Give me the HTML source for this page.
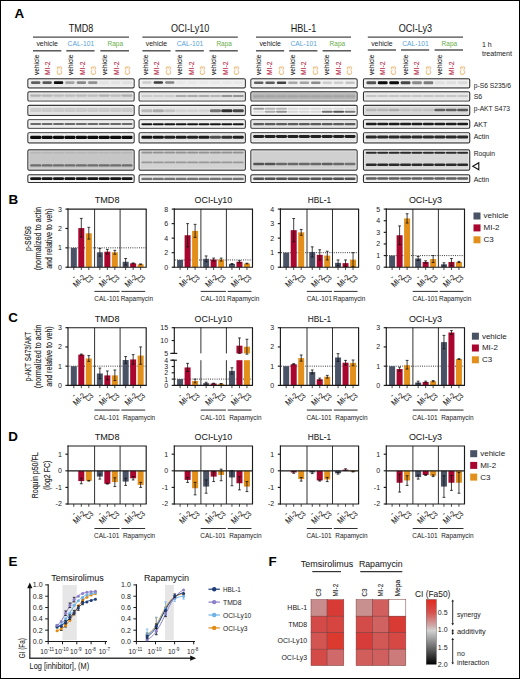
<!DOCTYPE html>
<html><head><meta charset="utf-8"><style>
html,body{margin:0;padding:0;background:#fff;}
svg{display:block;font-family:"Liberation Sans", sans-serif;}
</style></head><body>
<svg width="520" height="679" viewBox="0 0 520 679">
<defs><filter id="bl" x="-5%" y="-20%" width="110%" height="140%"><feGaussianBlur stdDeviation="0.45"/></filter></defs>
<rect x="0" y="0" width="520" height="679" fill="#fff"/>
<text x="14.60" y="17.80" font-size="13.4" fill="#000" font-weight="bold" >A</text>
<text x="8.40" y="203.70" font-size="13.4" fill="#000" font-weight="bold" >B</text>
<text x="8.20" y="322.30" font-size="13.4" fill="#000" font-weight="bold" >C</text>
<text x="8.20" y="440.60" font-size="13.4" fill="#000" font-weight="bold" >D</text>
<text x="8.60" y="565.80" font-size="13.4" fill="#000" font-weight="bold" >E</text>
<text x="268.60" y="565.60" font-size="13.4" fill="#000" font-weight="bold" >F</text>
<line x1="33.00" y1="37.10" x2="129.00" y2="37.10" stroke="#4a4a4a" stroke-width="1.4" />
<text x="81.00" y="32.10" font-size="10.4" fill="#1a1a1a" stroke="#1a1a1a" stroke-width="0.05" text-anchor="middle" textLength="24.6" lengthAdjust="spacingAndGlyphs" >TMD8</text>
<line x1="33.00" y1="50.80" x2="61.30" y2="50.80" stroke="#4a4a4a" stroke-width="1.4" />
<text x="47.15" y="46.40" font-size="7.5" fill="#1a1a1a" text-anchor="middle" textLength="21.4" lengthAdjust="spacingAndGlyphs" >vehicle</text>
<line x1="66.30" y1="50.80" x2="94.60" y2="50.80" stroke="#4a4a4a" stroke-width="1.4" />
<text x="80.85" y="46.40" font-size="7.5" fill="#5a9fd8" text-anchor="middle" textLength="26.6" lengthAdjust="spacingAndGlyphs" >CAL-101</text>
<line x1="100.30" y1="50.80" x2="129.00" y2="50.80" stroke="#4a4a4a" stroke-width="1.4" />
<text x="115.25" y="46.40" font-size="7.5" fill="#69ad47" text-anchor="middle" textLength="15.6" lengthAdjust="spacingAndGlyphs" >Rapa</text>
<text x="38.90" y="75.00" font-size="7.2" fill="#1a1a1a" stroke="#1a1a1a" stroke-width="0.08" textLength="20.4" lengthAdjust="spacingAndGlyphs" transform="rotate(-90 38.90 75.00)" >vehicle</text>
<text x="50.32" y="75.00" font-size="7.2" fill="#b5193d" stroke="#b5193d" stroke-width="0.08" textLength="13.4" lengthAdjust="spacingAndGlyphs" transform="rotate(-90 50.32 75.00)" >MI-2</text>
<text x="61.74" y="75.00" font-size="7.2" fill="#e6a23c" textLength="9.0" lengthAdjust="spacingAndGlyphs" transform="rotate(-90 61.74 75.00)" >C3</text>
<text x="73.16" y="75.00" font-size="7.2" fill="#1a1a1a" stroke="#1a1a1a" stroke-width="0.08" textLength="20.4" lengthAdjust="spacingAndGlyphs" transform="rotate(-90 73.16 75.00)" >vehicle</text>
<text x="84.58" y="75.00" font-size="7.2" fill="#b5193d" stroke="#b5193d" stroke-width="0.08" textLength="13.4" lengthAdjust="spacingAndGlyphs" transform="rotate(-90 84.58 75.00)" >MI-2</text>
<text x="96.00" y="75.00" font-size="7.2" fill="#e6a23c" textLength="9.0" lengthAdjust="spacingAndGlyphs" transform="rotate(-90 96.00 75.00)" >C3</text>
<text x="107.42" y="75.00" font-size="7.2" fill="#1a1a1a" stroke="#1a1a1a" stroke-width="0.08" textLength="20.4" lengthAdjust="spacingAndGlyphs" transform="rotate(-90 107.42 75.00)" >vehicle</text>
<text x="118.84" y="75.00" font-size="7.2" fill="#b5193d" stroke="#b5193d" stroke-width="0.08" textLength="13.4" lengthAdjust="spacingAndGlyphs" transform="rotate(-90 118.84 75.00)" >MI-2</text>
<text x="130.26" y="75.00" font-size="7.2" fill="#e6a23c" textLength="9.0" lengthAdjust="spacingAndGlyphs" transform="rotate(-90 130.26 75.00)" >C3</text>
<line x1="142.40" y1="37.10" x2="237.80" y2="37.10" stroke="#4a4a4a" stroke-width="1.4" />
<text x="190.10" y="32.10" font-size="10.4" fill="#1a1a1a" stroke="#1a1a1a" stroke-width="0.05" text-anchor="middle" textLength="38.4" lengthAdjust="spacingAndGlyphs" >OCI-Ly10</text>
<line x1="142.40" y1="50.80" x2="170.60" y2="50.80" stroke="#4a4a4a" stroke-width="1.4" />
<text x="156.50" y="46.40" font-size="7.5" fill="#1a1a1a" text-anchor="middle" textLength="21.4" lengthAdjust="spacingAndGlyphs" >vehicle</text>
<line x1="175.40" y1="50.80" x2="203.80" y2="50.80" stroke="#4a4a4a" stroke-width="1.4" />
<text x="190.00" y="46.40" font-size="7.5" fill="#5a9fd8" text-anchor="middle" textLength="26.6" lengthAdjust="spacingAndGlyphs" >CAL-101</text>
<line x1="209.40" y1="50.80" x2="237.80" y2="50.80" stroke="#4a4a4a" stroke-width="1.4" />
<text x="224.20" y="46.40" font-size="7.5" fill="#69ad47" text-anchor="middle" textLength="15.6" lengthAdjust="spacingAndGlyphs" >Rapa</text>
<text x="147.90" y="75.00" font-size="7.2" fill="#1a1a1a" stroke="#1a1a1a" stroke-width="0.08" textLength="20.4" lengthAdjust="spacingAndGlyphs" transform="rotate(-90 147.90 75.00)" >vehicle</text>
<text x="159.32" y="75.00" font-size="7.2" fill="#b5193d" stroke="#b5193d" stroke-width="0.08" textLength="13.4" lengthAdjust="spacingAndGlyphs" transform="rotate(-90 159.32 75.00)" >MI-2</text>
<text x="170.74" y="75.00" font-size="7.2" fill="#e6a23c" textLength="9.0" lengthAdjust="spacingAndGlyphs" transform="rotate(-90 170.74 75.00)" >C3</text>
<text x="182.16" y="75.00" font-size="7.2" fill="#1a1a1a" stroke="#1a1a1a" stroke-width="0.08" textLength="20.4" lengthAdjust="spacingAndGlyphs" transform="rotate(-90 182.16 75.00)" >vehicle</text>
<text x="193.58" y="75.00" font-size="7.2" fill="#b5193d" stroke="#b5193d" stroke-width="0.08" textLength="13.4" lengthAdjust="spacingAndGlyphs" transform="rotate(-90 193.58 75.00)" >MI-2</text>
<text x="205.00" y="75.00" font-size="7.2" fill="#e6a23c" textLength="9.0" lengthAdjust="spacingAndGlyphs" transform="rotate(-90 205.00 75.00)" >C3</text>
<text x="216.42" y="75.00" font-size="7.2" fill="#1a1a1a" stroke="#1a1a1a" stroke-width="0.08" textLength="20.4" lengthAdjust="spacingAndGlyphs" transform="rotate(-90 216.42 75.00)" >vehicle</text>
<text x="227.84" y="75.00" font-size="7.2" fill="#b5193d" stroke="#b5193d" stroke-width="0.08" textLength="13.4" lengthAdjust="spacingAndGlyphs" transform="rotate(-90 227.84 75.00)" >MI-2</text>
<text x="239.26" y="75.00" font-size="7.2" fill="#e6a23c" textLength="9.0" lengthAdjust="spacingAndGlyphs" transform="rotate(-90 239.26 75.00)" >C3</text>
<line x1="256.00" y1="37.10" x2="351.00" y2="37.10" stroke="#4a4a4a" stroke-width="1.4" />
<text x="303.50" y="32.10" font-size="10.4" fill="#1a1a1a" stroke="#1a1a1a" stroke-width="0.05" text-anchor="middle" textLength="25.6" lengthAdjust="spacingAndGlyphs" >HBL-1</text>
<line x1="256.00" y1="50.80" x2="284.20" y2="50.80" stroke="#4a4a4a" stroke-width="1.4" />
<text x="270.10" y="46.40" font-size="7.5" fill="#1a1a1a" text-anchor="middle" textLength="21.4" lengthAdjust="spacingAndGlyphs" >vehicle</text>
<line x1="289.20" y1="50.80" x2="317.40" y2="50.80" stroke="#4a4a4a" stroke-width="1.4" />
<text x="303.70" y="46.40" font-size="7.5" fill="#5a9fd8" text-anchor="middle" textLength="26.6" lengthAdjust="spacingAndGlyphs" >CAL-101</text>
<line x1="322.60" y1="50.80" x2="351.00" y2="50.80" stroke="#4a4a4a" stroke-width="1.4" />
<text x="337.40" y="46.40" font-size="7.5" fill="#69ad47" text-anchor="middle" textLength="15.6" lengthAdjust="spacingAndGlyphs" >Rapa</text>
<text x="260.80" y="75.00" font-size="7.2" fill="#1a1a1a" stroke="#1a1a1a" stroke-width="0.08" textLength="20.4" lengthAdjust="spacingAndGlyphs" transform="rotate(-90 260.80 75.00)" >vehicle</text>
<text x="272.22" y="75.00" font-size="7.2" fill="#b5193d" stroke="#b5193d" stroke-width="0.08" textLength="13.4" lengthAdjust="spacingAndGlyphs" transform="rotate(-90 272.22 75.00)" >MI-2</text>
<text x="283.64" y="75.00" font-size="7.2" fill="#e6a23c" textLength="9.0" lengthAdjust="spacingAndGlyphs" transform="rotate(-90 283.64 75.00)" >C3</text>
<text x="295.06" y="75.00" font-size="7.2" fill="#1a1a1a" stroke="#1a1a1a" stroke-width="0.08" textLength="20.4" lengthAdjust="spacingAndGlyphs" transform="rotate(-90 295.06 75.00)" >vehicle</text>
<text x="306.48" y="75.00" font-size="7.2" fill="#b5193d" stroke="#b5193d" stroke-width="0.08" textLength="13.4" lengthAdjust="spacingAndGlyphs" transform="rotate(-90 306.48 75.00)" >MI-2</text>
<text x="317.90" y="75.00" font-size="7.2" fill="#e6a23c" textLength="9.0" lengthAdjust="spacingAndGlyphs" transform="rotate(-90 317.90 75.00)" >C3</text>
<text x="329.32" y="75.00" font-size="7.2" fill="#1a1a1a" stroke="#1a1a1a" stroke-width="0.08" textLength="20.4" lengthAdjust="spacingAndGlyphs" transform="rotate(-90 329.32 75.00)" >vehicle</text>
<text x="340.74" y="75.00" font-size="7.2" fill="#b5193d" stroke="#b5193d" stroke-width="0.08" textLength="13.4" lengthAdjust="spacingAndGlyphs" transform="rotate(-90 340.74 75.00)" >MI-2</text>
<text x="352.16" y="75.00" font-size="7.2" fill="#e6a23c" textLength="9.0" lengthAdjust="spacingAndGlyphs" transform="rotate(-90 352.16 75.00)" >C3</text>
<line x1="367.80" y1="37.10" x2="463.00" y2="37.10" stroke="#4a4a4a" stroke-width="1.4" />
<text x="415.40" y="32.10" font-size="10.4" fill="#1a1a1a" stroke="#1a1a1a" stroke-width="0.05" text-anchor="middle" textLength="33.4" lengthAdjust="spacingAndGlyphs" >OCI-Ly3</text>
<line x1="367.80" y1="50.00" x2="396.00" y2="50.00" stroke="#4a4a4a" stroke-width="1.4" />
<text x="381.90" y="46.40" font-size="7.5" fill="#1a1a1a" text-anchor="middle" textLength="21.4" lengthAdjust="spacingAndGlyphs" >vehicle</text>
<line x1="401.00" y1="50.00" x2="429.20" y2="50.00" stroke="#4a4a4a" stroke-width="1.4" />
<text x="415.50" y="46.40" font-size="7.5" fill="#5a9fd8" text-anchor="middle" textLength="26.6" lengthAdjust="spacingAndGlyphs" >CAL-101</text>
<line x1="434.60" y1="50.00" x2="463.00" y2="50.00" stroke="#4a4a4a" stroke-width="1.4" />
<text x="449.40" y="46.40" font-size="7.5" fill="#69ad47" text-anchor="middle" textLength="15.6" lengthAdjust="spacingAndGlyphs" >Rapa</text>
<text x="373.60" y="75.00" font-size="7.2" fill="#1a1a1a" stroke="#1a1a1a" stroke-width="0.08" textLength="20.4" lengthAdjust="spacingAndGlyphs" transform="rotate(-90 373.60 75.00)" >vehicle</text>
<text x="385.02" y="75.00" font-size="7.2" fill="#b5193d" stroke="#b5193d" stroke-width="0.08" textLength="13.4" lengthAdjust="spacingAndGlyphs" transform="rotate(-90 385.02 75.00)" >MI-2</text>
<text x="396.44" y="75.00" font-size="7.2" fill="#e6a23c" textLength="9.0" lengthAdjust="spacingAndGlyphs" transform="rotate(-90 396.44 75.00)" >C3</text>
<text x="407.86" y="75.00" font-size="7.2" fill="#1a1a1a" stroke="#1a1a1a" stroke-width="0.08" textLength="20.4" lengthAdjust="spacingAndGlyphs" transform="rotate(-90 407.86 75.00)" >vehicle</text>
<text x="419.28" y="75.00" font-size="7.2" fill="#b5193d" stroke="#b5193d" stroke-width="0.08" textLength="13.4" lengthAdjust="spacingAndGlyphs" transform="rotate(-90 419.28 75.00)" >MI-2</text>
<text x="430.70" y="75.00" font-size="7.2" fill="#e6a23c" textLength="9.0" lengthAdjust="spacingAndGlyphs" transform="rotate(-90 430.70 75.00)" >C3</text>
<text x="442.12" y="75.00" font-size="7.2" fill="#1a1a1a" stroke="#1a1a1a" stroke-width="0.08" textLength="20.4" lengthAdjust="spacingAndGlyphs" transform="rotate(-90 442.12 75.00)" >vehicle</text>
<text x="453.54" y="75.00" font-size="7.2" fill="#b5193d" stroke="#b5193d" stroke-width="0.08" textLength="13.4" lengthAdjust="spacingAndGlyphs" transform="rotate(-90 453.54 75.00)" >MI-2</text>
<text x="464.96" y="75.00" font-size="7.2" fill="#e6a23c" textLength="9.0" lengthAdjust="spacingAndGlyphs" transform="rotate(-90 464.96 75.00)" >C3</text>
<text x="482.00" y="46.60" font-size="7" fill="#1a1a1a" >1 h</text>
<text x="482.00" y="55.80" font-size="7" fill="#1a1a1a" textLength="30" lengthAdjust="spacingAndGlyphs" >treatment</text>
<g filter="url(#bl)">
<rect x="28.00" y="78.90" width="106.00" height="8.90" fill="#ebebeb" />
<rect x="31.00" y="81.20" width="9.40" height="2.80" rx="1.3" fill="#000" fill-opacity="0.60"/>
<rect x="42.42" y="81.20" width="9.40" height="2.80" rx="1.3" fill="#000" fill-opacity="0.62"/>
<rect x="53.84" y="81.20" width="9.40" height="2.80" rx="1.3" fill="#000" fill-opacity="0.97"/>
<rect x="65.26" y="81.20" width="9.40" height="2.80" rx="1.3" fill="#000" fill-opacity="0.30"/>
<rect x="76.68" y="81.20" width="9.40" height="2.80" rx="1.3" fill="#000" fill-opacity="0.42"/>
<rect x="88.10" y="81.20" width="9.40" height="2.80" rx="1.3" fill="#000" fill-opacity="0.38"/>
<rect x="99.52" y="81.20" width="9.40" height="2.80" rx="1.3" fill="#000" fill-opacity="0.04"/>
<rect x="110.94" y="81.20" width="9.40" height="2.80" rx="1.3" fill="#000" fill-opacity="0.04"/>
<rect x="122.36" y="81.20" width="9.40" height="2.80" rx="1.3" fill="#000" fill-opacity="0.05"/>
<rect x="28.00" y="91.90" width="106.00" height="9.00" fill="#dedede" />
<rect x="30.15" y="94.50" width="11.10" height="2.20" rx="1.3" fill="#000" fill-opacity="0.20"/>
<rect x="41.57" y="94.50" width="11.10" height="2.20" rx="1.3" fill="#000" fill-opacity="0.18"/>
<rect x="52.99" y="94.50" width="11.10" height="2.20" rx="1.3" fill="#000" fill-opacity="0.15"/>
<rect x="64.41" y="94.50" width="11.10" height="2.20" rx="1.3" fill="#000" fill-opacity="0.15"/>
<rect x="75.83" y="94.50" width="11.10" height="2.20" rx="1.3" fill="#000" fill-opacity="0.16"/>
<rect x="87.25" y="94.50" width="11.10" height="2.20" rx="1.3" fill="#000" fill-opacity="0.14"/>
<rect x="98.67" y="94.50" width="11.10" height="2.20" rx="1.3" fill="#000" fill-opacity="0.20"/>
<rect x="110.09" y="94.50" width="11.10" height="2.20" rx="1.3" fill="#000" fill-opacity="0.14"/>
<rect x="121.51" y="94.50" width="11.10" height="2.20" rx="1.3" fill="#000" fill-opacity="0.22"/>
<rect x="28.00" y="105.40" width="106.00" height="9.90" fill="#e2e2e2" />
<rect x="30.15" y="108.00" width="11.10" height="4.00" rx="1.3" fill="#000" fill-opacity="0.10"/>
<rect x="41.57" y="108.00" width="11.10" height="4.00" rx="1.3" fill="#000" fill-opacity="0.10"/>
<rect x="52.99" y="108.00" width="11.10" height="4.00" rx="1.3" fill="#000" fill-opacity="0.10"/>
<rect x="64.41" y="108.00" width="11.10" height="4.00" rx="1.3" fill="#000" fill-opacity="0.10"/>
<rect x="75.83" y="108.00" width="11.10" height="4.00" rx="1.3" fill="#000" fill-opacity="0.10"/>
<rect x="87.25" y="108.00" width="11.10" height="4.00" rx="1.3" fill="#000" fill-opacity="0.10"/>
<rect x="98.67" y="108.00" width="11.10" height="4.00" rx="1.3" fill="#000" fill-opacity="0.10"/>
<rect x="110.09" y="108.00" width="11.10" height="4.00" rx="1.3" fill="#000" fill-opacity="0.10"/>
<rect x="121.51" y="108.00" width="11.10" height="4.00" rx="1.3" fill="#000" fill-opacity="0.10"/>
<rect x="28.00" y="119.80" width="106.00" height="8.30" fill="#ececec" />
<rect x="30.15" y="122.90" width="11.10" height="2.20" rx="1.3" fill="#000" fill-opacity="0.55"/>
<rect x="41.57" y="122.90" width="11.10" height="2.20" rx="1.3" fill="#000" fill-opacity="0.55"/>
<rect x="52.99" y="122.90" width="11.10" height="2.20" rx="1.3" fill="#000" fill-opacity="0.55"/>
<rect x="64.41" y="122.90" width="11.10" height="2.20" rx="1.3" fill="#000" fill-opacity="0.55"/>
<rect x="75.83" y="122.90" width="11.10" height="2.20" rx="1.3" fill="#000" fill-opacity="0.55"/>
<rect x="87.25" y="122.90" width="11.10" height="2.20" rx="1.3" fill="#000" fill-opacity="0.55"/>
<rect x="98.67" y="122.90" width="11.10" height="2.20" rx="1.3" fill="#000" fill-opacity="0.55"/>
<rect x="110.09" y="122.90" width="11.10" height="2.20" rx="1.3" fill="#000" fill-opacity="0.55"/>
<rect x="121.51" y="122.90" width="11.10" height="2.20" rx="1.3" fill="#000" fill-opacity="0.55"/>
<rect x="28.00" y="132.80" width="106.00" height="10.00" fill="#ececec" />
<rect x="30.15" y="135.80" width="11.10" height="3.20" rx="1.3" fill="#000" fill-opacity="0.95"/>
<rect x="41.57" y="135.80" width="11.10" height="3.20" rx="1.3" fill="#000" fill-opacity="0.95"/>
<rect x="52.99" y="135.80" width="11.10" height="3.20" rx="1.3" fill="#000" fill-opacity="0.95"/>
<rect x="64.41" y="135.80" width="11.10" height="3.20" rx="1.3" fill="#000" fill-opacity="0.95"/>
<rect x="75.83" y="135.80" width="11.10" height="3.20" rx="1.3" fill="#000" fill-opacity="0.95"/>
<rect x="87.25" y="135.80" width="11.10" height="3.20" rx="1.3" fill="#000" fill-opacity="0.95"/>
<rect x="98.67" y="135.80" width="11.10" height="3.20" rx="1.3" fill="#000" fill-opacity="0.95"/>
<rect x="110.09" y="135.80" width="11.10" height="3.20" rx="1.3" fill="#000" fill-opacity="0.95"/>
<rect x="121.51" y="135.80" width="11.10" height="3.20" rx="1.3" fill="#000" fill-opacity="0.95"/>
<rect x="28.00" y="150.00" width="106.00" height="20.00" fill="#c6c6c6" />
<rect x="30.15" y="151.40" width="11.10" height="2.00" rx="1.3" fill="#000" fill-opacity="0.08"/>
<rect x="41.57" y="151.40" width="11.10" height="2.00" rx="1.3" fill="#000" fill-opacity="0.08"/>
<rect x="52.99" y="151.40" width="11.10" height="2.00" rx="1.3" fill="#000" fill-opacity="0.08"/>
<rect x="64.41" y="151.40" width="11.10" height="2.00" rx="1.3" fill="#000" fill-opacity="0.08"/>
<rect x="75.83" y="151.40" width="11.10" height="2.00" rx="1.3" fill="#000" fill-opacity="0.08"/>
<rect x="87.25" y="151.40" width="11.10" height="2.00" rx="1.3" fill="#000" fill-opacity="0.08"/>
<rect x="98.67" y="151.40" width="11.10" height="2.00" rx="1.3" fill="#000" fill-opacity="0.08"/>
<rect x="110.09" y="151.40" width="11.10" height="2.00" rx="1.3" fill="#000" fill-opacity="0.08"/>
<rect x="121.51" y="151.40" width="11.10" height="2.00" rx="1.3" fill="#000" fill-opacity="0.08"/>
<rect x="30.15" y="164.20" width="11.10" height="2.40" rx="1.3" fill="#000" fill-opacity="0.45"/>
<rect x="41.57" y="164.20" width="11.10" height="2.40" rx="1.3" fill="#000" fill-opacity="0.45"/>
<rect x="52.99" y="164.20" width="11.10" height="2.40" rx="1.3" fill="#000" fill-opacity="0.45"/>
<rect x="64.41" y="164.20" width="11.10" height="2.40" rx="1.3" fill="#000" fill-opacity="0.45"/>
<rect x="75.83" y="164.20" width="11.10" height="2.40" rx="1.3" fill="#000" fill-opacity="0.45"/>
<rect x="87.25" y="164.20" width="11.10" height="2.40" rx="1.3" fill="#000" fill-opacity="0.45"/>
<rect x="98.67" y="164.20" width="11.10" height="2.40" rx="1.3" fill="#000" fill-opacity="0.45"/>
<rect x="110.09" y="164.20" width="11.10" height="2.40" rx="1.3" fill="#000" fill-opacity="0.45"/>
<rect x="121.51" y="164.20" width="11.10" height="2.40" rx="1.3" fill="#000" fill-opacity="0.45"/>
<rect x="28.00" y="174.90" width="106.00" height="7.50" fill="#f2f2f2" />
<rect x="30.15" y="177.35" width="11.10" height="2.70" rx="1.3" fill="#000" fill-opacity="0.92"/>
<rect x="41.57" y="177.35" width="11.10" height="2.70" rx="1.3" fill="#000" fill-opacity="0.92"/>
<rect x="52.99" y="177.35" width="11.10" height="2.70" rx="1.3" fill="#000" fill-opacity="0.92"/>
<rect x="64.41" y="177.35" width="11.10" height="2.70" rx="1.3" fill="#000" fill-opacity="0.92"/>
<rect x="75.83" y="177.35" width="11.10" height="2.70" rx="1.3" fill="#000" fill-opacity="0.92"/>
<rect x="87.25" y="177.35" width="11.10" height="2.70" rx="1.3" fill="#000" fill-opacity="0.92"/>
<rect x="98.67" y="177.35" width="11.10" height="2.70" rx="1.3" fill="#000" fill-opacity="0.92"/>
<rect x="110.09" y="177.35" width="11.10" height="2.70" rx="1.3" fill="#000" fill-opacity="0.92"/>
<rect x="121.51" y="177.35" width="11.10" height="2.70" rx="1.3" fill="#000" fill-opacity="0.92"/>
<rect x="139.20" y="78.90" width="106.00" height="8.90" fill="#efefef" />
<rect x="142.20" y="81.30" width="9.40" height="2.40" rx="1.3" fill="#000" fill-opacity="0.15"/>
<rect x="153.62" y="81.30" width="9.40" height="2.40" rx="1.3" fill="#000" fill-opacity="0.75"/>
<rect x="165.04" y="81.30" width="9.40" height="2.40" rx="1.3" fill="#000" fill-opacity="0.45"/>
<rect x="176.46" y="81.30" width="9.40" height="2.40" rx="1.3" fill="#000" fill-opacity="0.03"/>
<rect x="187.88" y="81.30" width="9.40" height="2.40" rx="1.3" fill="#000" fill-opacity="0.03"/>
<rect x="199.30" y="81.30" width="9.40" height="2.40" rx="1.3" fill="#000" fill-opacity="0.03"/>
<rect x="210.72" y="81.30" width="9.40" height="2.40" rx="1.3" fill="#000" fill-opacity="0.03"/>
<rect x="222.14" y="81.30" width="9.40" height="2.40" rx="1.3" fill="#000" fill-opacity="0.03"/>
<rect x="233.56" y="81.30" width="9.40" height="2.40" rx="1.3" fill="#000" fill-opacity="0.03"/>
<rect x="139.20" y="91.90" width="106.00" height="9.00" fill="#e3e3e3" />
<rect x="141.35" y="94.90" width="11.10" height="2.00" rx="1.3" fill="#000" fill-opacity="0.10"/>
<rect x="152.77" y="94.90" width="11.10" height="2.00" rx="1.3" fill="#000" fill-opacity="0.10"/>
<rect x="164.19" y="94.90" width="11.10" height="2.00" rx="1.3" fill="#000" fill-opacity="0.10"/>
<rect x="175.61" y="94.90" width="11.10" height="2.00" rx="1.3" fill="#000" fill-opacity="0.25"/>
<rect x="187.03" y="94.90" width="11.10" height="2.00" rx="1.3" fill="#000" fill-opacity="0.25"/>
<rect x="198.45" y="94.90" width="11.10" height="2.00" rx="1.3" fill="#000" fill-opacity="0.25"/>
<rect x="209.87" y="94.90" width="11.10" height="2.00" rx="1.3" fill="#000" fill-opacity="0.20"/>
<rect x="221.29" y="94.90" width="11.10" height="2.00" rx="1.3" fill="#000" fill-opacity="0.35"/>
<rect x="232.71" y="94.90" width="11.10" height="2.00" rx="1.3" fill="#000" fill-opacity="0.35"/>
<rect x="139.20" y="105.40" width="106.00" height="9.90" fill="#e6e6e6" />
<rect x="141.35" y="109.30" width="11.10" height="3.00" rx="1.3" fill="#000" fill-opacity="0.20"/>
<rect x="152.77" y="109.30" width="11.10" height="3.00" rx="1.3" fill="#000" fill-opacity="0.25"/>
<rect x="164.19" y="109.30" width="11.10" height="3.00" rx="1.3" fill="#000" fill-opacity="0.15"/>
<rect x="175.61" y="109.30" width="11.10" height="3.00" rx="1.3" fill="#000" fill-opacity="0.08"/>
<rect x="187.03" y="109.30" width="11.10" height="3.00" rx="1.3" fill="#000" fill-opacity="0.08"/>
<rect x="198.45" y="109.30" width="11.10" height="3.00" rx="1.3" fill="#000" fill-opacity="0.08"/>
<rect x="209.87" y="109.30" width="11.10" height="3.00" rx="1.3" fill="#000" fill-opacity="0.50"/>
<rect x="221.29" y="109.30" width="11.10" height="3.00" rx="1.3" fill="#000" fill-opacity="0.80"/>
<rect x="232.71" y="109.30" width="11.10" height="3.00" rx="1.3" fill="#000" fill-opacity="0.70"/>
<rect x="139.20" y="119.80" width="106.00" height="8.30" fill="#eeeeee" />
<rect x="141.35" y="123.15" width="11.10" height="2.10" rx="1.3" fill="#000" fill-opacity="0.90"/>
<rect x="152.77" y="123.15" width="11.10" height="2.10" rx="1.3" fill="#000" fill-opacity="0.90"/>
<rect x="164.19" y="123.15" width="11.10" height="2.10" rx="1.3" fill="#000" fill-opacity="0.90"/>
<rect x="175.61" y="123.15" width="11.10" height="2.10" rx="1.3" fill="#000" fill-opacity="0.90"/>
<rect x="187.03" y="123.15" width="11.10" height="2.10" rx="1.3" fill="#000" fill-opacity="0.90"/>
<rect x="198.45" y="123.15" width="11.10" height="2.10" rx="1.3" fill="#000" fill-opacity="0.90"/>
<rect x="209.87" y="123.15" width="11.10" height="2.10" rx="1.3" fill="#000" fill-opacity="0.90"/>
<rect x="221.29" y="123.15" width="11.10" height="2.10" rx="1.3" fill="#000" fill-opacity="0.90"/>
<rect x="232.71" y="123.15" width="11.10" height="2.10" rx="1.3" fill="#000" fill-opacity="0.90"/>
<rect x="139.20" y="132.80" width="106.00" height="10.00" fill="#e6e6e6" />
<rect x="141.35" y="135.70" width="11.10" height="3.00" rx="1.3" fill="#000" fill-opacity="0.90"/>
<rect x="152.77" y="135.70" width="11.10" height="3.00" rx="1.3" fill="#000" fill-opacity="0.90"/>
<rect x="164.19" y="135.70" width="11.10" height="3.00" rx="1.3" fill="#000" fill-opacity="0.85"/>
<rect x="175.61" y="135.70" width="11.10" height="3.00" rx="1.3" fill="#000" fill-opacity="0.88"/>
<rect x="187.03" y="135.70" width="11.10" height="3.00" rx="1.3" fill="#000" fill-opacity="0.85"/>
<rect x="198.45" y="135.70" width="11.10" height="3.00" rx="1.3" fill="#000" fill-opacity="0.88"/>
<rect x="209.87" y="135.70" width="11.10" height="3.00" rx="1.3" fill="#000" fill-opacity="0.65"/>
<rect x="221.29" y="135.70" width="11.10" height="3.00" rx="1.3" fill="#000" fill-opacity="0.78"/>
<rect x="232.71" y="135.70" width="11.10" height="3.00" rx="1.3" fill="#000" fill-opacity="0.85"/>
<rect x="139.20" y="150.00" width="106.00" height="20.00" fill="#d2d2d2" />
<rect x="141.35" y="151.60" width="11.10" height="2.00" rx="1.3" fill="#000" fill-opacity="0.30"/>
<rect x="152.77" y="151.60" width="11.10" height="2.00" rx="1.3" fill="#000" fill-opacity="0.30"/>
<rect x="164.19" y="151.60" width="11.10" height="2.00" rx="1.3" fill="#000" fill-opacity="0.30"/>
<rect x="175.61" y="151.60" width="11.10" height="2.00" rx="1.3" fill="#000" fill-opacity="0.30"/>
<rect x="187.03" y="151.60" width="11.10" height="2.00" rx="1.3" fill="#000" fill-opacity="0.30"/>
<rect x="198.45" y="151.60" width="11.10" height="2.00" rx="1.3" fill="#000" fill-opacity="0.30"/>
<rect x="209.87" y="151.60" width="11.10" height="2.00" rx="1.3" fill="#000" fill-opacity="0.30"/>
<rect x="221.29" y="151.60" width="11.10" height="2.00" rx="1.3" fill="#000" fill-opacity="0.30"/>
<rect x="232.71" y="151.60" width="11.10" height="2.00" rx="1.3" fill="#000" fill-opacity="0.30"/>
<rect x="141.35" y="161.50" width="11.10" height="1.80" rx="1.3" fill="#000" fill-opacity="0.28"/>
<rect x="152.77" y="161.50" width="11.10" height="1.80" rx="1.3" fill="#000" fill-opacity="0.28"/>
<rect x="164.19" y="161.50" width="11.10" height="1.80" rx="1.3" fill="#000" fill-opacity="0.28"/>
<rect x="175.61" y="161.50" width="11.10" height="1.80" rx="1.3" fill="#000" fill-opacity="0.28"/>
<rect x="187.03" y="161.50" width="11.10" height="1.80" rx="1.3" fill="#000" fill-opacity="0.28"/>
<rect x="198.45" y="161.50" width="11.10" height="1.80" rx="1.3" fill="#000" fill-opacity="0.28"/>
<rect x="209.87" y="161.50" width="11.10" height="1.80" rx="1.3" fill="#000" fill-opacity="0.28"/>
<rect x="221.29" y="161.50" width="11.10" height="1.80" rx="1.3" fill="#000" fill-opacity="0.28"/>
<rect x="232.71" y="161.50" width="11.10" height="1.80" rx="1.3" fill="#000" fill-opacity="0.28"/>
<rect x="139.20" y="174.90" width="106.00" height="7.50" fill="#e8e8e8" />
<rect x="141.35" y="177.70" width="11.10" height="2.40" rx="1.3" fill="#000" fill-opacity="0.50"/>
<rect x="152.77" y="177.70" width="11.10" height="2.40" rx="1.3" fill="#000" fill-opacity="0.50"/>
<rect x="164.19" y="177.70" width="11.10" height="2.40" rx="1.3" fill="#000" fill-opacity="0.50"/>
<rect x="175.61" y="177.70" width="11.10" height="2.40" rx="1.3" fill="#000" fill-opacity="0.50"/>
<rect x="187.03" y="177.70" width="11.10" height="2.40" rx="1.3" fill="#000" fill-opacity="0.50"/>
<rect x="198.45" y="177.70" width="11.10" height="2.40" rx="1.3" fill="#000" fill-opacity="0.50"/>
<rect x="209.87" y="177.70" width="11.10" height="2.40" rx="1.3" fill="#000" fill-opacity="0.50"/>
<rect x="221.29" y="177.70" width="11.10" height="2.40" rx="1.3" fill="#000" fill-opacity="0.50"/>
<rect x="232.71" y="177.70" width="11.10" height="2.40" rx="1.3" fill="#000" fill-opacity="0.50"/>
<rect x="251.00" y="78.90" width="106.00" height="8.90" fill="#f0f0f0" />
<rect x="253.90" y="81.50" width="9.60" height="2.40" rx="1.3" fill="#000" fill-opacity="0.60"/>
<rect x="265.32" y="81.50" width="9.60" height="2.40" rx="1.3" fill="#000" fill-opacity="0.62"/>
<rect x="276.74" y="81.50" width="9.60" height="2.40" rx="1.3" fill="#000" fill-opacity="0.72"/>
<rect x="288.16" y="81.50" width="9.60" height="2.40" rx="1.3" fill="#000" fill-opacity="0.30"/>
<rect x="299.58" y="81.50" width="9.60" height="2.40" rx="1.3" fill="#000" fill-opacity="0.32"/>
<rect x="311.00" y="81.50" width="9.60" height="2.40" rx="1.3" fill="#000" fill-opacity="0.42"/>
<rect x="322.42" y="81.50" width="9.60" height="2.40" rx="1.3" fill="#000" fill-opacity="0.15"/>
<rect x="333.84" y="81.50" width="9.60" height="2.40" rx="1.3" fill="#000" fill-opacity="0.15"/>
<rect x="345.26" y="81.50" width="9.60" height="2.40" rx="1.3" fill="#000" fill-opacity="0.18"/>
<rect x="251.00" y="91.90" width="106.00" height="9.00" fill="#b6b6b6" />
<rect x="253.15" y="95.30" width="11.10" height="2.00" rx="1.3" fill="#000" fill-opacity="0.10"/>
<rect x="264.57" y="95.30" width="11.10" height="2.00" rx="1.3" fill="#000" fill-opacity="0.10"/>
<rect x="275.99" y="95.30" width="11.10" height="2.00" rx="1.3" fill="#000" fill-opacity="0.10"/>
<rect x="287.41" y="95.30" width="11.10" height="2.00" rx="1.3" fill="#000" fill-opacity="0.10"/>
<rect x="298.83" y="95.30" width="11.10" height="2.00" rx="1.3" fill="#000" fill-opacity="0.10"/>
<rect x="310.25" y="95.30" width="11.10" height="2.00" rx="1.3" fill="#000" fill-opacity="0.10"/>
<rect x="321.67" y="95.30" width="11.10" height="2.00" rx="1.3" fill="#000" fill-opacity="0.10"/>
<rect x="333.09" y="95.30" width="11.10" height="2.00" rx="1.3" fill="#000" fill-opacity="0.10"/>
<rect x="344.51" y="95.30" width="11.10" height="2.00" rx="1.3" fill="#000" fill-opacity="0.10"/>
<rect x="251.00" y="105.40" width="106.00" height="9.90" fill="#f5f5f5" />
<rect x="253.15" y="107.80" width="11.10" height="2.00" rx="1.3" fill="#000" fill-opacity="0.35"/>
<rect x="264.57" y="107.80" width="11.10" height="2.00" rx="1.3" fill="#000" fill-opacity="0.25"/>
<rect x="275.99" y="107.80" width="11.10" height="2.00" rx="1.3" fill="#000" fill-opacity="0.25"/>
<rect x="287.41" y="107.80" width="11.10" height="2.00" rx="1.3" fill="#000" fill-opacity="0.10"/>
<rect x="298.83" y="107.80" width="11.10" height="2.00" rx="1.3" fill="#000" fill-opacity="0.10"/>
<rect x="310.25" y="107.80" width="11.10" height="2.00" rx="1.3" fill="#000" fill-opacity="0.10"/>
<rect x="321.67" y="107.80" width="11.10" height="2.00" rx="1.3" fill="#000" fill-opacity="0.10"/>
<rect x="333.09" y="107.80" width="11.10" height="2.00" rx="1.3" fill="#000" fill-opacity="0.10"/>
<rect x="344.51" y="107.80" width="11.10" height="2.00" rx="1.3" fill="#000" fill-opacity="0.10"/>
<rect x="253.15" y="110.80" width="11.10" height="2.00" rx="1.3" fill="#000" fill-opacity="0.10"/>
<rect x="264.57" y="110.80" width="11.10" height="2.00" rx="1.3" fill="#000" fill-opacity="0.30"/>
<rect x="275.99" y="110.80" width="11.10" height="2.00" rx="1.3" fill="#000" fill-opacity="0.40"/>
<rect x="287.41" y="110.80" width="11.10" height="2.00" rx="1.3" fill="#000" fill-opacity="0.12"/>
<rect x="298.83" y="110.80" width="11.10" height="2.00" rx="1.3" fill="#000" fill-opacity="0.12"/>
<rect x="310.25" y="110.80" width="11.10" height="2.00" rx="1.3" fill="#000" fill-opacity="0.12"/>
<rect x="321.67" y="110.80" width="11.10" height="2.00" rx="1.3" fill="#000" fill-opacity="0.55"/>
<rect x="333.09" y="110.80" width="11.10" height="2.00" rx="1.3" fill="#000" fill-opacity="0.65"/>
<rect x="344.51" y="110.80" width="11.10" height="2.00" rx="1.3" fill="#000" fill-opacity="0.50"/>
<rect x="251.00" y="119.80" width="106.00" height="8.30" fill="#e4e4e4" />
<rect x="253.15" y="123.10" width="11.10" height="2.20" rx="1.3" fill="#000" fill-opacity="0.60"/>
<rect x="264.57" y="123.10" width="11.10" height="2.20" rx="1.3" fill="#000" fill-opacity="0.60"/>
<rect x="275.99" y="123.10" width="11.10" height="2.20" rx="1.3" fill="#000" fill-opacity="0.60"/>
<rect x="287.41" y="123.10" width="11.10" height="2.20" rx="1.3" fill="#000" fill-opacity="0.60"/>
<rect x="298.83" y="123.10" width="11.10" height="2.20" rx="1.3" fill="#000" fill-opacity="0.60"/>
<rect x="310.25" y="123.10" width="11.10" height="2.20" rx="1.3" fill="#000" fill-opacity="0.60"/>
<rect x="321.67" y="123.10" width="11.10" height="2.20" rx="1.3" fill="#000" fill-opacity="0.60"/>
<rect x="333.09" y="123.10" width="11.10" height="2.20" rx="1.3" fill="#000" fill-opacity="0.60"/>
<rect x="344.51" y="123.10" width="11.10" height="2.20" rx="1.3" fill="#000" fill-opacity="0.60"/>
<rect x="251.00" y="132.80" width="106.00" height="10.00" fill="#e6e6e6" />
<rect x="253.15" y="134.90" width="11.10" height="3.00" rx="1.3" fill="#000" fill-opacity="0.85"/>
<rect x="264.57" y="134.90" width="11.10" height="3.00" rx="1.3" fill="#000" fill-opacity="0.85"/>
<rect x="275.99" y="134.90" width="11.10" height="3.00" rx="1.3" fill="#000" fill-opacity="0.85"/>
<rect x="287.41" y="134.90" width="11.10" height="3.00" rx="1.3" fill="#000" fill-opacity="0.85"/>
<rect x="298.83" y="134.90" width="11.10" height="3.00" rx="1.3" fill="#000" fill-opacity="0.85"/>
<rect x="310.25" y="134.90" width="11.10" height="3.00" rx="1.3" fill="#000" fill-opacity="0.85"/>
<rect x="321.67" y="134.90" width="11.10" height="3.00" rx="1.3" fill="#000" fill-opacity="0.85"/>
<rect x="333.09" y="134.90" width="11.10" height="3.00" rx="1.3" fill="#000" fill-opacity="0.85"/>
<rect x="344.51" y="134.90" width="11.10" height="3.00" rx="1.3" fill="#000" fill-opacity="0.85"/>
<rect x="251.00" y="150.00" width="106.00" height="20.00" fill="#d0d0d0" />
<rect x="253.15" y="162.70" width="11.10" height="2.60" rx="1.3" fill="#000" fill-opacity="0.60"/>
<rect x="264.57" y="162.70" width="11.10" height="2.60" rx="1.3" fill="#000" fill-opacity="0.60"/>
<rect x="275.99" y="162.70" width="11.10" height="2.60" rx="1.3" fill="#000" fill-opacity="0.50"/>
<rect x="287.41" y="162.70" width="11.10" height="2.60" rx="1.3" fill="#000" fill-opacity="0.50"/>
<rect x="298.83" y="162.70" width="11.10" height="2.60" rx="1.3" fill="#000" fill-opacity="0.50"/>
<rect x="310.25" y="162.70" width="11.10" height="2.60" rx="1.3" fill="#000" fill-opacity="0.50"/>
<rect x="321.67" y="162.70" width="11.10" height="2.60" rx="1.3" fill="#000" fill-opacity="0.55"/>
<rect x="333.09" y="162.70" width="11.10" height="2.60" rx="1.3" fill="#000" fill-opacity="0.50"/>
<rect x="344.51" y="162.70" width="11.10" height="2.60" rx="1.3" fill="#000" fill-opacity="0.45"/>
<rect x="251.00" y="174.90" width="106.00" height="7.50" fill="#ececec" />
<rect x="253.15" y="177.50" width="11.10" height="2.40" rx="1.3" fill="#000" fill-opacity="0.65"/>
<rect x="264.57" y="177.50" width="11.10" height="2.40" rx="1.3" fill="#000" fill-opacity="0.65"/>
<rect x="275.99" y="177.50" width="11.10" height="2.40" rx="1.3" fill="#000" fill-opacity="0.65"/>
<rect x="287.41" y="177.50" width="11.10" height="2.40" rx="1.3" fill="#000" fill-opacity="0.65"/>
<rect x="298.83" y="177.50" width="11.10" height="2.40" rx="1.3" fill="#000" fill-opacity="0.65"/>
<rect x="310.25" y="177.50" width="11.10" height="2.40" rx="1.3" fill="#000" fill-opacity="0.65"/>
<rect x="321.67" y="177.50" width="11.10" height="2.40" rx="1.3" fill="#000" fill-opacity="0.65"/>
<rect x="333.09" y="177.50" width="11.10" height="2.40" rx="1.3" fill="#000" fill-opacity="0.65"/>
<rect x="344.51" y="177.50" width="11.10" height="2.40" rx="1.3" fill="#000" fill-opacity="0.65"/>
<rect x="363.60" y="78.90" width="106.00" height="8.90" fill="#eeeeee" />
<rect x="366.40" y="81.20" width="9.80" height="3.00" rx="1.3" fill="#000" fill-opacity="0.65"/>
<rect x="377.82" y="81.20" width="9.80" height="3.00" rx="1.3" fill="#000" fill-opacity="0.97"/>
<rect x="389.24" y="81.20" width="9.80" height="3.00" rx="1.3" fill="#000" fill-opacity="0.97"/>
<rect x="400.66" y="81.20" width="9.80" height="3.00" rx="1.3" fill="#000" fill-opacity="0.70"/>
<rect x="412.08" y="81.20" width="9.80" height="3.00" rx="1.3" fill="#000" fill-opacity="0.42"/>
<rect x="423.50" y="81.20" width="9.80" height="3.00" rx="1.3" fill="#000" fill-opacity="0.48"/>
<rect x="434.92" y="81.20" width="9.80" height="3.00" rx="1.3" fill="#000" fill-opacity="0.06"/>
<rect x="446.34" y="81.20" width="9.80" height="3.00" rx="1.3" fill="#000" fill-opacity="0.06"/>
<rect x="457.76" y="81.20" width="9.80" height="3.00" rx="1.3" fill="#000" fill-opacity="0.08"/>
<rect x="363.60" y="91.90" width="106.00" height="9.00" fill="#e6e6e6" />
<rect x="365.75" y="95.10" width="11.10" height="2.00" rx="1.3" fill="#000" fill-opacity="0.14"/>
<rect x="377.17" y="95.10" width="11.10" height="2.00" rx="1.3" fill="#000" fill-opacity="0.14"/>
<rect x="388.59" y="95.10" width="11.10" height="2.00" rx="1.3" fill="#000" fill-opacity="0.14"/>
<rect x="400.01" y="95.10" width="11.10" height="2.00" rx="1.3" fill="#000" fill-opacity="0.14"/>
<rect x="411.43" y="95.10" width="11.10" height="2.00" rx="1.3" fill="#000" fill-opacity="0.14"/>
<rect x="422.85" y="95.10" width="11.10" height="2.00" rx="1.3" fill="#000" fill-opacity="0.14"/>
<rect x="434.27" y="95.10" width="11.10" height="2.00" rx="1.3" fill="#000" fill-opacity="0.14"/>
<rect x="445.69" y="95.10" width="11.10" height="2.00" rx="1.3" fill="#000" fill-opacity="0.14"/>
<rect x="457.11" y="95.10" width="11.10" height="2.00" rx="1.3" fill="#000" fill-opacity="0.14"/>
<rect x="363.60" y="105.40" width="106.00" height="9.90" fill="#d8d8d8" />
<rect x="365.75" y="108.70" width="11.10" height="2.60" rx="1.3" fill="#000" fill-opacity="0.15"/>
<rect x="377.17" y="108.70" width="11.10" height="2.60" rx="1.3" fill="#000" fill-opacity="0.15"/>
<rect x="388.59" y="108.70" width="11.10" height="2.60" rx="1.3" fill="#000" fill-opacity="0.20"/>
<rect x="400.01" y="108.70" width="11.10" height="2.60" rx="1.3" fill="#000" fill-opacity="0.10"/>
<rect x="411.43" y="108.70" width="11.10" height="2.60" rx="1.3" fill="#000" fill-opacity="0.10"/>
<rect x="422.85" y="108.70" width="11.10" height="2.60" rx="1.3" fill="#000" fill-opacity="0.10"/>
<rect x="434.27" y="108.70" width="11.10" height="2.60" rx="1.3" fill="#000" fill-opacity="0.55"/>
<rect x="445.69" y="108.70" width="11.10" height="2.60" rx="1.3" fill="#000" fill-opacity="0.55"/>
<rect x="457.11" y="108.70" width="11.10" height="2.60" rx="1.3" fill="#000" fill-opacity="0.60"/>
<rect x="363.60" y="119.80" width="106.00" height="8.30" fill="#e8e8e8" />
<rect x="365.75" y="122.70" width="11.10" height="2.60" rx="1.3" fill="#000" fill-opacity="0.88"/>
<rect x="377.17" y="122.70" width="11.10" height="2.60" rx="1.3" fill="#000" fill-opacity="0.88"/>
<rect x="388.59" y="122.70" width="11.10" height="2.60" rx="1.3" fill="#000" fill-opacity="0.88"/>
<rect x="400.01" y="122.70" width="11.10" height="2.60" rx="1.3" fill="#000" fill-opacity="0.88"/>
<rect x="411.43" y="122.70" width="11.10" height="2.60" rx="1.3" fill="#000" fill-opacity="0.88"/>
<rect x="422.85" y="122.70" width="11.10" height="2.60" rx="1.3" fill="#000" fill-opacity="0.88"/>
<rect x="434.27" y="122.70" width="11.10" height="2.60" rx="1.3" fill="#000" fill-opacity="0.88"/>
<rect x="445.69" y="122.70" width="11.10" height="2.60" rx="1.3" fill="#000" fill-opacity="0.88"/>
<rect x="457.11" y="122.70" width="11.10" height="2.60" rx="1.3" fill="#000" fill-opacity="0.88"/>
<rect x="363.60" y="132.80" width="106.00" height="10.00" fill="#e6e6e6" />
<rect x="365.75" y="135.50" width="11.10" height="3.00" rx="1.3" fill="#000" fill-opacity="0.82"/>
<rect x="377.17" y="135.50" width="11.10" height="3.00" rx="1.3" fill="#000" fill-opacity="0.82"/>
<rect x="388.59" y="135.50" width="11.10" height="3.00" rx="1.3" fill="#000" fill-opacity="0.82"/>
<rect x="400.01" y="135.50" width="11.10" height="3.00" rx="1.3" fill="#000" fill-opacity="0.82"/>
<rect x="411.43" y="135.50" width="11.10" height="3.00" rx="1.3" fill="#000" fill-opacity="0.82"/>
<rect x="422.85" y="135.50" width="11.10" height="3.00" rx="1.3" fill="#000" fill-opacity="0.82"/>
<rect x="434.27" y="135.50" width="11.10" height="3.00" rx="1.3" fill="#000" fill-opacity="0.82"/>
<rect x="445.69" y="135.50" width="11.10" height="3.00" rx="1.3" fill="#000" fill-opacity="0.82"/>
<rect x="457.11" y="135.50" width="11.10" height="3.00" rx="1.3" fill="#000" fill-opacity="0.82"/>
<rect x="363.60" y="150.00" width="106.00" height="20.00" fill="#d8d8d8" />
<rect x="365.75" y="151.80" width="11.10" height="2.00" rx="1.3" fill="#000" fill-opacity="0.80"/>
<rect x="377.17" y="151.80" width="11.10" height="2.00" rx="1.3" fill="#000" fill-opacity="0.80"/>
<rect x="388.59" y="151.80" width="11.10" height="2.00" rx="1.3" fill="#000" fill-opacity="0.80"/>
<rect x="400.01" y="151.80" width="11.10" height="2.00" rx="1.3" fill="#000" fill-opacity="0.80"/>
<rect x="411.43" y="151.80" width="11.10" height="2.00" rx="1.3" fill="#000" fill-opacity="0.80"/>
<rect x="422.85" y="151.80" width="11.10" height="2.00" rx="1.3" fill="#000" fill-opacity="0.80"/>
<rect x="434.27" y="151.80" width="11.10" height="2.00" rx="1.3" fill="#000" fill-opacity="0.80"/>
<rect x="445.69" y="151.80" width="11.10" height="2.00" rx="1.3" fill="#000" fill-opacity="0.80"/>
<rect x="457.11" y="151.80" width="11.10" height="2.00" rx="1.3" fill="#000" fill-opacity="0.80"/>
<rect x="365.75" y="163.60" width="11.10" height="2.40" rx="1.3" fill="#000" fill-opacity="0.80"/>
<rect x="377.17" y="163.60" width="11.10" height="2.40" rx="1.3" fill="#000" fill-opacity="0.80"/>
<rect x="388.59" y="163.60" width="11.10" height="2.40" rx="1.3" fill="#000" fill-opacity="0.80"/>
<rect x="400.01" y="163.60" width="11.10" height="2.40" rx="1.3" fill="#000" fill-opacity="0.80"/>
<rect x="411.43" y="163.60" width="11.10" height="2.40" rx="1.3" fill="#000" fill-opacity="0.80"/>
<rect x="422.85" y="163.60" width="11.10" height="2.40" rx="1.3" fill="#000" fill-opacity="0.80"/>
<rect x="434.27" y="163.60" width="11.10" height="2.40" rx="1.3" fill="#000" fill-opacity="0.80"/>
<rect x="445.69" y="163.60" width="11.10" height="2.40" rx="1.3" fill="#000" fill-opacity="0.80"/>
<rect x="457.11" y="163.60" width="11.10" height="2.40" rx="1.3" fill="#000" fill-opacity="0.80"/>
<rect x="363.60" y="174.90" width="106.00" height="7.50" fill="#eeeeee" />
<rect x="365.75" y="177.20" width="11.10" height="2.60" rx="1.3" fill="#000" fill-opacity="0.60"/>
<rect x="377.17" y="177.20" width="11.10" height="2.60" rx="1.3" fill="#000" fill-opacity="0.60"/>
<rect x="388.59" y="177.20" width="11.10" height="2.60" rx="1.3" fill="#000" fill-opacity="0.60"/>
<rect x="400.01" y="177.20" width="11.10" height="2.60" rx="1.3" fill="#000" fill-opacity="0.60"/>
<rect x="411.43" y="177.20" width="11.10" height="2.60" rx="1.3" fill="#000" fill-opacity="0.60"/>
<rect x="422.85" y="177.20" width="11.10" height="2.60" rx="1.3" fill="#000" fill-opacity="0.60"/>
<rect x="434.27" y="177.20" width="11.10" height="2.60" rx="1.3" fill="#000" fill-opacity="0.60"/>
<rect x="445.69" y="177.20" width="11.10" height="2.60" rx="1.3" fill="#000" fill-opacity="0.60"/>
<rect x="457.11" y="177.20" width="11.10" height="2.60" rx="1.3" fill="#000" fill-opacity="0.60"/>
</g>
<rect x="27.90" y="78.80" width="106.20" height="9.10" rx="1.3" fill="none" stroke="#2e2e2e" stroke-width="1.15"/>
<rect x="28.90" y="79.80" width="104.20" height="7.10" fill="none" stroke="#ffffff" stroke-opacity="0.6" stroke-width="0.8"/>
<rect x="27.90" y="91.80" width="106.20" height="9.20" rx="1.3" fill="none" stroke="#2e2e2e" stroke-width="1.15"/>
<rect x="28.90" y="92.80" width="104.20" height="7.20" fill="none" stroke="#ffffff" stroke-opacity="0.6" stroke-width="0.8"/>
<rect x="27.90" y="105.30" width="106.20" height="10.10" rx="1.3" fill="none" stroke="#2e2e2e" stroke-width="1.15"/>
<rect x="28.90" y="106.30" width="104.20" height="8.10" fill="none" stroke="#ffffff" stroke-opacity="0.6" stroke-width="0.8"/>
<rect x="27.90" y="119.70" width="106.20" height="8.50" rx="1.3" fill="none" stroke="#2e2e2e" stroke-width="1.15"/>
<rect x="28.90" y="120.70" width="104.20" height="6.50" fill="none" stroke="#ffffff" stroke-opacity="0.6" stroke-width="0.8"/>
<rect x="27.90" y="132.70" width="106.20" height="10.20" rx="1.3" fill="none" stroke="#2e2e2e" stroke-width="1.15"/>
<rect x="28.90" y="133.70" width="104.20" height="8.20" fill="none" stroke="#ffffff" stroke-opacity="0.6" stroke-width="0.8"/>
<rect x="27.90" y="149.90" width="106.20" height="20.20" rx="1.3" fill="none" stroke="#2e2e2e" stroke-width="1.15"/>
<rect x="28.90" y="150.90" width="104.20" height="18.20" fill="none" stroke="#ffffff" stroke-opacity="0.6" stroke-width="0.8"/>
<rect x="27.90" y="174.80" width="106.20" height="7.70" rx="1.3" fill="none" stroke="#2e2e2e" stroke-width="1.15"/>
<rect x="28.90" y="175.80" width="104.20" height="5.70" fill="none" stroke="#ffffff" stroke-opacity="0.6" stroke-width="0.8"/>
<rect x="139.10" y="78.80" width="106.20" height="9.10" rx="1.3" fill="none" stroke="#2e2e2e" stroke-width="1.15"/>
<rect x="140.10" y="79.80" width="104.20" height="7.10" fill="none" stroke="#ffffff" stroke-opacity="0.6" stroke-width="0.8"/>
<rect x="139.10" y="91.80" width="106.20" height="9.20" rx="1.3" fill="none" stroke="#2e2e2e" stroke-width="1.15"/>
<rect x="140.10" y="92.80" width="104.20" height="7.20" fill="none" stroke="#ffffff" stroke-opacity="0.6" stroke-width="0.8"/>
<rect x="139.10" y="105.30" width="106.20" height="10.10" rx="1.3" fill="none" stroke="#2e2e2e" stroke-width="1.15"/>
<rect x="140.10" y="106.30" width="104.20" height="8.10" fill="none" stroke="#ffffff" stroke-opacity="0.6" stroke-width="0.8"/>
<rect x="139.10" y="119.70" width="106.20" height="8.50" rx="1.3" fill="none" stroke="#2e2e2e" stroke-width="1.15"/>
<rect x="140.10" y="120.70" width="104.20" height="6.50" fill="none" stroke="#ffffff" stroke-opacity="0.6" stroke-width="0.8"/>
<rect x="139.10" y="132.70" width="106.20" height="10.20" rx="1.3" fill="none" stroke="#2e2e2e" stroke-width="1.15"/>
<rect x="140.10" y="133.70" width="104.20" height="8.20" fill="none" stroke="#ffffff" stroke-opacity="0.6" stroke-width="0.8"/>
<rect x="139.10" y="149.90" width="106.20" height="20.20" rx="1.3" fill="none" stroke="#2e2e2e" stroke-width="1.15"/>
<rect x="140.10" y="150.90" width="104.20" height="18.20" fill="none" stroke="#ffffff" stroke-opacity="0.6" stroke-width="0.8"/>
<rect x="139.10" y="174.80" width="106.20" height="7.70" rx="1.3" fill="none" stroke="#2e2e2e" stroke-width="1.15"/>
<rect x="140.10" y="175.80" width="104.20" height="5.70" fill="none" stroke="#ffffff" stroke-opacity="0.6" stroke-width="0.8"/>
<rect x="250.90" y="78.80" width="106.20" height="9.10" rx="1.3" fill="none" stroke="#2e2e2e" stroke-width="1.15"/>
<rect x="251.90" y="79.80" width="104.20" height="7.10" fill="none" stroke="#ffffff" stroke-opacity="0.6" stroke-width="0.8"/>
<rect x="250.90" y="91.80" width="106.20" height="9.20" rx="1.3" fill="none" stroke="#2e2e2e" stroke-width="1.15"/>
<rect x="251.90" y="92.80" width="104.20" height="7.20" fill="none" stroke="#ffffff" stroke-opacity="0.6" stroke-width="0.8"/>
<rect x="250.90" y="105.30" width="106.20" height="10.10" rx="1.3" fill="none" stroke="#2e2e2e" stroke-width="1.15"/>
<rect x="251.90" y="106.30" width="104.20" height="8.10" fill="none" stroke="#ffffff" stroke-opacity="0.6" stroke-width="0.8"/>
<rect x="250.90" y="119.70" width="106.20" height="8.50" rx="1.3" fill="none" stroke="#2e2e2e" stroke-width="1.15"/>
<rect x="251.90" y="120.70" width="104.20" height="6.50" fill="none" stroke="#ffffff" stroke-opacity="0.6" stroke-width="0.8"/>
<rect x="250.90" y="132.70" width="106.20" height="10.20" rx="1.3" fill="none" stroke="#2e2e2e" stroke-width="1.15"/>
<rect x="251.90" y="133.70" width="104.20" height="8.20" fill="none" stroke="#ffffff" stroke-opacity="0.6" stroke-width="0.8"/>
<rect x="250.90" y="149.90" width="106.20" height="20.20" rx="1.3" fill="none" stroke="#2e2e2e" stroke-width="1.15"/>
<rect x="251.90" y="150.90" width="104.20" height="18.20" fill="none" stroke="#ffffff" stroke-opacity="0.6" stroke-width="0.8"/>
<rect x="250.90" y="174.80" width="106.20" height="7.70" rx="1.3" fill="none" stroke="#2e2e2e" stroke-width="1.15"/>
<rect x="251.90" y="175.80" width="104.20" height="5.70" fill="none" stroke="#ffffff" stroke-opacity="0.6" stroke-width="0.8"/>
<rect x="363.50" y="78.80" width="106.20" height="9.10" rx="1.3" fill="none" stroke="#2e2e2e" stroke-width="1.15"/>
<rect x="364.50" y="79.80" width="104.20" height="7.10" fill="none" stroke="#ffffff" stroke-opacity="0.6" stroke-width="0.8"/>
<rect x="363.50" y="91.80" width="106.20" height="9.20" rx="1.3" fill="none" stroke="#2e2e2e" stroke-width="1.15"/>
<rect x="364.50" y="92.80" width="104.20" height="7.20" fill="none" stroke="#ffffff" stroke-opacity="0.6" stroke-width="0.8"/>
<rect x="363.50" y="105.30" width="106.20" height="10.10" rx="1.3" fill="none" stroke="#2e2e2e" stroke-width="1.15"/>
<rect x="364.50" y="106.30" width="104.20" height="8.10" fill="none" stroke="#ffffff" stroke-opacity="0.6" stroke-width="0.8"/>
<rect x="363.50" y="119.70" width="106.20" height="8.50" rx="1.3" fill="none" stroke="#2e2e2e" stroke-width="1.15"/>
<rect x="364.50" y="120.70" width="104.20" height="6.50" fill="none" stroke="#ffffff" stroke-opacity="0.6" stroke-width="0.8"/>
<rect x="363.50" y="132.70" width="106.20" height="10.20" rx="1.3" fill="none" stroke="#2e2e2e" stroke-width="1.15"/>
<rect x="364.50" y="133.70" width="104.20" height="8.20" fill="none" stroke="#ffffff" stroke-opacity="0.6" stroke-width="0.8"/>
<rect x="363.50" y="149.90" width="106.20" height="20.20" rx="1.3" fill="none" stroke="#2e2e2e" stroke-width="1.15"/>
<rect x="364.50" y="150.90" width="104.20" height="18.20" fill="none" stroke="#ffffff" stroke-opacity="0.6" stroke-width="0.8"/>
<rect x="363.50" y="174.80" width="106.20" height="7.70" rx="1.3" fill="none" stroke="#2e2e2e" stroke-width="1.15"/>
<rect x="364.50" y="175.80" width="104.20" height="5.70" fill="none" stroke="#ffffff" stroke-opacity="0.6" stroke-width="0.8"/>
<text x="473.70" y="87.70" font-size="7" fill="#1a1a1a" textLength="37.3" lengthAdjust="spacingAndGlyphs" >p-S6 S235/6</text>
<text x="473.70" y="98.80" font-size="7" fill="#1a1a1a" >S6</text>
<text x="473.70" y="111.40" font-size="7" fill="#1a1a1a" textLength="36.3" lengthAdjust="spacingAndGlyphs" >p-AKT S473</text>
<text x="473.70" y="126.60" font-size="7" fill="#1a1a1a" >AKT</text>
<text x="473.70" y="139.40" font-size="7" fill="#1a1a1a" textLength="15.4" lengthAdjust="spacingAndGlyphs" >Actin</text>
<text x="473.70" y="156.30" font-size="7" fill="#1a1a1a" textLength="21.4" lengthAdjust="spacingAndGlyphs" >Roquin</text>
<text x="473.70" y="182.00" font-size="7" fill="#1a1a1a" textLength="15.4" lengthAdjust="spacingAndGlyphs" >Actin</text>
<path d="M472.8 166.3 L478.8 162.8 L478.8 169.8 Z" fill="none" stroke="#111" stroke-width="1.1"/>
<line x1="68.60" y1="247.83" x2="146.20" y2="247.83" stroke="#111" stroke-width="0.9" stroke-dasharray="0.9 1.3"/>
<text x="107.10" y="203.00" font-size="9.2" fill="#1a1a1a" stroke="#1a1a1a" stroke-width="0.05" text-anchor="middle" textLength="24.8" lengthAdjust="spacingAndGlyphs" >TMD8</text>
<rect x="70.80" y="247.83" width="6.00" height="19.37" fill="#4a5266" />
<rect x="78.30" y="228.08" width="6.00" height="39.12" fill="#a8062e" />
<line x1="81.30" y1="218.40" x2="81.30" y2="237.18" stroke="#111" stroke-width="0.8" />
<line x1="79.90" y1="218.40" x2="82.70" y2="218.40" stroke="#111" stroke-width="0.8" />
<line x1="79.90" y1="237.18" x2="82.70" y2="237.18" stroke="#111" stroke-width="0.8" />
<rect x="85.80" y="233.31" width="6.00" height="33.89" fill="#e2901b" />
<line x1="88.80" y1="227.30" x2="88.80" y2="239.12" stroke="#111" stroke-width="0.8" />
<line x1="87.40" y1="227.30" x2="90.20" y2="227.30" stroke="#111" stroke-width="0.8" />
<line x1="87.40" y1="239.12" x2="90.20" y2="239.12" stroke="#111" stroke-width="0.8" />
<rect x="96.85" y="252.29" width="6.00" height="14.91" fill="#4a5266" />
<line x1="99.85" y1="248.41" x2="99.85" y2="256.16" stroke="#111" stroke-width="0.8" />
<line x1="98.45" y1="248.41" x2="101.25" y2="248.41" stroke="#111" stroke-width="0.8" />
<line x1="98.45" y1="256.16" x2="101.25" y2="256.16" stroke="#111" stroke-width="0.8" />
<rect x="104.35" y="251.71" width="6.00" height="15.49" fill="#a8062e" />
<line x1="107.35" y1="249.38" x2="107.35" y2="254.03" stroke="#111" stroke-width="0.8" />
<line x1="105.95" y1="249.38" x2="108.75" y2="249.38" stroke="#111" stroke-width="0.8" />
<line x1="105.95" y1="254.03" x2="108.75" y2="254.03" stroke="#111" stroke-width="0.8" />
<rect x="111.85" y="252.29" width="6.00" height="14.91" fill="#e2901b" />
<line x1="114.85" y1="250.35" x2="114.85" y2="254.22" stroke="#111" stroke-width="0.8" />
<line x1="113.45" y1="250.35" x2="116.25" y2="250.35" stroke="#111" stroke-width="0.8" />
<line x1="113.45" y1="254.22" x2="116.25" y2="254.22" stroke="#111" stroke-width="0.8" />
<rect x="122.65" y="261.78" width="6.00" height="5.42" fill="#4a5266" />
<line x1="125.65" y1="258.49" x2="125.65" y2="265.07" stroke="#111" stroke-width="0.8" />
<line x1="124.25" y1="258.49" x2="127.05" y2="258.49" stroke="#111" stroke-width="0.8" />
<line x1="124.25" y1="265.07" x2="127.05" y2="265.07" stroke="#111" stroke-width="0.8" />
<rect x="130.15" y="263.33" width="6.00" height="3.87" fill="#a8062e" />
<line x1="133.15" y1="262.94" x2="133.15" y2="263.71" stroke="#111" stroke-width="0.8" />
<line x1="131.75" y1="262.94" x2="134.55" y2="262.94" stroke="#111" stroke-width="0.8" />
<line x1="131.75" y1="263.71" x2="134.55" y2="263.71" stroke="#111" stroke-width="0.8" />
<rect x="137.65" y="264.30" width="6.00" height="2.90" fill="#e2901b" />
<line x1="140.65" y1="263.91" x2="140.65" y2="264.68" stroke="#111" stroke-width="0.8" />
<line x1="139.25" y1="263.91" x2="142.05" y2="263.91" stroke="#111" stroke-width="0.8" />
<line x1="139.25" y1="264.68" x2="142.05" y2="264.68" stroke="#111" stroke-width="0.8" />
<line x1="68.00" y1="208.60" x2="68.00" y2="267.80" stroke="#1a1a1a" stroke-width="1.15" />
<line x1="94.60" y1="209.10" x2="94.60" y2="267.20" stroke="#1a1a1a" stroke-width="0.9" />
<line x1="120.10" y1="209.10" x2="120.10" y2="267.20" stroke="#1a1a1a" stroke-width="0.9" />
<line x1="146.20" y1="209.10" x2="146.20" y2="267.20" stroke="#1a1a1a" stroke-width="1.15" />
<line x1="67.50" y1="209.10" x2="146.70" y2="209.10" stroke="#1a1a1a" stroke-width="1.15" />
<line x1="67.50" y1="267.20" x2="146.70" y2="267.20" stroke="#1a1a1a" stroke-width="1.15" />
<line x1="65.40" y1="267.20" x2="68.00" y2="267.20" stroke="#1a1a1a" stroke-width="1.15" />
<text x="61.80" y="269.60" font-size="7" fill="#1a1a1a" text-anchor="end" >0</text>
<line x1="65.40" y1="247.83" x2="68.00" y2="247.83" stroke="#1a1a1a" stroke-width="1.15" />
<text x="61.80" y="250.23" font-size="7" fill="#1a1a1a" text-anchor="end" >1</text>
<line x1="65.40" y1="228.47" x2="68.00" y2="228.47" stroke="#1a1a1a" stroke-width="1.15" />
<text x="61.80" y="230.87" font-size="7" fill="#1a1a1a" text-anchor="end" >2</text>
<line x1="65.40" y1="209.10" x2="68.00" y2="209.10" stroke="#1a1a1a" stroke-width="1.15" />
<text x="61.80" y="211.50" font-size="7" fill="#1a1a1a" text-anchor="end" >3</text>
<line x1="73.80" y1="267.20" x2="73.80" y2="270.00" stroke="#1a1a1a" stroke-width="0.8" />
<text x="76.20" y="278.00" font-size="8.0" fill="#1a1a1a" stroke="#1a1a1a" stroke-width="0.1" text-anchor="end" textLength="2.5" lengthAdjust="spacingAndGlyphs" transform="rotate(-45 76.20 278.00)" >-</text>
<line x1="81.30" y1="267.20" x2="81.30" y2="270.00" stroke="#1a1a1a" stroke-width="0.8" />
<text x="85.90" y="278.00" font-size="8.0" fill="#1a1a1a" stroke="#1a1a1a" stroke-width="0.1" text-anchor="end" textLength="13.8" lengthAdjust="spacingAndGlyphs" transform="rotate(-45 85.90 278.00)" >MI-2</text>
<line x1="88.80" y1="267.20" x2="88.80" y2="270.00" stroke="#1a1a1a" stroke-width="0.8" />
<text x="93.80" y="278.00" font-size="8.0" fill="#1a1a1a" stroke="#1a1a1a" stroke-width="0.1" text-anchor="end" textLength="7.8" lengthAdjust="spacingAndGlyphs" transform="rotate(-45 93.80 278.00)" >C3</text>
<line x1="99.85" y1="267.20" x2="99.85" y2="270.00" stroke="#1a1a1a" stroke-width="0.8" />
<text x="102.25" y="278.00" font-size="8.0" fill="#1a1a1a" stroke="#1a1a1a" stroke-width="0.1" text-anchor="end" textLength="2.5" lengthAdjust="spacingAndGlyphs" transform="rotate(-45 102.25 278.00)" >-</text>
<line x1="107.35" y1="267.20" x2="107.35" y2="270.00" stroke="#1a1a1a" stroke-width="0.8" />
<text x="111.95" y="278.00" font-size="8.0" fill="#1a1a1a" stroke="#1a1a1a" stroke-width="0.1" text-anchor="end" textLength="13.8" lengthAdjust="spacingAndGlyphs" transform="rotate(-45 111.95 278.00)" >MI-2</text>
<line x1="114.85" y1="267.20" x2="114.85" y2="270.00" stroke="#1a1a1a" stroke-width="0.8" />
<text x="119.85" y="278.00" font-size="8.0" fill="#1a1a1a" stroke="#1a1a1a" stroke-width="0.1" text-anchor="end" textLength="7.8" lengthAdjust="spacingAndGlyphs" transform="rotate(-45 119.85 278.00)" >C3</text>
<line x1="125.65" y1="267.20" x2="125.65" y2="270.00" stroke="#1a1a1a" stroke-width="0.8" />
<text x="128.05" y="278.00" font-size="8.0" fill="#1a1a1a" stroke="#1a1a1a" stroke-width="0.1" text-anchor="end" textLength="2.5" lengthAdjust="spacingAndGlyphs" transform="rotate(-45 128.05 278.00)" >-</text>
<line x1="133.15" y1="267.20" x2="133.15" y2="270.00" stroke="#1a1a1a" stroke-width="0.8" />
<text x="137.75" y="278.00" font-size="8.0" fill="#1a1a1a" stroke="#1a1a1a" stroke-width="0.1" text-anchor="end" textLength="13.8" lengthAdjust="spacingAndGlyphs" transform="rotate(-45 137.75 278.00)" >MI-2</text>
<line x1="140.65" y1="267.20" x2="140.65" y2="270.00" stroke="#1a1a1a" stroke-width="0.8" />
<text x="145.65" y="278.00" font-size="8.0" fill="#1a1a1a" stroke="#1a1a1a" stroke-width="0.1" text-anchor="end" textLength="7.8" lengthAdjust="spacingAndGlyphs" transform="rotate(-45 145.65 278.00)" >C3</text>
<line x1="94.40" y1="291.40" x2="119.60" y2="291.40" stroke="#1a1a1a" stroke-width="0.9" />
<line x1="121.40" y1="291.40" x2="145.20" y2="291.40" stroke="#1a1a1a" stroke-width="0.9" />
<text x="94.30" y="300.80" font-size="7.5" fill="#1a1a1a" textLength="25.3" lengthAdjust="spacingAndGlyphs" >CAL-101</text>
<text x="120.70" y="300.80" font-size="7.5" fill="#1a1a1a" textLength="32.3" lengthAdjust="spacingAndGlyphs" >Rapamycin</text>
<line x1="174.90" y1="259.94" x2="252.50" y2="259.94" stroke="#111" stroke-width="0.9" stroke-dasharray="0.9 1.3"/>
<text x="213.40" y="203.00" font-size="9.2" fill="#1a1a1a" stroke="#1a1a1a" stroke-width="0.05" text-anchor="middle" textLength="37.6" lengthAdjust="spacingAndGlyphs" >OCI-Ly10</text>
<rect x="177.10" y="259.94" width="6.00" height="7.26" fill="#4a5266" />
<rect x="184.60" y="235.25" width="6.00" height="31.95" fill="#a8062e" />
<line x1="187.60" y1="223.62" x2="187.60" y2="246.86" stroke="#111" stroke-width="0.8" />
<line x1="186.20" y1="223.62" x2="189.00" y2="223.62" stroke="#111" stroke-width="0.8" />
<line x1="186.20" y1="246.86" x2="189.00" y2="246.86" stroke="#111" stroke-width="0.8" />
<rect x="192.10" y="230.89" width="6.00" height="36.31" fill="#e2901b" />
<line x1="195.10" y1="224.35" x2="195.10" y2="237.42" stroke="#111" stroke-width="0.8" />
<line x1="193.70" y1="224.35" x2="196.50" y2="224.35" stroke="#111" stroke-width="0.8" />
<line x1="193.70" y1="237.42" x2="196.50" y2="237.42" stroke="#111" stroke-width="0.8" />
<rect x="203.15" y="258.85" width="6.00" height="8.35" fill="#4a5266" />
<line x1="206.15" y1="255.94" x2="206.15" y2="261.75" stroke="#111" stroke-width="0.8" />
<line x1="204.75" y1="255.94" x2="207.55" y2="255.94" stroke="#111" stroke-width="0.8" />
<line x1="204.75" y1="261.75" x2="207.55" y2="261.75" stroke="#111" stroke-width="0.8" />
<rect x="210.65" y="259.57" width="6.00" height="7.63" fill="#a8062e" />
<line x1="213.65" y1="258.12" x2="213.65" y2="261.03" stroke="#111" stroke-width="0.8" />
<line x1="212.25" y1="258.12" x2="215.05" y2="258.12" stroke="#111" stroke-width="0.8" />
<line x1="212.25" y1="261.03" x2="215.05" y2="261.03" stroke="#111" stroke-width="0.8" />
<rect x="218.15" y="259.57" width="6.00" height="7.63" fill="#e2901b" />
<line x1="221.15" y1="258.12" x2="221.15" y2="261.03" stroke="#111" stroke-width="0.8" />
<line x1="219.75" y1="258.12" x2="222.55" y2="258.12" stroke="#111" stroke-width="0.8" />
<line x1="219.75" y1="261.03" x2="222.55" y2="261.03" stroke="#111" stroke-width="0.8" />
<rect x="228.95" y="263.93" width="6.00" height="3.27" fill="#4a5266" />
<line x1="231.95" y1="263.57" x2="231.95" y2="264.30" stroke="#111" stroke-width="0.8" />
<line x1="230.55" y1="263.57" x2="233.35" y2="263.57" stroke="#111" stroke-width="0.8" />
<line x1="230.55" y1="264.30" x2="233.35" y2="264.30" stroke="#111" stroke-width="0.8" />
<rect x="236.45" y="261.75" width="6.00" height="5.45" fill="#a8062e" />
<line x1="239.45" y1="260.66" x2="239.45" y2="262.84" stroke="#111" stroke-width="0.8" />
<line x1="238.05" y1="260.66" x2="240.85" y2="260.66" stroke="#111" stroke-width="0.8" />
<line x1="238.05" y1="262.84" x2="240.85" y2="262.84" stroke="#111" stroke-width="0.8" />
<rect x="243.95" y="263.57" width="6.00" height="3.63" fill="#e2901b" />
<line x1="246.95" y1="263.21" x2="246.95" y2="263.93" stroke="#111" stroke-width="0.8" />
<line x1="245.55" y1="263.21" x2="248.35" y2="263.21" stroke="#111" stroke-width="0.8" />
<line x1="245.55" y1="263.93" x2="248.35" y2="263.93" stroke="#111" stroke-width="0.8" />
<line x1="174.30" y1="208.60" x2="174.30" y2="267.80" stroke="#1a1a1a" stroke-width="1.15" />
<line x1="200.90" y1="209.10" x2="200.90" y2="267.20" stroke="#1a1a1a" stroke-width="0.9" />
<line x1="226.40" y1="209.10" x2="226.40" y2="267.20" stroke="#1a1a1a" stroke-width="0.9" />
<line x1="252.50" y1="209.10" x2="252.50" y2="267.20" stroke="#1a1a1a" stroke-width="1.15" />
<line x1="173.80" y1="209.10" x2="253.00" y2="209.10" stroke="#1a1a1a" stroke-width="1.15" />
<line x1="173.80" y1="267.20" x2="253.00" y2="267.20" stroke="#1a1a1a" stroke-width="1.15" />
<line x1="171.70" y1="267.20" x2="174.30" y2="267.20" stroke="#1a1a1a" stroke-width="1.15" />
<text x="168.10" y="269.60" font-size="7" fill="#1a1a1a" text-anchor="end" >0</text>
<line x1="171.70" y1="252.67" x2="174.30" y2="252.67" stroke="#1a1a1a" stroke-width="1.15" />
<text x="168.10" y="255.07" font-size="7" fill="#1a1a1a" text-anchor="end" >2</text>
<line x1="171.70" y1="238.15" x2="174.30" y2="238.15" stroke="#1a1a1a" stroke-width="1.15" />
<text x="168.10" y="240.55" font-size="7" fill="#1a1a1a" text-anchor="end" >4</text>
<line x1="171.70" y1="223.62" x2="174.30" y2="223.62" stroke="#1a1a1a" stroke-width="1.15" />
<text x="168.10" y="226.03" font-size="7" fill="#1a1a1a" text-anchor="end" >6</text>
<line x1="171.70" y1="209.10" x2="174.30" y2="209.10" stroke="#1a1a1a" stroke-width="1.15" />
<text x="168.10" y="211.50" font-size="7" fill="#1a1a1a" text-anchor="end" >8</text>
<line x1="180.10" y1="267.20" x2="180.10" y2="270.00" stroke="#1a1a1a" stroke-width="0.8" />
<text x="182.50" y="278.00" font-size="8.0" fill="#1a1a1a" stroke="#1a1a1a" stroke-width="0.1" text-anchor="end" textLength="2.5" lengthAdjust="spacingAndGlyphs" transform="rotate(-45 182.50 278.00)" >-</text>
<line x1="187.60" y1="267.20" x2="187.60" y2="270.00" stroke="#1a1a1a" stroke-width="0.8" />
<text x="192.20" y="278.00" font-size="8.0" fill="#1a1a1a" stroke="#1a1a1a" stroke-width="0.1" text-anchor="end" textLength="13.8" lengthAdjust="spacingAndGlyphs" transform="rotate(-45 192.20 278.00)" >MI-2</text>
<line x1="195.10" y1="267.20" x2="195.10" y2="270.00" stroke="#1a1a1a" stroke-width="0.8" />
<text x="200.10" y="278.00" font-size="8.0" fill="#1a1a1a" stroke="#1a1a1a" stroke-width="0.1" text-anchor="end" textLength="7.8" lengthAdjust="spacingAndGlyphs" transform="rotate(-45 200.10 278.00)" >C3</text>
<line x1="206.15" y1="267.20" x2="206.15" y2="270.00" stroke="#1a1a1a" stroke-width="0.8" />
<text x="208.55" y="278.00" font-size="8.0" fill="#1a1a1a" stroke="#1a1a1a" stroke-width="0.1" text-anchor="end" textLength="2.5" lengthAdjust="spacingAndGlyphs" transform="rotate(-45 208.55 278.00)" >-</text>
<line x1="213.65" y1="267.20" x2="213.65" y2="270.00" stroke="#1a1a1a" stroke-width="0.8" />
<text x="218.25" y="278.00" font-size="8.0" fill="#1a1a1a" stroke="#1a1a1a" stroke-width="0.1" text-anchor="end" textLength="13.8" lengthAdjust="spacingAndGlyphs" transform="rotate(-45 218.25 278.00)" >MI-2</text>
<line x1="221.15" y1="267.20" x2="221.15" y2="270.00" stroke="#1a1a1a" stroke-width="0.8" />
<text x="226.15" y="278.00" font-size="8.0" fill="#1a1a1a" stroke="#1a1a1a" stroke-width="0.1" text-anchor="end" textLength="7.8" lengthAdjust="spacingAndGlyphs" transform="rotate(-45 226.15 278.00)" >C3</text>
<line x1="231.95" y1="267.20" x2="231.95" y2="270.00" stroke="#1a1a1a" stroke-width="0.8" />
<text x="234.35" y="278.00" font-size="8.0" fill="#1a1a1a" stroke="#1a1a1a" stroke-width="0.1" text-anchor="end" textLength="2.5" lengthAdjust="spacingAndGlyphs" transform="rotate(-45 234.35 278.00)" >-</text>
<line x1="239.45" y1="267.20" x2="239.45" y2="270.00" stroke="#1a1a1a" stroke-width="0.8" />
<text x="244.05" y="278.00" font-size="8.0" fill="#1a1a1a" stroke="#1a1a1a" stroke-width="0.1" text-anchor="end" textLength="13.8" lengthAdjust="spacingAndGlyphs" transform="rotate(-45 244.05 278.00)" >MI-2</text>
<line x1="246.95" y1="267.20" x2="246.95" y2="270.00" stroke="#1a1a1a" stroke-width="0.8" />
<text x="251.95" y="278.00" font-size="8.0" fill="#1a1a1a" stroke="#1a1a1a" stroke-width="0.1" text-anchor="end" textLength="7.8" lengthAdjust="spacingAndGlyphs" transform="rotate(-45 251.95 278.00)" >C3</text>
<line x1="200.70" y1="291.40" x2="225.90" y2="291.40" stroke="#1a1a1a" stroke-width="0.9" />
<line x1="227.70" y1="291.40" x2="251.50" y2="291.40" stroke="#1a1a1a" stroke-width="0.9" />
<text x="200.60" y="300.80" font-size="7.5" fill="#1a1a1a" textLength="25.3" lengthAdjust="spacingAndGlyphs" >CAL-101</text>
<text x="227.00" y="300.80" font-size="7.5" fill="#1a1a1a" textLength="32.3" lengthAdjust="spacingAndGlyphs" >Rapamycin</text>
<line x1="281.00" y1="252.67" x2="358.60" y2="252.67" stroke="#111" stroke-width="0.9" stroke-dasharray="0.9 1.3"/>
<text x="319.50" y="203.00" font-size="9.2" fill="#1a1a1a" stroke="#1a1a1a" stroke-width="0.05" text-anchor="middle" textLength="23.4" lengthAdjust="spacingAndGlyphs" >HBL-1</text>
<rect x="283.20" y="252.67" width="6.00" height="14.53" fill="#4a5266" />
<rect x="290.70" y="230.16" width="6.00" height="37.04" fill="#a8062e" />
<line x1="293.70" y1="218.54" x2="293.70" y2="241.78" stroke="#111" stroke-width="0.8" />
<line x1="292.30" y1="218.54" x2="295.10" y2="218.54" stroke="#111" stroke-width="0.8" />
<line x1="292.30" y1="241.78" x2="295.10" y2="241.78" stroke="#111" stroke-width="0.8" />
<rect x="298.20" y="232.34" width="6.00" height="34.86" fill="#e2901b" />
<line x1="301.20" y1="229.44" x2="301.20" y2="235.25" stroke="#111" stroke-width="0.8" />
<line x1="299.80" y1="229.44" x2="302.60" y2="229.44" stroke="#111" stroke-width="0.8" />
<line x1="299.80" y1="235.25" x2="302.60" y2="235.25" stroke="#111" stroke-width="0.8" />
<rect x="309.25" y="251.95" width="6.00" height="15.25" fill="#4a5266" />
<line x1="312.25" y1="246.86" x2="312.25" y2="257.03" stroke="#111" stroke-width="0.8" />
<line x1="310.85" y1="246.86" x2="313.65" y2="246.86" stroke="#111" stroke-width="0.8" />
<line x1="310.85" y1="257.03" x2="313.65" y2="257.03" stroke="#111" stroke-width="0.8" />
<rect x="316.75" y="254.85" width="6.00" height="12.35" fill="#a8062e" />
<line x1="319.75" y1="249.77" x2="319.75" y2="259.94" stroke="#111" stroke-width="0.8" />
<line x1="318.35" y1="249.77" x2="321.15" y2="249.77" stroke="#111" stroke-width="0.8" />
<line x1="318.35" y1="259.94" x2="321.15" y2="259.94" stroke="#111" stroke-width="0.8" />
<rect x="324.25" y="255.58" width="6.00" height="11.62" fill="#e2901b" />
<line x1="327.25" y1="251.22" x2="327.25" y2="259.94" stroke="#111" stroke-width="0.8" />
<line x1="325.85" y1="251.22" x2="328.65" y2="251.22" stroke="#111" stroke-width="0.8" />
<line x1="325.85" y1="259.94" x2="328.65" y2="259.94" stroke="#111" stroke-width="0.8" />
<rect x="335.05" y="262.84" width="6.00" height="4.36" fill="#4a5266" />
<line x1="338.05" y1="259.94" x2="338.05" y2="265.75" stroke="#111" stroke-width="0.8" />
<line x1="336.65" y1="259.94" x2="339.45" y2="259.94" stroke="#111" stroke-width="0.8" />
<line x1="336.65" y1="265.75" x2="339.45" y2="265.75" stroke="#111" stroke-width="0.8" />
<rect x="342.55" y="263.13" width="6.00" height="4.07" fill="#a8062e" />
<line x1="345.55" y1="259.94" x2="345.55" y2="266.33" stroke="#111" stroke-width="0.8" />
<line x1="344.15" y1="259.94" x2="346.95" y2="259.94" stroke="#111" stroke-width="0.8" />
<line x1="344.15" y1="266.33" x2="346.95" y2="266.33" stroke="#111" stroke-width="0.8" />
<rect x="350.05" y="259.65" width="6.00" height="7.55" fill="#e2901b" />
<line x1="353.05" y1="252.67" x2="353.05" y2="266.62" stroke="#111" stroke-width="0.8" />
<line x1="351.65" y1="252.67" x2="354.45" y2="252.67" stroke="#111" stroke-width="0.8" />
<line x1="351.65" y1="266.62" x2="354.45" y2="266.62" stroke="#111" stroke-width="0.8" />
<line x1="280.40" y1="208.60" x2="280.40" y2="267.80" stroke="#1a1a1a" stroke-width="1.15" />
<line x1="307.00" y1="209.10" x2="307.00" y2="267.20" stroke="#1a1a1a" stroke-width="0.9" />
<line x1="332.50" y1="209.10" x2="332.50" y2="267.20" stroke="#1a1a1a" stroke-width="0.9" />
<line x1="358.60" y1="209.10" x2="358.60" y2="267.20" stroke="#1a1a1a" stroke-width="1.15" />
<line x1="279.90" y1="209.10" x2="359.10" y2="209.10" stroke="#1a1a1a" stroke-width="1.15" />
<line x1="279.90" y1="267.20" x2="359.10" y2="267.20" stroke="#1a1a1a" stroke-width="1.15" />
<line x1="277.80" y1="267.20" x2="280.40" y2="267.20" stroke="#1a1a1a" stroke-width="1.15" />
<text x="274.20" y="269.60" font-size="7" fill="#1a1a1a" text-anchor="end" >0</text>
<line x1="277.80" y1="252.67" x2="280.40" y2="252.67" stroke="#1a1a1a" stroke-width="1.15" />
<text x="274.20" y="255.07" font-size="7" fill="#1a1a1a" text-anchor="end" >1</text>
<line x1="277.80" y1="238.15" x2="280.40" y2="238.15" stroke="#1a1a1a" stroke-width="1.15" />
<text x="274.20" y="240.55" font-size="7" fill="#1a1a1a" text-anchor="end" >2</text>
<line x1="277.80" y1="223.62" x2="280.40" y2="223.62" stroke="#1a1a1a" stroke-width="1.15" />
<text x="274.20" y="226.03" font-size="7" fill="#1a1a1a" text-anchor="end" >3</text>
<line x1="277.80" y1="209.10" x2="280.40" y2="209.10" stroke="#1a1a1a" stroke-width="1.15" />
<text x="274.20" y="211.50" font-size="7" fill="#1a1a1a" text-anchor="end" >4</text>
<line x1="286.20" y1="267.20" x2="286.20" y2="270.00" stroke="#1a1a1a" stroke-width="0.8" />
<text x="288.60" y="278.00" font-size="8.0" fill="#1a1a1a" stroke="#1a1a1a" stroke-width="0.1" text-anchor="end" textLength="2.5" lengthAdjust="spacingAndGlyphs" transform="rotate(-45 288.60 278.00)" >-</text>
<line x1="293.70" y1="267.20" x2="293.70" y2="270.00" stroke="#1a1a1a" stroke-width="0.8" />
<text x="298.30" y="278.00" font-size="8.0" fill="#1a1a1a" stroke="#1a1a1a" stroke-width="0.1" text-anchor="end" textLength="13.8" lengthAdjust="spacingAndGlyphs" transform="rotate(-45 298.30 278.00)" >MI-2</text>
<line x1="301.20" y1="267.20" x2="301.20" y2="270.00" stroke="#1a1a1a" stroke-width="0.8" />
<text x="306.20" y="278.00" font-size="8.0" fill="#1a1a1a" stroke="#1a1a1a" stroke-width="0.1" text-anchor="end" textLength="7.8" lengthAdjust="spacingAndGlyphs" transform="rotate(-45 306.20 278.00)" >C3</text>
<line x1="312.25" y1="267.20" x2="312.25" y2="270.00" stroke="#1a1a1a" stroke-width="0.8" />
<text x="314.65" y="278.00" font-size="8.0" fill="#1a1a1a" stroke="#1a1a1a" stroke-width="0.1" text-anchor="end" textLength="2.5" lengthAdjust="spacingAndGlyphs" transform="rotate(-45 314.65 278.00)" >-</text>
<line x1="319.75" y1="267.20" x2="319.75" y2="270.00" stroke="#1a1a1a" stroke-width="0.8" />
<text x="324.35" y="278.00" font-size="8.0" fill="#1a1a1a" stroke="#1a1a1a" stroke-width="0.1" text-anchor="end" textLength="13.8" lengthAdjust="spacingAndGlyphs" transform="rotate(-45 324.35 278.00)" >MI-2</text>
<line x1="327.25" y1="267.20" x2="327.25" y2="270.00" stroke="#1a1a1a" stroke-width="0.8" />
<text x="332.25" y="278.00" font-size="8.0" fill="#1a1a1a" stroke="#1a1a1a" stroke-width="0.1" text-anchor="end" textLength="7.8" lengthAdjust="spacingAndGlyphs" transform="rotate(-45 332.25 278.00)" >C3</text>
<line x1="338.05" y1="267.20" x2="338.05" y2="270.00" stroke="#1a1a1a" stroke-width="0.8" />
<text x="340.45" y="278.00" font-size="8.0" fill="#1a1a1a" stroke="#1a1a1a" stroke-width="0.1" text-anchor="end" textLength="2.5" lengthAdjust="spacingAndGlyphs" transform="rotate(-45 340.45 278.00)" >-</text>
<line x1="345.55" y1="267.20" x2="345.55" y2="270.00" stroke="#1a1a1a" stroke-width="0.8" />
<text x="350.15" y="278.00" font-size="8.0" fill="#1a1a1a" stroke="#1a1a1a" stroke-width="0.1" text-anchor="end" textLength="13.8" lengthAdjust="spacingAndGlyphs" transform="rotate(-45 350.15 278.00)" >MI-2</text>
<line x1="353.05" y1="267.20" x2="353.05" y2="270.00" stroke="#1a1a1a" stroke-width="0.8" />
<text x="358.05" y="278.00" font-size="8.0" fill="#1a1a1a" stroke="#1a1a1a" stroke-width="0.1" text-anchor="end" textLength="7.8" lengthAdjust="spacingAndGlyphs" transform="rotate(-45 358.05 278.00)" >C3</text>
<line x1="306.80" y1="291.40" x2="332.00" y2="291.40" stroke="#1a1a1a" stroke-width="0.9" />
<line x1="333.80" y1="291.40" x2="357.60" y2="291.40" stroke="#1a1a1a" stroke-width="0.9" />
<text x="306.70" y="300.80" font-size="7.5" fill="#1a1a1a" textLength="25.3" lengthAdjust="spacingAndGlyphs" >CAL-101</text>
<text x="333.10" y="300.80" font-size="7.5" fill="#1a1a1a" textLength="32.3" lengthAdjust="spacingAndGlyphs" >Rapamycin</text>
<line x1="386.90" y1="255.58" x2="464.50" y2="255.58" stroke="#111" stroke-width="0.9" stroke-dasharray="0.9 1.3"/>
<text x="425.40" y="203.00" font-size="9.2" fill="#1a1a1a" stroke="#1a1a1a" stroke-width="0.05" text-anchor="middle" textLength="33.0" lengthAdjust="spacingAndGlyphs" >OCI-Ly3</text>
<rect x="389.10" y="255.58" width="6.00" height="11.62" fill="#4a5266" />
<rect x="396.60" y="235.25" width="6.00" height="31.95" fill="#a8062e" />
<line x1="399.60" y1="225.95" x2="399.60" y2="244.54" stroke="#111" stroke-width="0.8" />
<line x1="398.20" y1="225.95" x2="401.00" y2="225.95" stroke="#111" stroke-width="0.8" />
<line x1="398.20" y1="244.54" x2="401.00" y2="244.54" stroke="#111" stroke-width="0.8" />
<rect x="404.10" y="218.40" width="6.00" height="48.80" fill="#e2901b" />
<line x1="407.10" y1="213.75" x2="407.10" y2="223.04" stroke="#111" stroke-width="0.8" />
<line x1="405.70" y1="213.75" x2="408.50" y2="213.75" stroke="#111" stroke-width="0.8" />
<line x1="405.70" y1="223.04" x2="408.50" y2="223.04" stroke="#111" stroke-width="0.8" />
<rect x="415.15" y="258.49" width="6.00" height="8.71" fill="#4a5266" />
<line x1="418.15" y1="256.51" x2="418.15" y2="260.46" stroke="#111" stroke-width="0.8" />
<line x1="416.75" y1="256.51" x2="419.55" y2="256.51" stroke="#111" stroke-width="0.8" />
<line x1="416.75" y1="260.46" x2="419.55" y2="260.46" stroke="#111" stroke-width="0.8" />
<rect x="422.65" y="261.97" width="6.00" height="5.23" fill="#a8062e" />
<line x1="425.65" y1="260.81" x2="425.65" y2="263.13" stroke="#111" stroke-width="0.8" />
<line x1="424.25" y1="260.81" x2="427.05" y2="260.81" stroke="#111" stroke-width="0.8" />
<line x1="424.25" y1="263.13" x2="427.05" y2="263.13" stroke="#111" stroke-width="0.8" />
<rect x="430.15" y="259.07" width="6.00" height="8.13" fill="#e2901b" />
<line x1="433.15" y1="255.58" x2="433.15" y2="262.55" stroke="#111" stroke-width="0.8" />
<line x1="431.75" y1="255.58" x2="434.55" y2="255.58" stroke="#111" stroke-width="0.8" />
<line x1="431.75" y1="262.55" x2="434.55" y2="262.55" stroke="#111" stroke-width="0.8" />
<rect x="440.95" y="264.30" width="6.00" height="2.90" fill="#4a5266" />
<line x1="443.95" y1="262.78" x2="443.95" y2="265.81" stroke="#111" stroke-width="0.8" />
<line x1="442.55" y1="262.78" x2="445.35" y2="262.78" stroke="#111" stroke-width="0.8" />
<line x1="442.55" y1="265.81" x2="445.35" y2="265.81" stroke="#111" stroke-width="0.8" />
<rect x="448.45" y="261.97" width="6.00" height="5.23" fill="#a8062e" />
<line x1="451.45" y1="258.49" x2="451.45" y2="265.46" stroke="#111" stroke-width="0.8" />
<line x1="450.05" y1="258.49" x2="452.85" y2="258.49" stroke="#111" stroke-width="0.8" />
<line x1="450.05" y1="265.46" x2="452.85" y2="265.46" stroke="#111" stroke-width="0.8" />
<rect x="455.95" y="261.97" width="6.00" height="5.23" fill="#e2901b" />
<line x1="458.95" y1="261.39" x2="458.95" y2="262.55" stroke="#111" stroke-width="0.8" />
<line x1="457.55" y1="261.39" x2="460.35" y2="261.39" stroke="#111" stroke-width="0.8" />
<line x1="457.55" y1="262.55" x2="460.35" y2="262.55" stroke="#111" stroke-width="0.8" />
<line x1="386.30" y1="208.60" x2="386.30" y2="267.80" stroke="#1a1a1a" stroke-width="1.15" />
<line x1="412.90" y1="209.10" x2="412.90" y2="267.20" stroke="#1a1a1a" stroke-width="0.9" />
<line x1="438.40" y1="209.10" x2="438.40" y2="267.20" stroke="#1a1a1a" stroke-width="0.9" />
<line x1="464.50" y1="209.10" x2="464.50" y2="267.20" stroke="#1a1a1a" stroke-width="1.15" />
<line x1="385.80" y1="209.10" x2="465.00" y2="209.10" stroke="#1a1a1a" stroke-width="1.15" />
<line x1="385.80" y1="267.20" x2="465.00" y2="267.20" stroke="#1a1a1a" stroke-width="1.15" />
<line x1="383.70" y1="267.20" x2="386.30" y2="267.20" stroke="#1a1a1a" stroke-width="1.15" />
<text x="380.10" y="269.60" font-size="7" fill="#1a1a1a" text-anchor="end" >0</text>
<line x1="383.70" y1="255.58" x2="386.30" y2="255.58" stroke="#1a1a1a" stroke-width="1.15" />
<text x="380.10" y="257.98" font-size="7" fill="#1a1a1a" text-anchor="end" >1</text>
<line x1="383.70" y1="243.96" x2="386.30" y2="243.96" stroke="#1a1a1a" stroke-width="1.15" />
<text x="380.10" y="246.36" font-size="7" fill="#1a1a1a" text-anchor="end" >2</text>
<line x1="383.70" y1="232.34" x2="386.30" y2="232.34" stroke="#1a1a1a" stroke-width="1.15" />
<text x="380.10" y="234.74" font-size="7" fill="#1a1a1a" text-anchor="end" >3</text>
<line x1="383.70" y1="220.72" x2="386.30" y2="220.72" stroke="#1a1a1a" stroke-width="1.15" />
<text x="380.10" y="223.12" font-size="7" fill="#1a1a1a" text-anchor="end" >4</text>
<line x1="383.70" y1="209.10" x2="386.30" y2="209.10" stroke="#1a1a1a" stroke-width="1.15" />
<text x="380.10" y="211.50" font-size="7" fill="#1a1a1a" text-anchor="end" >5</text>
<line x1="392.10" y1="267.20" x2="392.10" y2="270.00" stroke="#1a1a1a" stroke-width="0.8" />
<text x="394.50" y="278.00" font-size="8.0" fill="#1a1a1a" stroke="#1a1a1a" stroke-width="0.1" text-anchor="end" textLength="2.5" lengthAdjust="spacingAndGlyphs" transform="rotate(-45 394.50 278.00)" >-</text>
<line x1="399.60" y1="267.20" x2="399.60" y2="270.00" stroke="#1a1a1a" stroke-width="0.8" />
<text x="404.20" y="278.00" font-size="8.0" fill="#1a1a1a" stroke="#1a1a1a" stroke-width="0.1" text-anchor="end" textLength="13.8" lengthAdjust="spacingAndGlyphs" transform="rotate(-45 404.20 278.00)" >MI-2</text>
<line x1="407.10" y1="267.20" x2="407.10" y2="270.00" stroke="#1a1a1a" stroke-width="0.8" />
<text x="412.10" y="278.00" font-size="8.0" fill="#1a1a1a" stroke="#1a1a1a" stroke-width="0.1" text-anchor="end" textLength="7.8" lengthAdjust="spacingAndGlyphs" transform="rotate(-45 412.10 278.00)" >C3</text>
<line x1="418.15" y1="267.20" x2="418.15" y2="270.00" stroke="#1a1a1a" stroke-width="0.8" />
<text x="420.55" y="278.00" font-size="8.0" fill="#1a1a1a" stroke="#1a1a1a" stroke-width="0.1" text-anchor="end" textLength="2.5" lengthAdjust="spacingAndGlyphs" transform="rotate(-45 420.55 278.00)" >-</text>
<line x1="425.65" y1="267.20" x2="425.65" y2="270.00" stroke="#1a1a1a" stroke-width="0.8" />
<text x="430.25" y="278.00" font-size="8.0" fill="#1a1a1a" stroke="#1a1a1a" stroke-width="0.1" text-anchor="end" textLength="13.8" lengthAdjust="spacingAndGlyphs" transform="rotate(-45 430.25 278.00)" >MI-2</text>
<line x1="433.15" y1="267.20" x2="433.15" y2="270.00" stroke="#1a1a1a" stroke-width="0.8" />
<text x="438.15" y="278.00" font-size="8.0" fill="#1a1a1a" stroke="#1a1a1a" stroke-width="0.1" text-anchor="end" textLength="7.8" lengthAdjust="spacingAndGlyphs" transform="rotate(-45 438.15 278.00)" >C3</text>
<line x1="443.95" y1="267.20" x2="443.95" y2="270.00" stroke="#1a1a1a" stroke-width="0.8" />
<text x="446.35" y="278.00" font-size="8.0" fill="#1a1a1a" stroke="#1a1a1a" stroke-width="0.1" text-anchor="end" textLength="2.5" lengthAdjust="spacingAndGlyphs" transform="rotate(-45 446.35 278.00)" >-</text>
<line x1="451.45" y1="267.20" x2="451.45" y2="270.00" stroke="#1a1a1a" stroke-width="0.8" />
<text x="456.05" y="278.00" font-size="8.0" fill="#1a1a1a" stroke="#1a1a1a" stroke-width="0.1" text-anchor="end" textLength="13.8" lengthAdjust="spacingAndGlyphs" transform="rotate(-45 456.05 278.00)" >MI-2</text>
<line x1="458.95" y1="267.20" x2="458.95" y2="270.00" stroke="#1a1a1a" stroke-width="0.8" />
<text x="463.95" y="278.00" font-size="8.0" fill="#1a1a1a" stroke="#1a1a1a" stroke-width="0.1" text-anchor="end" textLength="7.8" lengthAdjust="spacingAndGlyphs" transform="rotate(-45 463.95 278.00)" >C3</text>
<line x1="412.70" y1="291.40" x2="437.90" y2="291.40" stroke="#1a1a1a" stroke-width="0.9" />
<line x1="439.70" y1="291.40" x2="463.50" y2="291.40" stroke="#1a1a1a" stroke-width="0.9" />
<text x="412.60" y="300.80" font-size="7.5" fill="#1a1a1a" textLength="25.3" lengthAdjust="spacingAndGlyphs" >CAL-101</text>
<text x="439.00" y="300.80" font-size="7.5" fill="#1a1a1a" textLength="32.3" lengthAdjust="spacingAndGlyphs" >Rapamycin</text>
<rect x="473.50" y="212.50" width="7.00" height="7.00" fill="#4a5266" />
<text x="483.50" y="218.40" font-size="8.0" fill="#1a1a1a" >vehicle</text>
<rect x="473.50" y="224.40" width="7.00" height="7.00" fill="#a8062e" />
<text x="483.50" y="230.30" font-size="8.0" fill="#1a1a1a" >MI-2</text>
<rect x="473.50" y="236.30" width="7.00" height="7.00" fill="#e2901b" />
<text x="483.50" y="242.20" font-size="8.0" fill="#1a1a1a" >C3</text>
<text x="30.70" y="238.60" font-size="8.8" fill="#1a1a1a" stroke="#1a1a1a" stroke-width="0.12" text-anchor="middle" textLength="24.8" lengthAdjust="spacingAndGlyphs" transform="rotate(-90 30.70 238.60)" >p-S6/S6</text>
<text x="41.20" y="238.60" font-size="8.8" fill="#1a1a1a" stroke="#1a1a1a" stroke-width="0.12" text-anchor="middle" textLength="63.5" lengthAdjust="spacingAndGlyphs" transform="rotate(-90 41.20 238.60)" >(normalized to actin</text>
<text x="52.20" y="238.60" font-size="8.8" fill="#1a1a1a" stroke="#1a1a1a" stroke-width="0.12" text-anchor="middle" textLength="60.5" lengthAdjust="spacingAndGlyphs" transform="rotate(-90 52.20 238.60)" >and relative to veh)</text>
<line x1="68.60" y1="366.17" x2="146.20" y2="366.17" stroke="#111" stroke-width="0.9" stroke-dasharray="0.9 1.3"/>
<text x="107.10" y="322.20" font-size="9.2" fill="#1a1a1a" stroke="#1a1a1a" stroke-width="0.05" text-anchor="middle" textLength="24.8" lengthAdjust="spacingAndGlyphs" >TMD8</text>
<rect x="70.80" y="366.17" width="6.00" height="19.23" fill="#4a5266" />
<rect x="78.30" y="354.63" width="6.00" height="30.77" fill="#a8062e" />
<line x1="81.30" y1="354.05" x2="81.30" y2="355.20" stroke="#111" stroke-width="0.8" />
<line x1="79.90" y1="354.05" x2="82.70" y2="354.05" stroke="#111" stroke-width="0.8" />
<line x1="79.90" y1="355.20" x2="82.70" y2="355.20" stroke="#111" stroke-width="0.8" />
<rect x="85.80" y="358.47" width="6.00" height="26.93" fill="#e2901b" />
<line x1="88.80" y1="355.59" x2="88.80" y2="361.36" stroke="#111" stroke-width="0.8" />
<line x1="87.40" y1="355.59" x2="90.20" y2="355.59" stroke="#111" stroke-width="0.8" />
<line x1="87.40" y1="361.36" x2="90.20" y2="361.36" stroke="#111" stroke-width="0.8" />
<rect x="96.85" y="373.48" width="6.00" height="11.92" fill="#4a5266" />
<line x1="99.85" y1="368.09" x2="99.85" y2="378.67" stroke="#111" stroke-width="0.8" />
<line x1="98.45" y1="368.09" x2="101.25" y2="368.09" stroke="#111" stroke-width="0.8" />
<line x1="98.45" y1="378.67" x2="101.25" y2="378.67" stroke="#111" stroke-width="0.8" />
<rect x="104.35" y="375.40" width="6.00" height="10.00" fill="#a8062e" />
<line x1="107.35" y1="370.97" x2="107.35" y2="379.63" stroke="#111" stroke-width="0.8" />
<line x1="105.95" y1="370.97" x2="108.75" y2="370.97" stroke="#111" stroke-width="0.8" />
<line x1="105.95" y1="379.63" x2="108.75" y2="379.63" stroke="#111" stroke-width="0.8" />
<rect x="111.85" y="375.40" width="6.00" height="10.00" fill="#e2901b" />
<line x1="114.85" y1="370.01" x2="114.85" y2="380.59" stroke="#111" stroke-width="0.8" />
<line x1="113.45" y1="370.01" x2="116.25" y2="370.01" stroke="#111" stroke-width="0.8" />
<line x1="113.45" y1="380.59" x2="116.25" y2="380.59" stroke="#111" stroke-width="0.8" />
<rect x="122.65" y="360.01" width="6.00" height="25.39" fill="#4a5266" />
<line x1="125.65" y1="356.55" x2="125.65" y2="363.28" stroke="#111" stroke-width="0.8" />
<line x1="124.25" y1="356.55" x2="127.05" y2="356.55" stroke="#111" stroke-width="0.8" />
<line x1="124.25" y1="363.28" x2="127.05" y2="363.28" stroke="#111" stroke-width="0.8" />
<rect x="130.15" y="359.44" width="6.00" height="25.96" fill="#a8062e" />
<line x1="133.15" y1="354.63" x2="133.15" y2="364.24" stroke="#111" stroke-width="0.8" />
<line x1="131.75" y1="354.63" x2="134.55" y2="354.63" stroke="#111" stroke-width="0.8" />
<line x1="131.75" y1="364.24" x2="134.55" y2="364.24" stroke="#111" stroke-width="0.8" />
<rect x="137.65" y="355.59" width="6.00" height="29.81" fill="#e2901b" />
<line x1="140.65" y1="346.93" x2="140.65" y2="364.24" stroke="#111" stroke-width="0.8" />
<line x1="139.25" y1="346.93" x2="142.05" y2="346.93" stroke="#111" stroke-width="0.8" />
<line x1="139.25" y1="364.24" x2="142.05" y2="364.24" stroke="#111" stroke-width="0.8" />
<line x1="68.00" y1="327.20" x2="68.00" y2="386.00" stroke="#1a1a1a" stroke-width="1.15" />
<line x1="94.60" y1="327.70" x2="94.60" y2="385.40" stroke="#1a1a1a" stroke-width="0.9" />
<line x1="120.10" y1="327.70" x2="120.10" y2="385.40" stroke="#1a1a1a" stroke-width="0.9" />
<line x1="146.20" y1="327.70" x2="146.20" y2="385.40" stroke="#1a1a1a" stroke-width="1.15" />
<line x1="67.50" y1="327.70" x2="146.70" y2="327.70" stroke="#1a1a1a" stroke-width="1.15" />
<line x1="67.50" y1="385.40" x2="146.70" y2="385.40" stroke="#1a1a1a" stroke-width="1.15" />
<line x1="65.40" y1="385.40" x2="68.00" y2="385.40" stroke="#1a1a1a" stroke-width="1.15" />
<text x="61.80" y="387.80" font-size="7" fill="#1a1a1a" text-anchor="end" >0</text>
<line x1="65.40" y1="366.17" x2="68.00" y2="366.17" stroke="#1a1a1a" stroke-width="1.15" />
<text x="61.80" y="368.57" font-size="7" fill="#1a1a1a" text-anchor="end" >1</text>
<line x1="65.40" y1="346.93" x2="68.00" y2="346.93" stroke="#1a1a1a" stroke-width="1.15" />
<text x="61.80" y="349.33" font-size="7" fill="#1a1a1a" text-anchor="end" >2</text>
<line x1="65.40" y1="327.70" x2="68.00" y2="327.70" stroke="#1a1a1a" stroke-width="1.15" />
<text x="61.80" y="330.10" font-size="7" fill="#1a1a1a" text-anchor="end" >3</text>
<line x1="73.80" y1="385.40" x2="73.80" y2="388.20" stroke="#1a1a1a" stroke-width="0.8" />
<text x="76.20" y="396.30" font-size="8.0" fill="#1a1a1a" stroke="#1a1a1a" stroke-width="0.1" text-anchor="end" textLength="2.5" lengthAdjust="spacingAndGlyphs" transform="rotate(-45 76.20 396.30)" >-</text>
<line x1="81.30" y1="385.40" x2="81.30" y2="388.20" stroke="#1a1a1a" stroke-width="0.8" />
<text x="85.90" y="396.30" font-size="8.0" fill="#1a1a1a" stroke="#1a1a1a" stroke-width="0.1" text-anchor="end" textLength="13.8" lengthAdjust="spacingAndGlyphs" transform="rotate(-45 85.90 396.30)" >MI-2</text>
<line x1="88.80" y1="385.40" x2="88.80" y2="388.20" stroke="#1a1a1a" stroke-width="0.8" />
<text x="93.80" y="396.30" font-size="8.0" fill="#1a1a1a" stroke="#1a1a1a" stroke-width="0.1" text-anchor="end" textLength="7.8" lengthAdjust="spacingAndGlyphs" transform="rotate(-45 93.80 396.30)" >C3</text>
<line x1="99.85" y1="385.40" x2="99.85" y2="388.20" stroke="#1a1a1a" stroke-width="0.8" />
<text x="102.25" y="396.30" font-size="8.0" fill="#1a1a1a" stroke="#1a1a1a" stroke-width="0.1" text-anchor="end" textLength="2.5" lengthAdjust="spacingAndGlyphs" transform="rotate(-45 102.25 396.30)" >-</text>
<line x1="107.35" y1="385.40" x2="107.35" y2="388.20" stroke="#1a1a1a" stroke-width="0.8" />
<text x="111.95" y="396.30" font-size="8.0" fill="#1a1a1a" stroke="#1a1a1a" stroke-width="0.1" text-anchor="end" textLength="13.8" lengthAdjust="spacingAndGlyphs" transform="rotate(-45 111.95 396.30)" >MI-2</text>
<line x1="114.85" y1="385.40" x2="114.85" y2="388.20" stroke="#1a1a1a" stroke-width="0.8" />
<text x="119.85" y="396.30" font-size="8.0" fill="#1a1a1a" stroke="#1a1a1a" stroke-width="0.1" text-anchor="end" textLength="7.8" lengthAdjust="spacingAndGlyphs" transform="rotate(-45 119.85 396.30)" >C3</text>
<line x1="125.65" y1="385.40" x2="125.65" y2="388.20" stroke="#1a1a1a" stroke-width="0.8" />
<text x="128.05" y="396.30" font-size="8.0" fill="#1a1a1a" stroke="#1a1a1a" stroke-width="0.1" text-anchor="end" textLength="2.5" lengthAdjust="spacingAndGlyphs" transform="rotate(-45 128.05 396.30)" >-</text>
<line x1="133.15" y1="385.40" x2="133.15" y2="388.20" stroke="#1a1a1a" stroke-width="0.8" />
<text x="137.75" y="396.30" font-size="8.0" fill="#1a1a1a" stroke="#1a1a1a" stroke-width="0.1" text-anchor="end" textLength="13.8" lengthAdjust="spacingAndGlyphs" transform="rotate(-45 137.75 396.30)" >MI-2</text>
<line x1="140.65" y1="385.40" x2="140.65" y2="388.20" stroke="#1a1a1a" stroke-width="0.8" />
<text x="145.65" y="396.30" font-size="8.0" fill="#1a1a1a" stroke="#1a1a1a" stroke-width="0.1" text-anchor="end" textLength="7.8" lengthAdjust="spacingAndGlyphs" transform="rotate(-45 145.65 396.30)" >C3</text>
<line x1="94.40" y1="410.10" x2="119.60" y2="410.10" stroke="#7a7a7a" stroke-width="1.6" />
<line x1="121.40" y1="410.10" x2="145.20" y2="410.10" stroke="#7a7a7a" stroke-width="1.6" />
<text x="94.00" y="419.50" font-size="7.5" fill="#1a1a1a" textLength="25.3" lengthAdjust="spacingAndGlyphs" >CAL-101</text>
<text x="122.90" y="419.50" font-size="7.5" fill="#1a1a1a" textLength="32.3" lengthAdjust="spacingAndGlyphs" >Rapamycin</text>
<text x="213.40" y="322.20" font-size="9.2" fill="#1a1a1a" stroke="#1a1a1a" stroke-width="0.05" text-anchor="middle" textLength="37.6" lengthAdjust="spacingAndGlyphs" >OCI-Ly10</text>
<line x1="174.90" y1="379.10" x2="252.50" y2="379.10" stroke="#111" stroke-width="0.9" stroke-dasharray="0.9 1.3"/>
<rect x="177.10" y="379.10" width="6.00" height="6.30" fill="#4a5266" />
<rect x="184.60" y="367.44" width="6.00" height="17.95" fill="#a8062e" />
<line x1="187.60" y1="363.35" x2="187.60" y2="371.54" stroke="#111" stroke-width="0.8" />
<line x1="186.20" y1="363.35" x2="189.00" y2="363.35" stroke="#111" stroke-width="0.8" />
<line x1="186.20" y1="371.54" x2="189.00" y2="371.54" stroke="#111" stroke-width="0.8" />
<rect x="192.10" y="380.99" width="6.00" height="4.41" fill="#e2901b" />
<line x1="195.10" y1="379.10" x2="195.10" y2="382.88" stroke="#111" stroke-width="0.8" />
<line x1="193.70" y1="379.10" x2="196.50" y2="379.10" stroke="#111" stroke-width="0.8" />
<line x1="193.70" y1="382.88" x2="196.50" y2="382.88" stroke="#111" stroke-width="0.8" />
<rect x="203.15" y="383.19" width="6.00" height="2.20" fill="#4a5266" />
<line x1="206.15" y1="382.25" x2="206.15" y2="384.14" stroke="#111" stroke-width="0.8" />
<line x1="204.75" y1="382.25" x2="207.55" y2="382.25" stroke="#111" stroke-width="0.8" />
<line x1="204.75" y1="384.14" x2="207.55" y2="384.14" stroke="#111" stroke-width="0.8" />
<rect x="210.65" y="383.51" width="6.00" height="1.89" fill="#a8062e" />
<line x1="213.65" y1="383.19" x2="213.65" y2="383.82" stroke="#111" stroke-width="0.8" />
<line x1="212.25" y1="383.19" x2="215.05" y2="383.19" stroke="#111" stroke-width="0.8" />
<line x1="212.25" y1="383.82" x2="215.05" y2="383.82" stroke="#111" stroke-width="0.8" />
<rect x="218.15" y="383.82" width="6.00" height="1.57" fill="#e2901b" />
<line x1="221.15" y1="383.51" x2="221.15" y2="384.14" stroke="#111" stroke-width="0.8" />
<line x1="219.75" y1="383.51" x2="222.55" y2="383.51" stroke="#111" stroke-width="0.8" />
<line x1="219.75" y1="384.14" x2="222.55" y2="384.14" stroke="#111" stroke-width="0.8" />
<rect x="228.95" y="370.91" width="6.00" height="14.49" fill="#4a5266" />
<line x1="231.95" y1="367.76" x2="231.95" y2="374.06" stroke="#111" stroke-width="0.8" />
<line x1="230.55" y1="367.76" x2="233.35" y2="367.76" stroke="#111" stroke-width="0.8" />
<line x1="230.55" y1="374.06" x2="233.35" y2="374.06" stroke="#111" stroke-width="0.8" />
<rect x="236.45" y="360.20" width="6.00" height="25.20" fill="#a8062e" />
<rect x="236.45" y="345.69" width="6.00" height="7.71" fill="#a8062e" />
<line x1="239.45" y1="337.98" x2="239.45" y2="353.40" stroke="#111" stroke-width="0.8" />
<line x1="238.05" y1="337.98" x2="240.85" y2="337.98" stroke="#111" stroke-width="0.8" />
<line x1="238.05" y1="353.40" x2="240.85" y2="353.40" stroke="#111" stroke-width="0.8" />
<rect x="243.95" y="360.20" width="6.00" height="25.20" fill="#e2901b" />
<rect x="243.95" y="346.72" width="6.00" height="6.68" fill="#e2901b" />
<line x1="246.95" y1="339.26" x2="246.95" y2="354.17" stroke="#111" stroke-width="0.8" />
<line x1="245.55" y1="339.26" x2="248.35" y2="339.26" stroke="#111" stroke-width="0.8" />
<line x1="245.55" y1="354.17" x2="248.35" y2="354.17" stroke="#111" stroke-width="0.8" />
<line x1="174.30" y1="327.20" x2="174.30" y2="353.40" stroke="#1a1a1a" stroke-width="1.15" />
<line x1="200.90" y1="327.20" x2="200.90" y2="353.40" stroke="#1a1a1a" stroke-width="0.9" />
<line x1="226.40" y1="327.20" x2="226.40" y2="353.40" stroke="#1a1a1a" stroke-width="0.9" />
<line x1="174.30" y1="360.20" x2="174.30" y2="386.00" stroke="#1a1a1a" stroke-width="1.15" />
<line x1="200.90" y1="360.20" x2="200.90" y2="386.00" stroke="#1a1a1a" stroke-width="0.9" />
<line x1="226.40" y1="360.20" x2="226.40" y2="386.00" stroke="#1a1a1a" stroke-width="0.9" />
<line x1="252.50" y1="327.70" x2="252.50" y2="385.40" stroke="#1a1a1a" stroke-width="1.15" />
<line x1="173.80" y1="327.70" x2="253.00" y2="327.70" stroke="#1a1a1a" stroke-width="1.15" />
<line x1="173.80" y1="385.40" x2="253.00" y2="385.40" stroke="#1a1a1a" stroke-width="1.15" />
<line x1="170.30" y1="353.40" x2="177.30" y2="353.40" stroke="#1a1a1a" stroke-width="1.15" />
<line x1="170.30" y1="360.20" x2="176.90" y2="360.20" stroke="#1a1a1a" stroke-width="1.15" />
<line x1="171.70" y1="385.40" x2="174.30" y2="385.40" stroke="#1a1a1a" stroke-width="1.15" />
<text x="168.10" y="387.80" font-size="7" fill="#1a1a1a" text-anchor="end" >0</text>
<line x1="171.70" y1="379.10" x2="174.30" y2="379.10" stroke="#1a1a1a" stroke-width="1.15" />
<text x="168.10" y="381.50" font-size="7" fill="#1a1a1a" text-anchor="end" >1</text>
<line x1="171.70" y1="372.80" x2="174.30" y2="372.80" stroke="#1a1a1a" stroke-width="1.15" />
<text x="168.10" y="375.20" font-size="7" fill="#1a1a1a" text-anchor="end" >2</text>
<line x1="171.70" y1="366.50" x2="174.30" y2="366.50" stroke="#1a1a1a" stroke-width="1.15" />
<text x="168.10" y="368.90" font-size="7" fill="#1a1a1a" text-anchor="end" >3</text>
<line x1="171.70" y1="360.20" x2="174.30" y2="360.20" stroke="#1a1a1a" stroke-width="1.15" />
<text x="168.10" y="362.60" font-size="7" fill="#1a1a1a" text-anchor="end" >4</text>
<line x1="171.70" y1="353.40" x2="174.30" y2="353.40" stroke="#1a1a1a" stroke-width="1.15" />
<text x="168.10" y="355.80" font-size="7" fill="#1a1a1a" text-anchor="end" >5</text>
<line x1="171.70" y1="340.55" x2="174.30" y2="340.55" stroke="#1a1a1a" stroke-width="1.15" />
<text x="168.10" y="342.95" font-size="7" fill="#1a1a1a" text-anchor="end" >10</text>
<line x1="171.70" y1="327.70" x2="174.30" y2="327.70" stroke="#1a1a1a" stroke-width="1.15" />
<text x="168.10" y="330.10" font-size="7" fill="#1a1a1a" text-anchor="end" >15</text>
<line x1="180.10" y1="385.40" x2="180.10" y2="388.20" stroke="#1a1a1a" stroke-width="0.8" />
<text x="182.50" y="396.30" font-size="8.0" fill="#1a1a1a" stroke="#1a1a1a" stroke-width="0.1" text-anchor="end" textLength="2.5" lengthAdjust="spacingAndGlyphs" transform="rotate(-45 182.50 396.30)" >-</text>
<line x1="187.60" y1="385.40" x2="187.60" y2="388.20" stroke="#1a1a1a" stroke-width="0.8" />
<text x="192.20" y="396.30" font-size="8.0" fill="#1a1a1a" stroke="#1a1a1a" stroke-width="0.1" text-anchor="end" textLength="13.8" lengthAdjust="spacingAndGlyphs" transform="rotate(-45 192.20 396.30)" >MI-2</text>
<line x1="195.10" y1="385.40" x2="195.10" y2="388.20" stroke="#1a1a1a" stroke-width="0.8" />
<text x="200.10" y="396.30" font-size="8.0" fill="#1a1a1a" stroke="#1a1a1a" stroke-width="0.1" text-anchor="end" textLength="7.8" lengthAdjust="spacingAndGlyphs" transform="rotate(-45 200.10 396.30)" >C3</text>
<line x1="206.15" y1="385.40" x2="206.15" y2="388.20" stroke="#1a1a1a" stroke-width="0.8" />
<text x="208.55" y="396.30" font-size="8.0" fill="#1a1a1a" stroke="#1a1a1a" stroke-width="0.1" text-anchor="end" textLength="2.5" lengthAdjust="spacingAndGlyphs" transform="rotate(-45 208.55 396.30)" >-</text>
<line x1="213.65" y1="385.40" x2="213.65" y2="388.20" stroke="#1a1a1a" stroke-width="0.8" />
<text x="218.25" y="396.30" font-size="8.0" fill="#1a1a1a" stroke="#1a1a1a" stroke-width="0.1" text-anchor="end" textLength="13.8" lengthAdjust="spacingAndGlyphs" transform="rotate(-45 218.25 396.30)" >MI-2</text>
<line x1="221.15" y1="385.40" x2="221.15" y2="388.20" stroke="#1a1a1a" stroke-width="0.8" />
<text x="226.15" y="396.30" font-size="8.0" fill="#1a1a1a" stroke="#1a1a1a" stroke-width="0.1" text-anchor="end" textLength="7.8" lengthAdjust="spacingAndGlyphs" transform="rotate(-45 226.15 396.30)" >C3</text>
<line x1="231.95" y1="385.40" x2="231.95" y2="388.20" stroke="#1a1a1a" stroke-width="0.8" />
<text x="234.35" y="396.30" font-size="8.0" fill="#1a1a1a" stroke="#1a1a1a" stroke-width="0.1" text-anchor="end" textLength="2.5" lengthAdjust="spacingAndGlyphs" transform="rotate(-45 234.35 396.30)" >-</text>
<line x1="239.45" y1="385.40" x2="239.45" y2="388.20" stroke="#1a1a1a" stroke-width="0.8" />
<text x="244.05" y="396.30" font-size="8.0" fill="#1a1a1a" stroke="#1a1a1a" stroke-width="0.1" text-anchor="end" textLength="13.8" lengthAdjust="spacingAndGlyphs" transform="rotate(-45 244.05 396.30)" >MI-2</text>
<line x1="246.95" y1="385.40" x2="246.95" y2="388.20" stroke="#1a1a1a" stroke-width="0.8" />
<text x="251.95" y="396.30" font-size="8.0" fill="#1a1a1a" stroke="#1a1a1a" stroke-width="0.1" text-anchor="end" textLength="7.8" lengthAdjust="spacingAndGlyphs" transform="rotate(-45 251.95 396.30)" >C3</text>
<line x1="200.70" y1="410.10" x2="225.90" y2="410.10" stroke="#7a7a7a" stroke-width="1.6" />
<line x1="227.70" y1="410.10" x2="251.50" y2="410.10" stroke="#7a7a7a" stroke-width="1.6" />
<text x="200.30" y="419.50" font-size="7.5" fill="#1a1a1a" textLength="25.3" lengthAdjust="spacingAndGlyphs" >CAL-101</text>
<text x="229.20" y="419.50" font-size="7.5" fill="#1a1a1a" textLength="32.3" lengthAdjust="spacingAndGlyphs" >Rapamycin</text>
<line x1="281.00" y1="366.17" x2="358.60" y2="366.17" stroke="#111" stroke-width="0.9" stroke-dasharray="0.9 1.3"/>
<text x="319.50" y="322.20" font-size="9.2" fill="#1a1a1a" stroke="#1a1a1a" stroke-width="0.05" text-anchor="middle" textLength="23.4" lengthAdjust="spacingAndGlyphs" >HBL-1</text>
<rect x="283.20" y="366.17" width="6.00" height="19.23" fill="#4a5266" />
<rect x="290.70" y="364.24" width="6.00" height="21.16" fill="#a8062e" />
<line x1="293.70" y1="363.67" x2="293.70" y2="364.82" stroke="#111" stroke-width="0.8" />
<line x1="292.30" y1="363.67" x2="295.10" y2="363.67" stroke="#111" stroke-width="0.8" />
<line x1="292.30" y1="364.82" x2="295.10" y2="364.82" stroke="#111" stroke-width="0.8" />
<rect x="298.20" y="358.09" width="6.00" height="27.31" fill="#e2901b" />
<line x1="301.20" y1="355.01" x2="301.20" y2="361.17" stroke="#111" stroke-width="0.8" />
<line x1="299.80" y1="355.01" x2="302.60" y2="355.01" stroke="#111" stroke-width="0.8" />
<line x1="299.80" y1="361.17" x2="302.60" y2="361.17" stroke="#111" stroke-width="0.8" />
<rect x="309.25" y="371.94" width="6.00" height="13.46" fill="#4a5266" />
<line x1="312.25" y1="370.01" x2="312.25" y2="373.86" stroke="#111" stroke-width="0.8" />
<line x1="310.85" y1="370.01" x2="313.65" y2="370.01" stroke="#111" stroke-width="0.8" />
<line x1="310.85" y1="373.86" x2="313.65" y2="373.86" stroke="#111" stroke-width="0.8" />
<rect x="316.75" y="379.25" width="6.00" height="6.15" fill="#a8062e" />
<line x1="319.75" y1="378.09" x2="319.75" y2="380.40" stroke="#111" stroke-width="0.8" />
<line x1="318.35" y1="378.09" x2="321.15" y2="378.09" stroke="#111" stroke-width="0.8" />
<line x1="318.35" y1="380.40" x2="321.15" y2="380.40" stroke="#111" stroke-width="0.8" />
<rect x="324.25" y="376.75" width="6.00" height="8.65" fill="#e2901b" />
<line x1="327.25" y1="375.40" x2="327.25" y2="378.09" stroke="#111" stroke-width="0.8" />
<line x1="325.85" y1="375.40" x2="328.65" y2="375.40" stroke="#111" stroke-width="0.8" />
<line x1="325.85" y1="378.09" x2="328.65" y2="378.09" stroke="#111" stroke-width="0.8" />
<rect x="335.05" y="357.51" width="6.00" height="27.89" fill="#4a5266" />
<line x1="338.05" y1="353.66" x2="338.05" y2="361.36" stroke="#111" stroke-width="0.8" />
<line x1="336.65" y1="353.66" x2="339.45" y2="353.66" stroke="#111" stroke-width="0.8" />
<line x1="336.65" y1="361.36" x2="339.45" y2="361.36" stroke="#111" stroke-width="0.8" />
<rect x="342.55" y="362.70" width="6.00" height="22.70" fill="#a8062e" />
<line x1="345.55" y1="360.40" x2="345.55" y2="365.01" stroke="#111" stroke-width="0.8" />
<line x1="344.15" y1="360.40" x2="346.95" y2="360.40" stroke="#111" stroke-width="0.8" />
<line x1="344.15" y1="365.01" x2="346.95" y2="365.01" stroke="#111" stroke-width="0.8" />
<rect x="350.05" y="362.90" width="6.00" height="22.50" fill="#e2901b" />
<line x1="353.05" y1="360.01" x2="353.05" y2="365.78" stroke="#111" stroke-width="0.8" />
<line x1="351.65" y1="360.01" x2="354.45" y2="360.01" stroke="#111" stroke-width="0.8" />
<line x1="351.65" y1="365.78" x2="354.45" y2="365.78" stroke="#111" stroke-width="0.8" />
<line x1="280.40" y1="327.20" x2="280.40" y2="386.00" stroke="#1a1a1a" stroke-width="1.15" />
<line x1="307.00" y1="327.70" x2="307.00" y2="385.40" stroke="#1a1a1a" stroke-width="0.9" />
<line x1="332.50" y1="327.70" x2="332.50" y2="385.40" stroke="#1a1a1a" stroke-width="0.9" />
<line x1="358.60" y1="327.70" x2="358.60" y2="385.40" stroke="#1a1a1a" stroke-width="1.15" />
<line x1="279.90" y1="327.70" x2="359.10" y2="327.70" stroke="#1a1a1a" stroke-width="1.15" />
<line x1="279.90" y1="385.40" x2="359.10" y2="385.40" stroke="#1a1a1a" stroke-width="1.15" />
<line x1="277.80" y1="385.40" x2="280.40" y2="385.40" stroke="#1a1a1a" stroke-width="1.15" />
<text x="274.20" y="387.80" font-size="7" fill="#1a1a1a" text-anchor="end" >0</text>
<line x1="277.80" y1="366.17" x2="280.40" y2="366.17" stroke="#1a1a1a" stroke-width="1.15" />
<text x="274.20" y="368.57" font-size="7" fill="#1a1a1a" text-anchor="end" >1</text>
<line x1="277.80" y1="346.93" x2="280.40" y2="346.93" stroke="#1a1a1a" stroke-width="1.15" />
<text x="274.20" y="349.33" font-size="7" fill="#1a1a1a" text-anchor="end" >2</text>
<line x1="277.80" y1="327.70" x2="280.40" y2="327.70" stroke="#1a1a1a" stroke-width="1.15" />
<text x="274.20" y="330.10" font-size="7" fill="#1a1a1a" text-anchor="end" >3</text>
<line x1="286.20" y1="385.40" x2="286.20" y2="388.20" stroke="#1a1a1a" stroke-width="0.8" />
<text x="288.60" y="396.30" font-size="8.0" fill="#1a1a1a" stroke="#1a1a1a" stroke-width="0.1" text-anchor="end" textLength="2.5" lengthAdjust="spacingAndGlyphs" transform="rotate(-45 288.60 396.30)" >-</text>
<line x1="293.70" y1="385.40" x2="293.70" y2="388.20" stroke="#1a1a1a" stroke-width="0.8" />
<text x="298.30" y="396.30" font-size="8.0" fill="#1a1a1a" stroke="#1a1a1a" stroke-width="0.1" text-anchor="end" textLength="13.8" lengthAdjust="spacingAndGlyphs" transform="rotate(-45 298.30 396.30)" >MI-2</text>
<line x1="301.20" y1="385.40" x2="301.20" y2="388.20" stroke="#1a1a1a" stroke-width="0.8" />
<text x="306.20" y="396.30" font-size="8.0" fill="#1a1a1a" stroke="#1a1a1a" stroke-width="0.1" text-anchor="end" textLength="7.8" lengthAdjust="spacingAndGlyphs" transform="rotate(-45 306.20 396.30)" >C3</text>
<line x1="312.25" y1="385.40" x2="312.25" y2="388.20" stroke="#1a1a1a" stroke-width="0.8" />
<text x="314.65" y="396.30" font-size="8.0" fill="#1a1a1a" stroke="#1a1a1a" stroke-width="0.1" text-anchor="end" textLength="2.5" lengthAdjust="spacingAndGlyphs" transform="rotate(-45 314.65 396.30)" >-</text>
<line x1="319.75" y1="385.40" x2="319.75" y2="388.20" stroke="#1a1a1a" stroke-width="0.8" />
<text x="324.35" y="396.30" font-size="8.0" fill="#1a1a1a" stroke="#1a1a1a" stroke-width="0.1" text-anchor="end" textLength="13.8" lengthAdjust="spacingAndGlyphs" transform="rotate(-45 324.35 396.30)" >MI-2</text>
<line x1="327.25" y1="385.40" x2="327.25" y2="388.20" stroke="#1a1a1a" stroke-width="0.8" />
<text x="332.25" y="396.30" font-size="8.0" fill="#1a1a1a" stroke="#1a1a1a" stroke-width="0.1" text-anchor="end" textLength="7.8" lengthAdjust="spacingAndGlyphs" transform="rotate(-45 332.25 396.30)" >C3</text>
<line x1="338.05" y1="385.40" x2="338.05" y2="388.20" stroke="#1a1a1a" stroke-width="0.8" />
<text x="340.45" y="396.30" font-size="8.0" fill="#1a1a1a" stroke="#1a1a1a" stroke-width="0.1" text-anchor="end" textLength="2.5" lengthAdjust="spacingAndGlyphs" transform="rotate(-45 340.45 396.30)" >-</text>
<line x1="345.55" y1="385.40" x2="345.55" y2="388.20" stroke="#1a1a1a" stroke-width="0.8" />
<text x="350.15" y="396.30" font-size="8.0" fill="#1a1a1a" stroke="#1a1a1a" stroke-width="0.1" text-anchor="end" textLength="13.8" lengthAdjust="spacingAndGlyphs" transform="rotate(-45 350.15 396.30)" >MI-2</text>
<line x1="353.05" y1="385.40" x2="353.05" y2="388.20" stroke="#1a1a1a" stroke-width="0.8" />
<text x="358.05" y="396.30" font-size="8.0" fill="#1a1a1a" stroke="#1a1a1a" stroke-width="0.1" text-anchor="end" textLength="7.8" lengthAdjust="spacingAndGlyphs" transform="rotate(-45 358.05 396.30)" >C3</text>
<line x1="306.80" y1="410.10" x2="332.00" y2="410.10" stroke="#7a7a7a" stroke-width="1.6" />
<line x1="333.80" y1="410.10" x2="357.60" y2="410.10" stroke="#7a7a7a" stroke-width="1.6" />
<text x="306.40" y="419.50" font-size="7.5" fill="#1a1a1a" textLength="25.3" lengthAdjust="spacingAndGlyphs" >CAL-101</text>
<text x="335.30" y="419.50" font-size="7.5" fill="#1a1a1a" textLength="32.3" lengthAdjust="spacingAndGlyphs" >Rapamycin</text>
<line x1="386.90" y1="366.17" x2="464.50" y2="366.17" stroke="#111" stroke-width="0.9" stroke-dasharray="0.9 1.3"/>
<text x="425.40" y="322.20" font-size="9.2" fill="#1a1a1a" stroke="#1a1a1a" stroke-width="0.05" text-anchor="middle" textLength="33.0" lengthAdjust="spacingAndGlyphs" >OCI-Ly3</text>
<rect x="389.10" y="366.17" width="6.00" height="19.23" fill="#4a5266" />
<rect x="396.60" y="369.05" width="6.00" height="16.35" fill="#a8062e" />
<line x1="399.60" y1="367.13" x2="399.60" y2="370.97" stroke="#111" stroke-width="0.8" />
<line x1="398.20" y1="367.13" x2="401.00" y2="367.13" stroke="#111" stroke-width="0.8" />
<line x1="398.20" y1="370.97" x2="401.00" y2="370.97" stroke="#111" stroke-width="0.8" />
<rect x="404.10" y="365.20" width="6.00" height="20.19" fill="#e2901b" />
<line x1="407.10" y1="360.40" x2="407.10" y2="369.05" stroke="#111" stroke-width="0.8" />
<line x1="405.70" y1="360.40" x2="408.50" y2="360.40" stroke="#111" stroke-width="0.8" />
<line x1="405.70" y1="369.05" x2="408.50" y2="369.05" stroke="#111" stroke-width="0.8" />
<rect x="415.15" y="382.51" width="6.00" height="2.88" fill="#4a5266" />
<line x1="418.15" y1="381.17" x2="418.15" y2="383.86" stroke="#111" stroke-width="0.8" />
<line x1="416.75" y1="381.17" x2="419.55" y2="381.17" stroke="#111" stroke-width="0.8" />
<line x1="416.75" y1="383.86" x2="419.55" y2="383.86" stroke="#111" stroke-width="0.8" />
<rect x="422.65" y="381.94" width="6.00" height="3.46" fill="#a8062e" />
<line x1="425.65" y1="381.17" x2="425.65" y2="382.71" stroke="#111" stroke-width="0.8" />
<line x1="424.25" y1="381.17" x2="427.05" y2="381.17" stroke="#111" stroke-width="0.8" />
<line x1="424.25" y1="382.71" x2="427.05" y2="382.71" stroke="#111" stroke-width="0.8" />
<rect x="430.15" y="381.17" width="6.00" height="4.23" fill="#e2901b" />
<line x1="433.15" y1="380.59" x2="433.15" y2="381.75" stroke="#111" stroke-width="0.8" />
<line x1="431.75" y1="380.59" x2="434.55" y2="380.59" stroke="#111" stroke-width="0.8" />
<line x1="431.75" y1="381.75" x2="434.55" y2="381.75" stroke="#111" stroke-width="0.8" />
<rect x="440.95" y="342.12" width="6.00" height="43.27" fill="#4a5266" />
<line x1="443.95" y1="335.39" x2="443.95" y2="348.86" stroke="#111" stroke-width="0.8" />
<line x1="442.55" y1="335.39" x2="445.35" y2="335.39" stroke="#111" stroke-width="0.8" />
<line x1="442.55" y1="348.86" x2="445.35" y2="348.86" stroke="#111" stroke-width="0.8" />
<rect x="448.45" y="332.51" width="6.00" height="52.89" fill="#a8062e" />
<line x1="451.45" y1="330.58" x2="451.45" y2="334.43" stroke="#111" stroke-width="0.8" />
<line x1="450.05" y1="330.58" x2="452.85" y2="330.58" stroke="#111" stroke-width="0.8" />
<line x1="450.05" y1="334.43" x2="452.85" y2="334.43" stroke="#111" stroke-width="0.8" />
<rect x="455.95" y="359.05" width="6.00" height="26.35" fill="#e2901b" />
<line x1="458.95" y1="358.67" x2="458.95" y2="359.44" stroke="#111" stroke-width="0.8" />
<line x1="457.55" y1="358.67" x2="460.35" y2="358.67" stroke="#111" stroke-width="0.8" />
<line x1="457.55" y1="359.44" x2="460.35" y2="359.44" stroke="#111" stroke-width="0.8" />
<line x1="386.30" y1="327.20" x2="386.30" y2="386.00" stroke="#1a1a1a" stroke-width="1.15" />
<line x1="412.90" y1="327.70" x2="412.90" y2="385.40" stroke="#1a1a1a" stroke-width="0.9" />
<line x1="438.40" y1="327.70" x2="438.40" y2="385.40" stroke="#1a1a1a" stroke-width="0.9" />
<line x1="464.50" y1="327.70" x2="464.50" y2="385.40" stroke="#1a1a1a" stroke-width="1.15" />
<line x1="385.80" y1="327.70" x2="465.00" y2="327.70" stroke="#1a1a1a" stroke-width="1.15" />
<line x1="385.80" y1="385.40" x2="465.00" y2="385.40" stroke="#1a1a1a" stroke-width="1.15" />
<line x1="383.70" y1="385.40" x2="386.30" y2="385.40" stroke="#1a1a1a" stroke-width="1.15" />
<text x="380.10" y="387.80" font-size="7" fill="#1a1a1a" text-anchor="end" >0</text>
<line x1="383.70" y1="366.17" x2="386.30" y2="366.17" stroke="#1a1a1a" stroke-width="1.15" />
<text x="380.10" y="368.57" font-size="7" fill="#1a1a1a" text-anchor="end" >1</text>
<line x1="383.70" y1="346.93" x2="386.30" y2="346.93" stroke="#1a1a1a" stroke-width="1.15" />
<text x="380.10" y="349.33" font-size="7" fill="#1a1a1a" text-anchor="end" >2</text>
<line x1="383.70" y1="327.70" x2="386.30" y2="327.70" stroke="#1a1a1a" stroke-width="1.15" />
<text x="380.10" y="330.10" font-size="7" fill="#1a1a1a" text-anchor="end" >3</text>
<line x1="392.10" y1="385.40" x2="392.10" y2="388.20" stroke="#1a1a1a" stroke-width="0.8" />
<text x="394.50" y="396.30" font-size="8.0" fill="#1a1a1a" stroke="#1a1a1a" stroke-width="0.1" text-anchor="end" textLength="2.5" lengthAdjust="spacingAndGlyphs" transform="rotate(-45 394.50 396.30)" >-</text>
<line x1="399.60" y1="385.40" x2="399.60" y2="388.20" stroke="#1a1a1a" stroke-width="0.8" />
<text x="404.20" y="396.30" font-size="8.0" fill="#1a1a1a" stroke="#1a1a1a" stroke-width="0.1" text-anchor="end" textLength="13.8" lengthAdjust="spacingAndGlyphs" transform="rotate(-45 404.20 396.30)" >MI-2</text>
<line x1="407.10" y1="385.40" x2="407.10" y2="388.20" stroke="#1a1a1a" stroke-width="0.8" />
<text x="412.10" y="396.30" font-size="8.0" fill="#1a1a1a" stroke="#1a1a1a" stroke-width="0.1" text-anchor="end" textLength="7.8" lengthAdjust="spacingAndGlyphs" transform="rotate(-45 412.10 396.30)" >C3</text>
<line x1="418.15" y1="385.40" x2="418.15" y2="388.20" stroke="#1a1a1a" stroke-width="0.8" />
<text x="420.55" y="396.30" font-size="8.0" fill="#1a1a1a" stroke="#1a1a1a" stroke-width="0.1" text-anchor="end" textLength="2.5" lengthAdjust="spacingAndGlyphs" transform="rotate(-45 420.55 396.30)" >-</text>
<line x1="425.65" y1="385.40" x2="425.65" y2="388.20" stroke="#1a1a1a" stroke-width="0.8" />
<text x="430.25" y="396.30" font-size="8.0" fill="#1a1a1a" stroke="#1a1a1a" stroke-width="0.1" text-anchor="end" textLength="13.8" lengthAdjust="spacingAndGlyphs" transform="rotate(-45 430.25 396.30)" >MI-2</text>
<line x1="433.15" y1="385.40" x2="433.15" y2="388.20" stroke="#1a1a1a" stroke-width="0.8" />
<text x="438.15" y="396.30" font-size="8.0" fill="#1a1a1a" stroke="#1a1a1a" stroke-width="0.1" text-anchor="end" textLength="7.8" lengthAdjust="spacingAndGlyphs" transform="rotate(-45 438.15 396.30)" >C3</text>
<line x1="443.95" y1="385.40" x2="443.95" y2="388.20" stroke="#1a1a1a" stroke-width="0.8" />
<text x="446.35" y="396.30" font-size="8.0" fill="#1a1a1a" stroke="#1a1a1a" stroke-width="0.1" text-anchor="end" textLength="2.5" lengthAdjust="spacingAndGlyphs" transform="rotate(-45 446.35 396.30)" >-</text>
<line x1="451.45" y1="385.40" x2="451.45" y2="388.20" stroke="#1a1a1a" stroke-width="0.8" />
<text x="456.05" y="396.30" font-size="8.0" fill="#1a1a1a" stroke="#1a1a1a" stroke-width="0.1" text-anchor="end" textLength="13.8" lengthAdjust="spacingAndGlyphs" transform="rotate(-45 456.05 396.30)" >MI-2</text>
<line x1="458.95" y1="385.40" x2="458.95" y2="388.20" stroke="#1a1a1a" stroke-width="0.8" />
<text x="463.95" y="396.30" font-size="8.0" fill="#1a1a1a" stroke="#1a1a1a" stroke-width="0.1" text-anchor="end" textLength="7.8" lengthAdjust="spacingAndGlyphs" transform="rotate(-45 463.95 396.30)" >C3</text>
<line x1="412.70" y1="410.10" x2="437.90" y2="410.10" stroke="#7a7a7a" stroke-width="1.6" />
<line x1="439.70" y1="410.10" x2="463.50" y2="410.10" stroke="#7a7a7a" stroke-width="1.6" />
<text x="412.30" y="419.50" font-size="7.5" fill="#1a1a1a" textLength="25.3" lengthAdjust="spacingAndGlyphs" >CAL-101</text>
<text x="441.20" y="419.50" font-size="7.5" fill="#1a1a1a" textLength="32.3" lengthAdjust="spacingAndGlyphs" >Rapamycin</text>
<rect x="471.90" y="332.70" width="7.00" height="7.00" fill="#4a5266" />
<text x="481.90" y="338.60" font-size="8.0" fill="#1a1a1a" >vehicle</text>
<rect x="471.90" y="344.50" width="7.00" height="7.00" fill="#a8062e" />
<text x="481.90" y="350.40" font-size="8.0" fill="#1a1a1a" >MI-2</text>
<rect x="471.90" y="356.30" width="7.00" height="7.00" fill="#e2901b" />
<text x="481.90" y="362.20" font-size="8.0" fill="#1a1a1a" >C3</text>
<text x="30.70" y="356.50" font-size="8.8" fill="#1a1a1a" stroke="#1a1a1a" stroke-width="0.12" text-anchor="middle" textLength="49.5" lengthAdjust="spacingAndGlyphs" transform="rotate(-90 30.70 356.50)" >p-AKT S473/AKT</text>
<text x="41.20" y="356.50" font-size="8.8" fill="#1a1a1a" stroke="#1a1a1a" stroke-width="0.12" text-anchor="middle" textLength="63.5" lengthAdjust="spacingAndGlyphs" transform="rotate(-90 41.20 356.50)" >(normalized to actin</text>
<text x="52.20" y="356.50" font-size="8.8" fill="#1a1a1a" stroke="#1a1a1a" stroke-width="0.12" text-anchor="middle" textLength="60.5" lengthAdjust="spacingAndGlyphs" transform="rotate(-90 52.20 356.50)" >and relative to veh)</text>
<text x="107.10" y="439.80" font-size="9.2" fill="#1a1a1a" stroke="#1a1a1a" stroke-width="0.05" text-anchor="middle" textLength="24.8" lengthAdjust="spacingAndGlyphs" >TMD8</text>
<rect x="78.30" y="470.80" width="6.00" height="10.29" fill="#a8062e" />
<line x1="81.30" y1="478.27" x2="81.30" y2="483.75" stroke="#111" stroke-width="0.8" />
<line x1="79.90" y1="478.27" x2="82.70" y2="478.27" stroke="#111" stroke-width="0.8" />
<line x1="79.90" y1="483.75" x2="82.70" y2="483.75" stroke="#111" stroke-width="0.8" />
<rect x="85.80" y="470.80" width="6.00" height="9.96" fill="#e2901b" />
<line x1="88.80" y1="480.43" x2="88.80" y2="481.09" stroke="#111" stroke-width="0.8" />
<line x1="87.40" y1="480.43" x2="90.20" y2="480.43" stroke="#111" stroke-width="0.8" />
<line x1="87.40" y1="481.09" x2="90.20" y2="481.09" stroke="#111" stroke-width="0.8" />
<rect x="96.85" y="470.80" width="6.00" height="5.81" fill="#4a5266" />
<line x1="99.85" y1="474.12" x2="99.85" y2="479.10" stroke="#111" stroke-width="0.8" />
<line x1="98.45" y1="474.12" x2="101.25" y2="474.12" stroke="#111" stroke-width="0.8" />
<line x1="98.45" y1="479.10" x2="101.25" y2="479.10" stroke="#111" stroke-width="0.8" />
<rect x="104.35" y="470.80" width="6.00" height="12.95" fill="#a8062e" />
<line x1="107.35" y1="483.42" x2="107.35" y2="484.08" stroke="#111" stroke-width="0.8" />
<line x1="105.95" y1="483.42" x2="108.75" y2="483.42" stroke="#111" stroke-width="0.8" />
<line x1="105.95" y1="484.08" x2="108.75" y2="484.08" stroke="#111" stroke-width="0.8" />
<rect x="111.85" y="470.80" width="6.00" height="11.29" fill="#e2901b" />
<line x1="114.85" y1="477.77" x2="114.85" y2="486.57" stroke="#111" stroke-width="0.8" />
<line x1="113.45" y1="477.77" x2="116.25" y2="477.77" stroke="#111" stroke-width="0.8" />
<line x1="113.45" y1="486.57" x2="116.25" y2="486.57" stroke="#111" stroke-width="0.8" />
<rect x="122.65" y="470.80" width="6.00" height="10.79" fill="#4a5266" />
<line x1="125.65" y1="478.27" x2="125.65" y2="485.41" stroke="#111" stroke-width="0.8" />
<line x1="124.25" y1="478.27" x2="127.05" y2="478.27" stroke="#111" stroke-width="0.8" />
<line x1="124.25" y1="485.41" x2="127.05" y2="485.41" stroke="#111" stroke-width="0.8" />
<rect x="130.15" y="470.80" width="6.00" height="7.47" fill="#a8062e" />
<line x1="133.15" y1="476.61" x2="133.15" y2="479.93" stroke="#111" stroke-width="0.8" />
<line x1="131.75" y1="476.61" x2="134.55" y2="476.61" stroke="#111" stroke-width="0.8" />
<line x1="131.75" y1="479.93" x2="134.55" y2="479.93" stroke="#111" stroke-width="0.8" />
<rect x="137.65" y="470.80" width="6.00" height="14.11" fill="#e2901b" />
<line x1="140.65" y1="482.42" x2="140.65" y2="487.40" stroke="#111" stroke-width="0.8" />
<line x1="139.25" y1="482.42" x2="142.05" y2="482.42" stroke="#111" stroke-width="0.8" />
<line x1="139.25" y1="487.40" x2="142.05" y2="487.40" stroke="#111" stroke-width="0.8" />
<line x1="68.00" y1="470.80" x2="146.20" y2="470.80" stroke="#1a1a1a" stroke-width="1.15" />
<line x1="68.00" y1="445.50" x2="68.00" y2="504.60" stroke="#1a1a1a" stroke-width="1.15" />
<line x1="94.60" y1="446.00" x2="94.60" y2="504.00" stroke="#1a1a1a" stroke-width="0.9" />
<line x1="120.10" y1="446.00" x2="120.10" y2="504.00" stroke="#1a1a1a" stroke-width="0.9" />
<line x1="146.20" y1="446.00" x2="146.20" y2="504.00" stroke="#1a1a1a" stroke-width="1.15" />
<line x1="67.50" y1="446.00" x2="146.70" y2="446.00" stroke="#1a1a1a" stroke-width="1.15" />
<line x1="67.50" y1="504.00" x2="146.70" y2="504.00" stroke="#1a1a1a" stroke-width="1.15" />
<line x1="65.40" y1="504.00" x2="68.00" y2="504.00" stroke="#1a1a1a" stroke-width="1.15" />
<text x="61.80" y="506.40" font-size="7" fill="#1a1a1a" text-anchor="end" >-2</text>
<line x1="65.40" y1="487.40" x2="68.00" y2="487.40" stroke="#1a1a1a" stroke-width="1.15" />
<text x="61.80" y="489.80" font-size="7" fill="#1a1a1a" text-anchor="end" >-1</text>
<line x1="65.40" y1="470.80" x2="68.00" y2="470.80" stroke="#1a1a1a" stroke-width="1.15" />
<text x="61.80" y="473.20" font-size="7" fill="#1a1a1a" text-anchor="end" >0</text>
<line x1="65.40" y1="454.20" x2="68.00" y2="454.20" stroke="#1a1a1a" stroke-width="1.15" />
<text x="61.80" y="456.60" font-size="7" fill="#1a1a1a" text-anchor="end" >1</text>
<line x1="73.80" y1="504.00" x2="73.80" y2="506.80" stroke="#1a1a1a" stroke-width="0.8" />
<text x="76.20" y="514.40" font-size="8.0" fill="#1a1a1a" stroke="#1a1a1a" stroke-width="0.1" text-anchor="end" textLength="2.5" lengthAdjust="spacingAndGlyphs" transform="rotate(-45 76.20 514.40)" >-</text>
<line x1="81.30" y1="504.00" x2="81.30" y2="506.80" stroke="#1a1a1a" stroke-width="0.8" />
<text x="85.90" y="514.40" font-size="8.0" fill="#1a1a1a" stroke="#1a1a1a" stroke-width="0.1" text-anchor="end" textLength="13.8" lengthAdjust="spacingAndGlyphs" transform="rotate(-45 85.90 514.40)" >MI-2</text>
<line x1="88.80" y1="504.00" x2="88.80" y2="506.80" stroke="#1a1a1a" stroke-width="0.8" />
<text x="93.80" y="514.40" font-size="8.0" fill="#1a1a1a" stroke="#1a1a1a" stroke-width="0.1" text-anchor="end" textLength="7.8" lengthAdjust="spacingAndGlyphs" transform="rotate(-45 93.80 514.40)" >C3</text>
<line x1="99.85" y1="504.00" x2="99.85" y2="506.80" stroke="#1a1a1a" stroke-width="0.8" />
<text x="102.25" y="514.40" font-size="8.0" fill="#1a1a1a" stroke="#1a1a1a" stroke-width="0.1" text-anchor="end" textLength="2.5" lengthAdjust="spacingAndGlyphs" transform="rotate(-45 102.25 514.40)" >-</text>
<line x1="107.35" y1="504.00" x2="107.35" y2="506.80" stroke="#1a1a1a" stroke-width="0.8" />
<text x="111.95" y="514.40" font-size="8.0" fill="#1a1a1a" stroke="#1a1a1a" stroke-width="0.1" text-anchor="end" textLength="13.8" lengthAdjust="spacingAndGlyphs" transform="rotate(-45 111.95 514.40)" >MI-2</text>
<line x1="114.85" y1="504.00" x2="114.85" y2="506.80" stroke="#1a1a1a" stroke-width="0.8" />
<text x="119.85" y="514.40" font-size="8.0" fill="#1a1a1a" stroke="#1a1a1a" stroke-width="0.1" text-anchor="end" textLength="7.8" lengthAdjust="spacingAndGlyphs" transform="rotate(-45 119.85 514.40)" >C3</text>
<line x1="125.65" y1="504.00" x2="125.65" y2="506.80" stroke="#1a1a1a" stroke-width="0.8" />
<text x="128.05" y="514.40" font-size="8.0" fill="#1a1a1a" stroke="#1a1a1a" stroke-width="0.1" text-anchor="end" textLength="2.5" lengthAdjust="spacingAndGlyphs" transform="rotate(-45 128.05 514.40)" >-</text>
<line x1="133.15" y1="504.00" x2="133.15" y2="506.80" stroke="#1a1a1a" stroke-width="0.8" />
<text x="137.75" y="514.40" font-size="8.0" fill="#1a1a1a" stroke="#1a1a1a" stroke-width="0.1" text-anchor="end" textLength="13.8" lengthAdjust="spacingAndGlyphs" transform="rotate(-45 137.75 514.40)" >MI-2</text>
<line x1="140.65" y1="504.00" x2="140.65" y2="506.80" stroke="#1a1a1a" stroke-width="0.8" />
<text x="145.65" y="514.40" font-size="8.0" fill="#1a1a1a" stroke="#1a1a1a" stroke-width="0.1" text-anchor="end" textLength="7.8" lengthAdjust="spacingAndGlyphs" transform="rotate(-45 145.65 514.40)" >C3</text>
<line x1="94.40" y1="528.50" x2="119.60" y2="528.50" stroke="#1a1a1a" stroke-width="0.9" />
<line x1="121.40" y1="528.50" x2="145.20" y2="528.50" stroke="#1a1a1a" stroke-width="0.9" />
<text x="94.00" y="537.90" font-size="7.5" fill="#1a1a1a" textLength="25.3" lengthAdjust="spacingAndGlyphs" >CAL-101</text>
<text x="122.90" y="537.90" font-size="7.5" fill="#1a1a1a" textLength="32.3" lengthAdjust="spacingAndGlyphs" >Rapamycin</text>
<text x="213.40" y="439.80" font-size="9.2" fill="#1a1a1a" stroke="#1a1a1a" stroke-width="0.05" text-anchor="middle" textLength="37.6" lengthAdjust="spacingAndGlyphs" >OCI-Ly10</text>
<rect x="184.60" y="470.80" width="6.00" height="9.13" fill="#a8062e" />
<line x1="187.60" y1="477.44" x2="187.60" y2="482.42" stroke="#111" stroke-width="0.8" />
<line x1="186.20" y1="477.44" x2="189.00" y2="477.44" stroke="#111" stroke-width="0.8" />
<line x1="186.20" y1="482.42" x2="189.00" y2="482.42" stroke="#111" stroke-width="0.8" />
<rect x="192.10" y="470.80" width="6.00" height="17.43" fill="#e2901b" />
<line x1="195.10" y1="482.42" x2="195.10" y2="494.87" stroke="#111" stroke-width="0.8" />
<line x1="193.70" y1="482.42" x2="196.50" y2="482.42" stroke="#111" stroke-width="0.8" />
<line x1="193.70" y1="494.87" x2="196.50" y2="494.87" stroke="#111" stroke-width="0.8" />
<rect x="203.15" y="470.80" width="6.00" height="15.77" fill="#4a5266" />
<line x1="206.15" y1="479.93" x2="206.15" y2="493.21" stroke="#111" stroke-width="0.8" />
<line x1="204.75" y1="479.93" x2="207.55" y2="479.93" stroke="#111" stroke-width="0.8" />
<line x1="204.75" y1="493.21" x2="207.55" y2="493.21" stroke="#111" stroke-width="0.8" />
<rect x="210.65" y="470.80" width="6.00" height="5.81" fill="#a8062e" />
<line x1="213.65" y1="471.63" x2="213.65" y2="481.59" stroke="#111" stroke-width="0.8" />
<line x1="212.25" y1="471.63" x2="215.05" y2="471.63" stroke="#111" stroke-width="0.8" />
<line x1="212.25" y1="481.59" x2="215.05" y2="481.59" stroke="#111" stroke-width="0.8" />
<rect x="218.15" y="470.80" width="6.00" height="4.15" fill="#e2901b" />
<line x1="221.15" y1="469.14" x2="221.15" y2="480.76" stroke="#111" stroke-width="0.8" />
<line x1="219.75" y1="469.14" x2="222.55" y2="469.14" stroke="#111" stroke-width="0.8" />
<line x1="219.75" y1="480.76" x2="222.55" y2="480.76" stroke="#111" stroke-width="0.8" />
<rect x="228.95" y="470.80" width="6.00" height="6.64" fill="#4a5266" />
<line x1="231.95" y1="470.47" x2="231.95" y2="485.74" stroke="#111" stroke-width="0.8" />
<line x1="230.55" y1="470.47" x2="233.35" y2="470.47" stroke="#111" stroke-width="0.8" />
<line x1="230.55" y1="485.74" x2="233.35" y2="485.74" stroke="#111" stroke-width="0.8" />
<rect x="236.45" y="470.80" width="6.00" height="12.45" fill="#a8062e" />
<line x1="239.45" y1="476.61" x2="239.45" y2="489.89" stroke="#111" stroke-width="0.8" />
<line x1="238.05" y1="476.61" x2="240.85" y2="476.61" stroke="#111" stroke-width="0.8" />
<line x1="238.05" y1="489.89" x2="240.85" y2="489.89" stroke="#111" stroke-width="0.8" />
<rect x="243.95" y="470.80" width="6.00" height="15.77" fill="#e2901b" />
<line x1="246.95" y1="481.59" x2="246.95" y2="491.55" stroke="#111" stroke-width="0.8" />
<line x1="245.55" y1="481.59" x2="248.35" y2="481.59" stroke="#111" stroke-width="0.8" />
<line x1="245.55" y1="491.55" x2="248.35" y2="491.55" stroke="#111" stroke-width="0.8" />
<line x1="174.30" y1="470.80" x2="252.50" y2="470.80" stroke="#1a1a1a" stroke-width="1.15" />
<line x1="174.30" y1="445.50" x2="174.30" y2="504.60" stroke="#1a1a1a" stroke-width="1.15" />
<line x1="200.90" y1="446.00" x2="200.90" y2="504.00" stroke="#1a1a1a" stroke-width="0.9" />
<line x1="226.40" y1="446.00" x2="226.40" y2="504.00" stroke="#1a1a1a" stroke-width="0.9" />
<line x1="252.50" y1="446.00" x2="252.50" y2="504.00" stroke="#1a1a1a" stroke-width="1.15" />
<line x1="173.80" y1="446.00" x2="253.00" y2="446.00" stroke="#1a1a1a" stroke-width="1.15" />
<line x1="173.80" y1="504.00" x2="253.00" y2="504.00" stroke="#1a1a1a" stroke-width="1.15" />
<line x1="171.70" y1="504.00" x2="174.30" y2="504.00" stroke="#1a1a1a" stroke-width="1.15" />
<text x="168.10" y="506.40" font-size="7" fill="#1a1a1a" text-anchor="end" >-2</text>
<line x1="171.70" y1="487.40" x2="174.30" y2="487.40" stroke="#1a1a1a" stroke-width="1.15" />
<text x="168.10" y="489.80" font-size="7" fill="#1a1a1a" text-anchor="end" >-1</text>
<line x1="171.70" y1="470.80" x2="174.30" y2="470.80" stroke="#1a1a1a" stroke-width="1.15" />
<text x="168.10" y="473.20" font-size="7" fill="#1a1a1a" text-anchor="end" >0</text>
<line x1="171.70" y1="454.20" x2="174.30" y2="454.20" stroke="#1a1a1a" stroke-width="1.15" />
<text x="168.10" y="456.60" font-size="7" fill="#1a1a1a" text-anchor="end" >1</text>
<line x1="180.10" y1="504.00" x2="180.10" y2="506.80" stroke="#1a1a1a" stroke-width="0.8" />
<text x="182.50" y="514.40" font-size="8.0" fill="#1a1a1a" stroke="#1a1a1a" stroke-width="0.1" text-anchor="end" textLength="2.5" lengthAdjust="spacingAndGlyphs" transform="rotate(-45 182.50 514.40)" >-</text>
<line x1="187.60" y1="504.00" x2="187.60" y2="506.80" stroke="#1a1a1a" stroke-width="0.8" />
<text x="192.20" y="514.40" font-size="8.0" fill="#1a1a1a" stroke="#1a1a1a" stroke-width="0.1" text-anchor="end" textLength="13.8" lengthAdjust="spacingAndGlyphs" transform="rotate(-45 192.20 514.40)" >MI-2</text>
<line x1="195.10" y1="504.00" x2="195.10" y2="506.80" stroke="#1a1a1a" stroke-width="0.8" />
<text x="200.10" y="514.40" font-size="8.0" fill="#1a1a1a" stroke="#1a1a1a" stroke-width="0.1" text-anchor="end" textLength="7.8" lengthAdjust="spacingAndGlyphs" transform="rotate(-45 200.10 514.40)" >C3</text>
<line x1="206.15" y1="504.00" x2="206.15" y2="506.80" stroke="#1a1a1a" stroke-width="0.8" />
<text x="208.55" y="514.40" font-size="8.0" fill="#1a1a1a" stroke="#1a1a1a" stroke-width="0.1" text-anchor="end" textLength="2.5" lengthAdjust="spacingAndGlyphs" transform="rotate(-45 208.55 514.40)" >-</text>
<line x1="213.65" y1="504.00" x2="213.65" y2="506.80" stroke="#1a1a1a" stroke-width="0.8" />
<text x="218.25" y="514.40" font-size="8.0" fill="#1a1a1a" stroke="#1a1a1a" stroke-width="0.1" text-anchor="end" textLength="13.8" lengthAdjust="spacingAndGlyphs" transform="rotate(-45 218.25 514.40)" >MI-2</text>
<line x1="221.15" y1="504.00" x2="221.15" y2="506.80" stroke="#1a1a1a" stroke-width="0.8" />
<text x="226.15" y="514.40" font-size="8.0" fill="#1a1a1a" stroke="#1a1a1a" stroke-width="0.1" text-anchor="end" textLength="7.8" lengthAdjust="spacingAndGlyphs" transform="rotate(-45 226.15 514.40)" >C3</text>
<line x1="231.95" y1="504.00" x2="231.95" y2="506.80" stroke="#1a1a1a" stroke-width="0.8" />
<text x="234.35" y="514.40" font-size="8.0" fill="#1a1a1a" stroke="#1a1a1a" stroke-width="0.1" text-anchor="end" textLength="2.5" lengthAdjust="spacingAndGlyphs" transform="rotate(-45 234.35 514.40)" >-</text>
<line x1="239.45" y1="504.00" x2="239.45" y2="506.80" stroke="#1a1a1a" stroke-width="0.8" />
<text x="244.05" y="514.40" font-size="8.0" fill="#1a1a1a" stroke="#1a1a1a" stroke-width="0.1" text-anchor="end" textLength="13.8" lengthAdjust="spacingAndGlyphs" transform="rotate(-45 244.05 514.40)" >MI-2</text>
<line x1="246.95" y1="504.00" x2="246.95" y2="506.80" stroke="#1a1a1a" stroke-width="0.8" />
<text x="251.95" y="514.40" font-size="8.0" fill="#1a1a1a" stroke="#1a1a1a" stroke-width="0.1" text-anchor="end" textLength="7.8" lengthAdjust="spacingAndGlyphs" transform="rotate(-45 251.95 514.40)" >C3</text>
<line x1="200.70" y1="528.50" x2="225.90" y2="528.50" stroke="#1a1a1a" stroke-width="0.9" />
<line x1="227.70" y1="528.50" x2="251.50" y2="528.50" stroke="#1a1a1a" stroke-width="0.9" />
<text x="200.30" y="537.90" font-size="7.5" fill="#1a1a1a" textLength="25.3" lengthAdjust="spacingAndGlyphs" >CAL-101</text>
<text x="229.20" y="537.90" font-size="7.5" fill="#1a1a1a" textLength="32.3" lengthAdjust="spacingAndGlyphs" >Rapamycin</text>
<text x="319.50" y="439.80" font-size="9.2" fill="#1a1a1a" stroke="#1a1a1a" stroke-width="0.05" text-anchor="middle" textLength="23.4" lengthAdjust="spacingAndGlyphs" >HBL-1</text>
<rect x="290.70" y="470.80" width="6.00" height="1.66" fill="#a8062e" />
<line x1="293.70" y1="471.63" x2="293.70" y2="473.29" stroke="#111" stroke-width="0.8" />
<line x1="292.30" y1="471.63" x2="295.10" y2="471.63" stroke="#111" stroke-width="0.8" />
<line x1="292.30" y1="473.29" x2="295.10" y2="473.29" stroke="#111" stroke-width="0.8" />
<rect x="298.20" y="470.80" width="6.00" height="8.30" fill="#e2901b" />
<line x1="301.20" y1="477.44" x2="301.20" y2="481.09" stroke="#111" stroke-width="0.8" />
<line x1="299.80" y1="477.44" x2="302.60" y2="477.44" stroke="#111" stroke-width="0.8" />
<line x1="299.80" y1="481.09" x2="302.60" y2="481.09" stroke="#111" stroke-width="0.8" />
<rect x="309.25" y="470.80" width="6.00" height="1.66" fill="#4a5266" />
<line x1="312.25" y1="471.63" x2="312.25" y2="473.62" stroke="#111" stroke-width="0.8" />
<line x1="310.85" y1="471.63" x2="313.65" y2="471.63" stroke="#111" stroke-width="0.8" />
<line x1="310.85" y1="473.62" x2="313.65" y2="473.62" stroke="#111" stroke-width="0.8" />
<rect x="316.75" y="470.80" width="6.00" height="9.63" fill="#a8062e" />
<line x1="319.75" y1="479.93" x2="319.75" y2="481.09" stroke="#111" stroke-width="0.8" />
<line x1="318.35" y1="479.93" x2="321.15" y2="479.93" stroke="#111" stroke-width="0.8" />
<line x1="318.35" y1="481.09" x2="321.15" y2="481.09" stroke="#111" stroke-width="0.8" />
<rect x="324.25" y="470.80" width="6.00" height="8.63" fill="#e2901b" />
<line x1="327.25" y1="477.44" x2="327.25" y2="481.59" stroke="#111" stroke-width="0.8" />
<line x1="325.85" y1="477.44" x2="328.65" y2="477.44" stroke="#111" stroke-width="0.8" />
<line x1="325.85" y1="481.59" x2="328.65" y2="481.59" stroke="#111" stroke-width="0.8" />
<rect x="335.05" y="470.80" width="6.00" height="2.49" fill="#4a5266" />
<line x1="338.05" y1="472.46" x2="338.05" y2="474.12" stroke="#111" stroke-width="0.8" />
<line x1="336.65" y1="472.46" x2="339.45" y2="472.46" stroke="#111" stroke-width="0.8" />
<line x1="336.65" y1="474.12" x2="339.45" y2="474.12" stroke="#111" stroke-width="0.8" />
<rect x="342.55" y="469.64" width="6.00" height="1.16" fill="#a8062e" />
<line x1="345.55" y1="468.81" x2="345.55" y2="470.47" stroke="#111" stroke-width="0.8" />
<line x1="344.15" y1="468.81" x2="346.95" y2="468.81" stroke="#111" stroke-width="0.8" />
<line x1="344.15" y1="470.47" x2="346.95" y2="470.47" stroke="#111" stroke-width="0.8" />
<rect x="350.05" y="470.80" width="6.00" height="0.83" fill="#e2901b" />
<line x1="353.05" y1="471.30" x2="353.05" y2="471.96" stroke="#111" stroke-width="0.8" />
<line x1="351.65" y1="471.30" x2="354.45" y2="471.30" stroke="#111" stroke-width="0.8" />
<line x1="351.65" y1="471.96" x2="354.45" y2="471.96" stroke="#111" stroke-width="0.8" />
<line x1="280.40" y1="470.80" x2="358.60" y2="470.80" stroke="#1a1a1a" stroke-width="1.15" />
<line x1="280.40" y1="445.50" x2="280.40" y2="504.60" stroke="#1a1a1a" stroke-width="1.15" />
<line x1="307.00" y1="446.00" x2="307.00" y2="504.00" stroke="#1a1a1a" stroke-width="0.9" />
<line x1="332.50" y1="446.00" x2="332.50" y2="504.00" stroke="#1a1a1a" stroke-width="0.9" />
<line x1="358.60" y1="446.00" x2="358.60" y2="504.00" stroke="#1a1a1a" stroke-width="1.15" />
<line x1="279.90" y1="446.00" x2="359.10" y2="446.00" stroke="#1a1a1a" stroke-width="1.15" />
<line x1="279.90" y1="504.00" x2="359.10" y2="504.00" stroke="#1a1a1a" stroke-width="1.15" />
<line x1="277.80" y1="504.00" x2="280.40" y2="504.00" stroke="#1a1a1a" stroke-width="1.15" />
<text x="274.20" y="506.40" font-size="7" fill="#1a1a1a" text-anchor="end" >-2</text>
<line x1="277.80" y1="487.40" x2="280.40" y2="487.40" stroke="#1a1a1a" stroke-width="1.15" />
<text x="274.20" y="489.80" font-size="7" fill="#1a1a1a" text-anchor="end" >-1</text>
<line x1="277.80" y1="470.80" x2="280.40" y2="470.80" stroke="#1a1a1a" stroke-width="1.15" />
<text x="274.20" y="473.20" font-size="7" fill="#1a1a1a" text-anchor="end" >0</text>
<line x1="277.80" y1="454.20" x2="280.40" y2="454.20" stroke="#1a1a1a" stroke-width="1.15" />
<text x="274.20" y="456.60" font-size="7" fill="#1a1a1a" text-anchor="end" >1</text>
<line x1="286.20" y1="504.00" x2="286.20" y2="506.80" stroke="#1a1a1a" stroke-width="0.8" />
<text x="288.60" y="514.40" font-size="8.0" fill="#1a1a1a" stroke="#1a1a1a" stroke-width="0.1" text-anchor="end" textLength="2.5" lengthAdjust="spacingAndGlyphs" transform="rotate(-45 288.60 514.40)" >-</text>
<line x1="293.70" y1="504.00" x2="293.70" y2="506.80" stroke="#1a1a1a" stroke-width="0.8" />
<text x="298.30" y="514.40" font-size="8.0" fill="#1a1a1a" stroke="#1a1a1a" stroke-width="0.1" text-anchor="end" textLength="13.8" lengthAdjust="spacingAndGlyphs" transform="rotate(-45 298.30 514.40)" >MI-2</text>
<line x1="301.20" y1="504.00" x2="301.20" y2="506.80" stroke="#1a1a1a" stroke-width="0.8" />
<text x="306.20" y="514.40" font-size="8.0" fill="#1a1a1a" stroke="#1a1a1a" stroke-width="0.1" text-anchor="end" textLength="7.8" lengthAdjust="spacingAndGlyphs" transform="rotate(-45 306.20 514.40)" >C3</text>
<line x1="312.25" y1="504.00" x2="312.25" y2="506.80" stroke="#1a1a1a" stroke-width="0.8" />
<text x="314.65" y="514.40" font-size="8.0" fill="#1a1a1a" stroke="#1a1a1a" stroke-width="0.1" text-anchor="end" textLength="2.5" lengthAdjust="spacingAndGlyphs" transform="rotate(-45 314.65 514.40)" >-</text>
<line x1="319.75" y1="504.00" x2="319.75" y2="506.80" stroke="#1a1a1a" stroke-width="0.8" />
<text x="324.35" y="514.40" font-size="8.0" fill="#1a1a1a" stroke="#1a1a1a" stroke-width="0.1" text-anchor="end" textLength="13.8" lengthAdjust="spacingAndGlyphs" transform="rotate(-45 324.35 514.40)" >MI-2</text>
<line x1="327.25" y1="504.00" x2="327.25" y2="506.80" stroke="#1a1a1a" stroke-width="0.8" />
<text x="332.25" y="514.40" font-size="8.0" fill="#1a1a1a" stroke="#1a1a1a" stroke-width="0.1" text-anchor="end" textLength="7.8" lengthAdjust="spacingAndGlyphs" transform="rotate(-45 332.25 514.40)" >C3</text>
<line x1="338.05" y1="504.00" x2="338.05" y2="506.80" stroke="#1a1a1a" stroke-width="0.8" />
<text x="340.45" y="514.40" font-size="8.0" fill="#1a1a1a" stroke="#1a1a1a" stroke-width="0.1" text-anchor="end" textLength="2.5" lengthAdjust="spacingAndGlyphs" transform="rotate(-45 340.45 514.40)" >-</text>
<line x1="345.55" y1="504.00" x2="345.55" y2="506.80" stroke="#1a1a1a" stroke-width="0.8" />
<text x="350.15" y="514.40" font-size="8.0" fill="#1a1a1a" stroke="#1a1a1a" stroke-width="0.1" text-anchor="end" textLength="13.8" lengthAdjust="spacingAndGlyphs" transform="rotate(-45 350.15 514.40)" >MI-2</text>
<line x1="353.05" y1="504.00" x2="353.05" y2="506.80" stroke="#1a1a1a" stroke-width="0.8" />
<text x="358.05" y="514.40" font-size="8.0" fill="#1a1a1a" stroke="#1a1a1a" stroke-width="0.1" text-anchor="end" textLength="7.8" lengthAdjust="spacingAndGlyphs" transform="rotate(-45 358.05 514.40)" >C3</text>
<line x1="306.80" y1="528.50" x2="332.00" y2="528.50" stroke="#1a1a1a" stroke-width="0.9" />
<line x1="333.80" y1="528.50" x2="357.60" y2="528.50" stroke="#1a1a1a" stroke-width="0.9" />
<text x="306.40" y="537.90" font-size="7.5" fill="#1a1a1a" textLength="25.3" lengthAdjust="spacingAndGlyphs" >CAL-101</text>
<text x="335.30" y="537.90" font-size="7.5" fill="#1a1a1a" textLength="32.3" lengthAdjust="spacingAndGlyphs" >Rapamycin</text>
<text x="425.40" y="439.80" font-size="9.2" fill="#1a1a1a" stroke="#1a1a1a" stroke-width="0.05" text-anchor="middle" textLength="33.0" lengthAdjust="spacingAndGlyphs" >OCI-Ly3</text>
<rect x="396.60" y="470.80" width="6.00" height="11.95" fill="#a8062e" />
<line x1="399.60" y1="474.12" x2="399.60" y2="492.05" stroke="#111" stroke-width="0.8" />
<line x1="398.20" y1="474.12" x2="401.00" y2="474.12" stroke="#111" stroke-width="0.8" />
<line x1="398.20" y1="492.05" x2="401.00" y2="492.05" stroke="#111" stroke-width="0.8" />
<rect x="404.10" y="470.80" width="6.00" height="9.63" fill="#e2901b" />
<line x1="407.10" y1="475.78" x2="407.10" y2="485.41" stroke="#111" stroke-width="0.8" />
<line x1="405.70" y1="475.78" x2="408.50" y2="475.78" stroke="#111" stroke-width="0.8" />
<line x1="405.70" y1="485.41" x2="408.50" y2="485.41" stroke="#111" stroke-width="0.8" />
<rect x="415.15" y="470.80" width="6.00" height="6.31" fill="#4a5266" />
<line x1="418.15" y1="474.95" x2="418.15" y2="479.10" stroke="#111" stroke-width="0.8" />
<line x1="416.75" y1="474.95" x2="419.55" y2="474.95" stroke="#111" stroke-width="0.8" />
<line x1="416.75" y1="479.10" x2="419.55" y2="479.10" stroke="#111" stroke-width="0.8" />
<rect x="422.65" y="470.80" width="6.00" height="4.15" fill="#a8062e" />
<line x1="425.65" y1="474.45" x2="425.65" y2="475.45" stroke="#111" stroke-width="0.8" />
<line x1="424.25" y1="474.45" x2="427.05" y2="474.45" stroke="#111" stroke-width="0.8" />
<line x1="424.25" y1="475.45" x2="427.05" y2="475.45" stroke="#111" stroke-width="0.8" />
<rect x="430.15" y="470.80" width="6.00" height="4.98" fill="#e2901b" />
<line x1="433.15" y1="474.95" x2="433.15" y2="476.61" stroke="#111" stroke-width="0.8" />
<line x1="431.75" y1="474.95" x2="434.55" y2="474.95" stroke="#111" stroke-width="0.8" />
<line x1="431.75" y1="476.61" x2="434.55" y2="476.61" stroke="#111" stroke-width="0.8" />
<rect x="440.95" y="470.80" width="6.00" height="15.77" fill="#4a5266" />
<line x1="443.95" y1="475.78" x2="443.95" y2="497.36" stroke="#111" stroke-width="0.8" />
<line x1="442.55" y1="475.78" x2="445.35" y2="475.78" stroke="#111" stroke-width="0.8" />
<line x1="442.55" y1="497.36" x2="445.35" y2="497.36" stroke="#111" stroke-width="0.8" />
<rect x="448.45" y="470.80" width="6.00" height="11.95" fill="#a8062e" />
<line x1="451.45" y1="475.45" x2="451.45" y2="490.39" stroke="#111" stroke-width="0.8" />
<line x1="450.05" y1="475.45" x2="452.85" y2="475.45" stroke="#111" stroke-width="0.8" />
<line x1="450.05" y1="490.39" x2="452.85" y2="490.39" stroke="#111" stroke-width="0.8" />
<rect x="455.95" y="470.80" width="6.00" height="11.95" fill="#e2901b" />
<line x1="458.95" y1="472.46" x2="458.95" y2="493.21" stroke="#111" stroke-width="0.8" />
<line x1="457.55" y1="472.46" x2="460.35" y2="472.46" stroke="#111" stroke-width="0.8" />
<line x1="457.55" y1="493.21" x2="460.35" y2="493.21" stroke="#111" stroke-width="0.8" />
<line x1="386.30" y1="470.80" x2="464.50" y2="470.80" stroke="#1a1a1a" stroke-width="1.15" />
<line x1="386.30" y1="445.50" x2="386.30" y2="504.60" stroke="#1a1a1a" stroke-width="1.15" />
<line x1="412.90" y1="446.00" x2="412.90" y2="504.00" stroke="#1a1a1a" stroke-width="0.9" />
<line x1="438.40" y1="446.00" x2="438.40" y2="504.00" stroke="#1a1a1a" stroke-width="0.9" />
<line x1="464.50" y1="446.00" x2="464.50" y2="504.00" stroke="#1a1a1a" stroke-width="1.15" />
<line x1="385.80" y1="446.00" x2="465.00" y2="446.00" stroke="#1a1a1a" stroke-width="1.15" />
<line x1="385.80" y1="504.00" x2="465.00" y2="504.00" stroke="#1a1a1a" stroke-width="1.15" />
<line x1="383.70" y1="504.00" x2="386.30" y2="504.00" stroke="#1a1a1a" stroke-width="1.15" />
<text x="380.10" y="506.40" font-size="7" fill="#1a1a1a" text-anchor="end" >-2</text>
<line x1="383.70" y1="487.40" x2="386.30" y2="487.40" stroke="#1a1a1a" stroke-width="1.15" />
<text x="380.10" y="489.80" font-size="7" fill="#1a1a1a" text-anchor="end" >-1</text>
<line x1="383.70" y1="470.80" x2="386.30" y2="470.80" stroke="#1a1a1a" stroke-width="1.15" />
<text x="380.10" y="473.20" font-size="7" fill="#1a1a1a" text-anchor="end" >0</text>
<line x1="383.70" y1="454.20" x2="386.30" y2="454.20" stroke="#1a1a1a" stroke-width="1.15" />
<text x="380.10" y="456.60" font-size="7" fill="#1a1a1a" text-anchor="end" >1</text>
<line x1="392.10" y1="504.00" x2="392.10" y2="506.80" stroke="#1a1a1a" stroke-width="0.8" />
<text x="394.50" y="514.40" font-size="8.0" fill="#1a1a1a" stroke="#1a1a1a" stroke-width="0.1" text-anchor="end" textLength="2.5" lengthAdjust="spacingAndGlyphs" transform="rotate(-45 394.50 514.40)" >-</text>
<line x1="399.60" y1="504.00" x2="399.60" y2="506.80" stroke="#1a1a1a" stroke-width="0.8" />
<text x="404.20" y="514.40" font-size="8.0" fill="#1a1a1a" stroke="#1a1a1a" stroke-width="0.1" text-anchor="end" textLength="13.8" lengthAdjust="spacingAndGlyphs" transform="rotate(-45 404.20 514.40)" >MI-2</text>
<line x1="407.10" y1="504.00" x2="407.10" y2="506.80" stroke="#1a1a1a" stroke-width="0.8" />
<text x="412.10" y="514.40" font-size="8.0" fill="#1a1a1a" stroke="#1a1a1a" stroke-width="0.1" text-anchor="end" textLength="7.8" lengthAdjust="spacingAndGlyphs" transform="rotate(-45 412.10 514.40)" >C3</text>
<line x1="418.15" y1="504.00" x2="418.15" y2="506.80" stroke="#1a1a1a" stroke-width="0.8" />
<text x="420.55" y="514.40" font-size="8.0" fill="#1a1a1a" stroke="#1a1a1a" stroke-width="0.1" text-anchor="end" textLength="2.5" lengthAdjust="spacingAndGlyphs" transform="rotate(-45 420.55 514.40)" >-</text>
<line x1="425.65" y1="504.00" x2="425.65" y2="506.80" stroke="#1a1a1a" stroke-width="0.8" />
<text x="430.25" y="514.40" font-size="8.0" fill="#1a1a1a" stroke="#1a1a1a" stroke-width="0.1" text-anchor="end" textLength="13.8" lengthAdjust="spacingAndGlyphs" transform="rotate(-45 430.25 514.40)" >MI-2</text>
<line x1="433.15" y1="504.00" x2="433.15" y2="506.80" stroke="#1a1a1a" stroke-width="0.8" />
<text x="438.15" y="514.40" font-size="8.0" fill="#1a1a1a" stroke="#1a1a1a" stroke-width="0.1" text-anchor="end" textLength="7.8" lengthAdjust="spacingAndGlyphs" transform="rotate(-45 438.15 514.40)" >C3</text>
<line x1="443.95" y1="504.00" x2="443.95" y2="506.80" stroke="#1a1a1a" stroke-width="0.8" />
<text x="446.35" y="514.40" font-size="8.0" fill="#1a1a1a" stroke="#1a1a1a" stroke-width="0.1" text-anchor="end" textLength="2.5" lengthAdjust="spacingAndGlyphs" transform="rotate(-45 446.35 514.40)" >-</text>
<line x1="451.45" y1="504.00" x2="451.45" y2="506.80" stroke="#1a1a1a" stroke-width="0.8" />
<text x="456.05" y="514.40" font-size="8.0" fill="#1a1a1a" stroke="#1a1a1a" stroke-width="0.1" text-anchor="end" textLength="13.8" lengthAdjust="spacingAndGlyphs" transform="rotate(-45 456.05 514.40)" >MI-2</text>
<line x1="458.95" y1="504.00" x2="458.95" y2="506.80" stroke="#1a1a1a" stroke-width="0.8" />
<text x="463.95" y="514.40" font-size="8.0" fill="#1a1a1a" stroke="#1a1a1a" stroke-width="0.1" text-anchor="end" textLength="7.8" lengthAdjust="spacingAndGlyphs" transform="rotate(-45 463.95 514.40)" >C3</text>
<line x1="412.70" y1="528.50" x2="437.90" y2="528.50" stroke="#1a1a1a" stroke-width="0.9" />
<line x1="439.70" y1="528.50" x2="463.50" y2="528.50" stroke="#1a1a1a" stroke-width="0.9" />
<text x="412.30" y="537.90" font-size="7.5" fill="#1a1a1a" textLength="25.3" lengthAdjust="spacingAndGlyphs" >CAL-101</text>
<text x="441.20" y="537.90" font-size="7.5" fill="#1a1a1a" textLength="32.3" lengthAdjust="spacingAndGlyphs" >Rapamycin</text>
<rect x="470.20" y="450.20" width="7.00" height="7.00" fill="#4a5266" />
<text x="480.20" y="456.10" font-size="8.0" fill="#1a1a1a" >vehicle</text>
<rect x="470.20" y="461.90" width="7.00" height="7.00" fill="#a8062e" />
<text x="480.20" y="467.80" font-size="8.0" fill="#1a1a1a" >MI-2</text>
<rect x="470.20" y="473.60" width="7.00" height="7.00" fill="#e2901b" />
<text x="480.20" y="479.50" font-size="8.0" fill="#1a1a1a" >C3</text>
<text x="38.40" y="475.30" font-size="8.8" fill="#1a1a1a" stroke="#1a1a1a" stroke-width="0.12" text-anchor="middle" textLength="45.8" lengthAdjust="spacingAndGlyphs" transform="rotate(-90 38.40 475.30)" >Roquin p50/FL</text>
<text x="49.60" y="475.30" font-size="8.8" fill="#1a1a1a" stroke="#1a1a1a" stroke-width="0.12" text-anchor="middle" textLength="29.4" lengthAdjust="spacingAndGlyphs" transform="rotate(-90 49.60 475.30)" >(log2 FC)</text>
<line x1="29.80" y1="586.00" x2="29.80" y2="658.20" stroke="#3a3a3a" stroke-width="1.4" />
<line x1="29.10" y1="658.20" x2="192.00" y2="658.20" stroke="#3a3a3a" stroke-width="1.4" />
<path d="M29.8 582.4 L27.2 588.2 L32.4 588.2 Z" fill="#111"/>
<path d="M196.2 658.2 L190.2 655.6 L190.2 660.8 Z" fill="#111"/>
<text x="25.20" y="648.20" font-size="9" fill="#1a1a1a" stroke="#1a1a1a" stroke-width="0.05" text-anchor="middle" textLength="20" lengthAdjust="spacingAndGlyphs" transform="rotate(-90 25.20 648.20)" >GI (Fa)</text>
<text x="29.60" y="669.00" font-size="8.6" fill="#1a1a1a" stroke="#1a1a1a" stroke-width="0.05" textLength="59.5" lengthAdjust="spacingAndGlyphs" >Log [inhibitor], (M)</text>
<rect x="62.50" y="584.90" width="14.30" height="55.10" fill="#e6e6e6" />
<line x1="48.20" y1="584.30" x2="48.20" y2="642.10" stroke="#1a1a1a" stroke-width="1.15" />
<line x1="47.70" y1="641.50" x2="107.00" y2="641.50" stroke="#1a1a1a" stroke-width="1.15" />
<line x1="45.20" y1="641.50" x2="48.20" y2="641.50" stroke="#1a1a1a" stroke-width="1.0" />
<text x="42.60" y="644.00" font-size="7" fill="#1a1a1a" text-anchor="end" >0.0</text>
<line x1="45.20" y1="630.18" x2="48.20" y2="630.18" stroke="#1a1a1a" stroke-width="1.0" />
<text x="42.60" y="632.68" font-size="7" fill="#1a1a1a" text-anchor="end" >0.2</text>
<line x1="45.20" y1="618.86" x2="48.20" y2="618.86" stroke="#1a1a1a" stroke-width="1.0" />
<text x="42.60" y="621.36" font-size="7" fill="#1a1a1a" text-anchor="end" >0.4</text>
<line x1="45.20" y1="607.54" x2="48.20" y2="607.54" stroke="#1a1a1a" stroke-width="1.0" />
<text x="42.60" y="610.04" font-size="7" fill="#1a1a1a" text-anchor="end" >0.6</text>
<line x1="45.20" y1="596.22" x2="48.20" y2="596.22" stroke="#1a1a1a" stroke-width="1.0" />
<text x="42.60" y="598.72" font-size="7" fill="#1a1a1a" text-anchor="end" >0.8</text>
<line x1="45.20" y1="584.90" x2="48.20" y2="584.90" stroke="#1a1a1a" stroke-width="1.0" />
<text x="42.60" y="587.40" font-size="7" fill="#1a1a1a" text-anchor="end" >1.0</text>
<line x1="48.20" y1="641.50" x2="48.20" y2="644.30" stroke="#1a1a1a" stroke-width="1.0" />
<text x="47.20" y="653.8" font-size="6.6" fill="#1a1a1a" text-anchor="middle">10<tspan dy="-3.0" font-size="4.6">-11</tspan></text>
<line x1="62.50" y1="641.50" x2="62.50" y2="644.30" stroke="#1a1a1a" stroke-width="1.0" />
<text x="61.50" y="653.8" font-size="6.6" fill="#1a1a1a" text-anchor="middle">10<tspan dy="-3.0" font-size="4.6">-10</tspan></text>
<line x1="76.80" y1="641.50" x2="76.80" y2="644.30" stroke="#1a1a1a" stroke-width="1.0" />
<text x="75.80" y="653.8" font-size="6.6" fill="#1a1a1a" text-anchor="middle">10<tspan dy="-3.0" font-size="4.6">-9</tspan></text>
<line x1="91.10" y1="641.50" x2="91.10" y2="644.30" stroke="#1a1a1a" stroke-width="1.0" />
<text x="90.10" y="653.8" font-size="6.6" fill="#1a1a1a" text-anchor="middle">10<tspan dy="-3.0" font-size="4.6">-8</tspan></text>
<line x1="105.40" y1="641.50" x2="105.40" y2="644.30" stroke="#1a1a1a" stroke-width="1.0" />
<text x="104.40" y="653.8" font-size="6.6" fill="#1a1a1a" text-anchor="middle">10<tspan dy="-3.0" font-size="4.6">-7</tspan></text>
<text x="77.50" y="581.00" font-size="9" fill="#1a1a1a" stroke="#1a1a1a" stroke-width="0.05" text-anchor="middle" >Temsirolimus</text>
<path d="M57.07 630.74 L58.05 630.40 L59.03 630.01 L60.02 629.55 L61.00 629.03 L61.98 628.44 L62.97 627.75 L63.95 626.98 L64.93 626.11 L65.92 625.13 L66.90 624.05 L67.88 622.86 L68.87 621.56 L69.85 620.17 L70.83 618.68 L71.82 617.12 L72.80 615.50 L73.78 613.84 L74.77 612.17 L75.75 610.50 L76.73 608.86 L77.72 607.28 L78.70 605.76 L79.68 604.33 L80.67 603.00 L81.65 601.77 L82.63 600.65 L83.62 599.63 L84.60 598.72 L85.58 597.91 L86.57 597.20 L87.55 596.57 L88.53 596.02 L89.52 595.54 L90.50 595.13 L91.48 594.77 L92.47 594.47 L93.45 594.20 L94.44 593.98 L95.42 593.79" fill="none" stroke="#e28a12" stroke-width="1.0"/>
<circle cx="57.07" cy="630.75" r="1.5" fill="#e28a12"/>
<line x1="61.33" y1="627.07" x2="61.33" y2="630.46" stroke="#111" stroke-width="0.8" />
<line x1="60.03" y1="627.07" x2="62.63" y2="627.07" stroke="#111" stroke-width="0.8" />
<line x1="60.03" y1="630.46" x2="62.63" y2="630.46" stroke="#111" stroke-width="0.8" />
<circle cx="61.33" cy="628.76" r="1.5" fill="#e28a12"/>
<line x1="65.59" y1="623.67" x2="65.59" y2="627.07" stroke="#111" stroke-width="0.8" />
<line x1="64.29" y1="623.67" x2="66.89" y2="623.67" stroke="#111" stroke-width="0.8" />
<line x1="64.29" y1="627.07" x2="66.89" y2="627.07" stroke="#111" stroke-width="0.8" />
<circle cx="65.59" cy="625.37" r="1.5" fill="#e28a12"/>
<circle cx="69.85" cy="620.56" r="1.5" fill="#e28a12"/>
<circle cx="74.11" cy="613.20" r="1.5" fill="#e28a12"/>
<circle cx="78.37" cy="605.84" r="1.5" fill="#e28a12"/>
<line x1="82.63" y1="599.05" x2="82.63" y2="602.45" stroke="#111" stroke-width="0.8" />
<line x1="81.33" y1="599.05" x2="83.93" y2="599.05" stroke="#111" stroke-width="0.8" />
<line x1="81.33" y1="602.45" x2="83.93" y2="602.45" stroke="#111" stroke-width="0.8" />
<circle cx="82.63" cy="600.75" r="1.5" fill="#e28a12"/>
<circle cx="86.90" cy="597.35" r="1.5" fill="#e28a12"/>
<circle cx="91.16" cy="595.09" r="1.5" fill="#e28a12"/>
<circle cx="95.42" cy="593.39" r="1.5" fill="#e28a12"/>
<path d="M57.07 627.57 L58.05 626.93 L59.03 626.20 L60.02 625.40 L61.00 624.50 L61.98 623.51 L62.97 622.42 L63.95 621.25 L64.93 619.98 L65.92 618.63 L66.90 617.21 L67.88 615.73 L68.87 614.20 L69.85 612.65 L70.83 611.09 L71.82 609.54 L72.80 608.03 L73.78 606.56 L74.77 605.15 L75.75 603.81 L76.73 602.56 L77.72 601.40 L78.70 600.33 L79.68 599.36 L80.67 598.48 L81.65 597.68 L82.63 596.98 L83.62 596.35 L84.60 595.79 L85.58 595.31 L86.57 594.88 L87.55 594.51 L88.53 594.18 L89.52 593.90 L90.50 593.65 L91.48 593.44 L92.47 593.26 L93.45 593.10 L94.44 592.96 L95.42 592.85" fill="none" stroke="#6cb2e6" stroke-width="1.0"/>
<circle cx="57.07" cy="627.35" r="1.5" fill="#6cb2e6"/>
<circle cx="61.33" cy="624.52" r="1.5" fill="#6cb2e6"/>
<circle cx="65.59" cy="618.86" r="1.5" fill="#6cb2e6"/>
<circle cx="69.85" cy="613.20" r="1.5" fill="#6cb2e6"/>
<circle cx="74.11" cy="605.28" r="1.5" fill="#6cb2e6"/>
<circle cx="78.37" cy="600.75" r="1.5" fill="#6cb2e6"/>
<circle cx="82.63" cy="597.35" r="1.5" fill="#6cb2e6"/>
<circle cx="86.90" cy="595.09" r="1.5" fill="#6cb2e6"/>
<circle cx="91.16" cy="593.39" r="1.5" fill="#6cb2e6"/>
<circle cx="95.42" cy="592.54" r="1.5" fill="#6cb2e6"/>
<path d="M57.07 626.90 L58.05 626.59 L59.03 626.23 L60.02 625.83 L61.00 625.36 L61.98 624.83 L62.97 624.22 L63.95 623.55 L64.93 622.79 L65.92 621.95 L66.90 621.03 L67.88 620.04 L68.87 618.97 L69.85 617.83 L70.83 616.65 L71.82 615.42 L72.80 614.18 L73.78 612.92 L74.77 611.68 L75.75 610.47 L76.73 609.31 L77.72 608.20 L78.70 607.16 L79.68 606.20 L80.67 605.31 L81.65 604.51 L82.63 603.78 L83.62 603.14 L84.60 602.57 L85.58 602.06 L86.57 601.62 L87.55 601.24 L88.53 600.90 L89.52 600.61 L90.50 600.37 L91.48 600.15 L92.47 599.97 L93.45 599.81 L94.44 599.68 L95.42 599.57" fill="none" stroke="#1f3c7a" stroke-width="1.0"/>
<line x1="57.07" y1="624.52" x2="57.07" y2="627.92" stroke="#111" stroke-width="0.8" />
<line x1="55.77" y1="624.52" x2="58.37" y2="624.52" stroke="#111" stroke-width="0.8" />
<line x1="55.77" y1="627.92" x2="58.37" y2="627.92" stroke="#111" stroke-width="0.8" />
<circle cx="57.07" cy="626.22" r="1.5" fill="#1f3c7a"/>
<circle cx="61.33" cy="626.22" r="1.5" fill="#1f3c7a"/>
<line x1="65.59" y1="620.56" x2="65.59" y2="623.95" stroke="#111" stroke-width="0.8" />
<line x1="64.29" y1="620.56" x2="66.89" y2="620.56" stroke="#111" stroke-width="0.8" />
<line x1="64.29" y1="623.95" x2="66.89" y2="623.95" stroke="#111" stroke-width="0.8" />
<circle cx="65.59" cy="622.26" r="1.5" fill="#1f3c7a"/>
<line x1="69.85" y1="614.90" x2="69.85" y2="619.43" stroke="#111" stroke-width="0.8" />
<line x1="68.55" y1="614.90" x2="71.15" y2="614.90" stroke="#111" stroke-width="0.8" />
<line x1="68.55" y1="619.43" x2="71.15" y2="619.43" stroke="#111" stroke-width="0.8" />
<circle cx="69.85" cy="617.16" r="1.5" fill="#1f3c7a"/>
<line x1="74.11" y1="610.37" x2="74.11" y2="614.90" stroke="#111" stroke-width="0.8" />
<line x1="72.81" y1="610.37" x2="75.41" y2="610.37" stroke="#111" stroke-width="0.8" />
<line x1="72.81" y1="614.90" x2="75.41" y2="614.90" stroke="#111" stroke-width="0.8" />
<circle cx="74.11" cy="612.63" r="1.5" fill="#1f3c7a"/>
<line x1="78.37" y1="605.84" x2="78.37" y2="610.37" stroke="#111" stroke-width="0.8" />
<line x1="77.07" y1="605.84" x2="79.67" y2="605.84" stroke="#111" stroke-width="0.8" />
<line x1="77.07" y1="610.37" x2="79.67" y2="610.37" stroke="#111" stroke-width="0.8" />
<circle cx="78.37" cy="608.11" r="1.5" fill="#1f3c7a"/>
<line x1="82.63" y1="601.31" x2="82.63" y2="604.71" stroke="#111" stroke-width="0.8" />
<line x1="81.33" y1="601.31" x2="83.93" y2="601.31" stroke="#111" stroke-width="0.8" />
<line x1="81.33" y1="604.71" x2="83.93" y2="604.71" stroke="#111" stroke-width="0.8" />
<circle cx="82.63" cy="603.01" r="1.5" fill="#1f3c7a"/>
<circle cx="86.90" cy="601.88" r="1.5" fill="#1f3c7a"/>
<circle cx="91.16" cy="600.47" r="1.5" fill="#1f3c7a"/>
<circle cx="95.42" cy="599.28" r="1.5" fill="#1f3c7a"/>
<path d="M57.07 625.78 L58.05 624.79 L59.03 623.68 L60.02 622.44 L61.00 621.08 L61.98 619.61 L62.97 618.03 L63.95 616.36 L64.93 614.62 L65.92 612.83 L66.90 611.02 L67.88 609.23 L68.87 607.47 L69.85 605.77 L70.83 604.16 L71.82 602.65 L72.80 601.25 L73.78 599.98 L74.77 598.82 L75.75 597.79 L76.73 596.88 L77.72 596.08 L78.70 595.37 L79.68 594.77 L80.67 594.24 L81.65 593.79 L82.63 593.40 L83.62 593.07 L84.60 592.79 L85.58 592.56 L86.57 592.35 L87.55 592.18 L88.53 592.04 L89.52 591.92 L90.50 591.82 L91.48 591.73 L92.47 591.66 L93.45 591.60 L94.44 591.55 L95.42 591.51" fill="none" stroke="#8c7fcb" stroke-width="1.0"/>
<circle cx="57.07" cy="625.37" r="1.5" fill="#8c7fcb"/>
<circle cx="61.33" cy="621.41" r="1.5" fill="#8c7fcb"/>
<line x1="65.59" y1="610.94" x2="65.59" y2="615.46" stroke="#111" stroke-width="0.8" />
<line x1="64.29" y1="610.94" x2="66.89" y2="610.94" stroke="#111" stroke-width="0.8" />
<line x1="64.29" y1="615.46" x2="66.89" y2="615.46" stroke="#111" stroke-width="0.8" />
<circle cx="65.59" cy="613.20" r="1.5" fill="#8c7fcb"/>
<line x1="69.85" y1="603.01" x2="69.85" y2="607.54" stroke="#111" stroke-width="0.8" />
<line x1="68.55" y1="603.01" x2="71.15" y2="603.01" stroke="#111" stroke-width="0.8" />
<line x1="68.55" y1="607.54" x2="71.15" y2="607.54" stroke="#111" stroke-width="0.8" />
<circle cx="69.85" cy="605.28" r="1.5" fill="#8c7fcb"/>
<line x1="74.11" y1="597.35" x2="74.11" y2="601.88" stroke="#111" stroke-width="0.8" />
<line x1="72.81" y1="597.35" x2="75.41" y2="597.35" stroke="#111" stroke-width="0.8" />
<line x1="72.81" y1="601.88" x2="75.41" y2="601.88" stroke="#111" stroke-width="0.8" />
<circle cx="74.11" cy="599.62" r="1.5" fill="#8c7fcb"/>
<circle cx="78.37" cy="596.22" r="1.5" fill="#8c7fcb"/>
<circle cx="82.63" cy="593.39" r="1.5" fill="#8c7fcb"/>
<circle cx="86.90" cy="592.26" r="1.5" fill="#8c7fcb"/>
<circle cx="91.16" cy="591.69" r="1.5" fill="#8c7fcb"/>
<circle cx="95.42" cy="591.30" r="1.5" fill="#8c7fcb"/>
<rect x="165.05" y="584.90" width="8.79" height="55.10" fill="#e6e6e6" />
<line x1="136.40" y1="584.30" x2="136.40" y2="642.10" stroke="#1a1a1a" stroke-width="1.15" />
<line x1="135.90" y1="641.50" x2="195.00" y2="641.50" stroke="#1a1a1a" stroke-width="1.15" />
<line x1="133.40" y1="641.50" x2="136.40" y2="641.50" stroke="#1a1a1a" stroke-width="1.0" />
<text x="130.80" y="644.00" font-size="7" fill="#1a1a1a" text-anchor="end" >0.0</text>
<line x1="133.40" y1="630.18" x2="136.40" y2="630.18" stroke="#1a1a1a" stroke-width="1.0" />
<text x="130.80" y="632.68" font-size="7" fill="#1a1a1a" text-anchor="end" >0.2</text>
<line x1="133.40" y1="618.86" x2="136.40" y2="618.86" stroke="#1a1a1a" stroke-width="1.0" />
<text x="130.80" y="621.36" font-size="7" fill="#1a1a1a" text-anchor="end" >0.4</text>
<line x1="133.40" y1="607.54" x2="136.40" y2="607.54" stroke="#1a1a1a" stroke-width="1.0" />
<text x="130.80" y="610.04" font-size="7" fill="#1a1a1a" text-anchor="end" >0.6</text>
<line x1="133.40" y1="596.22" x2="136.40" y2="596.22" stroke="#1a1a1a" stroke-width="1.0" />
<text x="130.80" y="598.72" font-size="7" fill="#1a1a1a" text-anchor="end" >0.8</text>
<line x1="133.40" y1="584.90" x2="136.40" y2="584.90" stroke="#1a1a1a" stroke-width="1.0" />
<text x="130.80" y="587.40" font-size="7" fill="#1a1a1a" text-anchor="end" >1.0</text>
<line x1="136.40" y1="641.50" x2="136.40" y2="644.30" stroke="#1a1a1a" stroke-width="1.0" />
<text x="135.40" y="653.8" font-size="6.6" fill="#1a1a1a" text-anchor="middle">10<tspan dy="-3.0" font-size="4.6">-11</tspan></text>
<line x1="155.50" y1="641.50" x2="155.50" y2="644.30" stroke="#1a1a1a" stroke-width="1.0" />
<text x="154.50" y="653.8" font-size="6.6" fill="#1a1a1a" text-anchor="middle">10<tspan dy="-3.0" font-size="4.6">-10</tspan></text>
<line x1="174.60" y1="641.50" x2="174.60" y2="644.30" stroke="#1a1a1a" stroke-width="1.0" />
<text x="173.60" y="653.8" font-size="6.6" fill="#1a1a1a" text-anchor="middle">10<tspan dy="-3.0" font-size="4.6">-9</tspan></text>
<line x1="193.70" y1="641.50" x2="193.70" y2="644.30" stroke="#1a1a1a" stroke-width="1.0" />
<text x="192.70" y="653.8" font-size="6.6" fill="#1a1a1a" text-anchor="middle">10<tspan dy="-3.0" font-size="4.6">-8</tspan></text>
<text x="166.50" y="581.00" font-size="9" fill="#1a1a1a" stroke="#1a1a1a" stroke-width="0.05" text-anchor="middle" >Rapamycin</text>
<path d="M147.10 634.64 L148.03 634.06 L148.97 633.41 L149.90 632.66 L150.84 631.82 L151.77 630.87 L152.71 629.81 L153.64 628.64 L154.58 627.36 L155.51 625.96 L156.45 624.45 L157.39 622.84 L158.32 621.15 L159.26 619.38 L160.19 617.57 L161.13 615.73 L162.06 613.89 L163.00 612.06 L163.93 610.28 L164.87 608.57 L165.80 606.94 L166.74 605.40 L167.68 603.97 L168.61 602.66 L169.55 601.45 L170.48 600.37 L171.42 599.39 L172.35 598.52 L173.29 597.75 L174.22 597.07 L175.16 596.48 L176.09 595.96 L177.03 595.50 L177.96 595.11 L178.90 594.77 L179.84 594.48 L180.77 594.23 L181.71 594.01 L182.64 593.82 L183.58 593.67" fill="none" stroke="#e28a12" stroke-width="1.0"/>
<line x1="147.10" y1="633.01" x2="147.10" y2="636.41" stroke="#111" stroke-width="0.8" />
<line x1="145.80" y1="633.01" x2="148.40" y2="633.01" stroke="#111" stroke-width="0.8" />
<line x1="145.80" y1="636.41" x2="148.40" y2="636.41" stroke="#111" stroke-width="0.8" />
<circle cx="147.10" cy="634.71" r="1.5" fill="#e28a12"/>
<line x1="156.30" y1="617.73" x2="156.30" y2="631.31" stroke="#e28a12" stroke-width="0.8" />
<line x1="155.00" y1="617.73" x2="157.60" y2="617.73" stroke="#e28a12" stroke-width="0.8" />
<line x1="155.00" y1="631.31" x2="157.60" y2="631.31" stroke="#e28a12" stroke-width="0.8" />
<circle cx="156.30" cy="624.52" r="1.5" fill="#e28a12"/>
<circle cx="165.62" cy="607.54" r="1.5" fill="#e28a12"/>
<circle cx="174.79" cy="596.22" r="1.5" fill="#e28a12"/>
<circle cx="183.58" cy="593.96" r="1.5" fill="#e28a12"/>
<path d="M147.10 634.68 L148.03 634.20 L148.97 633.65 L149.90 633.01 L150.84 632.27 L151.77 631.43 L152.71 630.48 L153.64 629.41 L154.58 628.22 L155.51 626.91 L156.45 625.47 L157.39 623.93 L158.32 622.29 L159.26 620.57 L160.19 618.78 L161.13 616.96 L162.06 615.14 L163.00 613.33 L163.93 611.57 L164.87 609.88 L165.80 608.28 L166.74 606.78 L167.68 605.40 L168.61 604.14 L169.55 603.00 L170.48 601.98 L171.42 601.07 L172.35 600.28 L173.29 599.58 L174.22 598.98 L175.16 598.45 L176.09 598.00 L177.03 597.62 L177.96 597.28 L178.90 597.00 L179.84 596.76 L180.77 596.56 L181.71 596.38 L182.64 596.24 L183.58 596.11" fill="none" stroke="#6cb2e6" stroke-width="1.0"/>
<line x1="147.10" y1="629.05" x2="147.10" y2="640.37" stroke="#6cb2e6" stroke-width="0.8" />
<line x1="145.80" y1="629.05" x2="148.40" y2="629.05" stroke="#6cb2e6" stroke-width="0.8" />
<line x1="145.80" y1="640.37" x2="148.40" y2="640.37" stroke="#6cb2e6" stroke-width="0.8" />
<circle cx="147.10" cy="634.71" r="1.5" fill="#6cb2e6"/>
<line x1="156.30" y1="617.16" x2="156.30" y2="634.14" stroke="#6cb2e6" stroke-width="0.8" />
<line x1="155.00" y1="617.16" x2="157.60" y2="617.16" stroke="#6cb2e6" stroke-width="0.8" />
<line x1="155.00" y1="634.14" x2="157.60" y2="634.14" stroke="#6cb2e6" stroke-width="0.8" />
<circle cx="156.30" cy="625.65" r="1.5" fill="#6cb2e6"/>
<line x1="165.62" y1="601.88" x2="165.62" y2="615.46" stroke="#6cb2e6" stroke-width="0.8" />
<line x1="164.32" y1="601.88" x2="166.92" y2="601.88" stroke="#6cb2e6" stroke-width="0.8" />
<line x1="164.32" y1="615.46" x2="166.92" y2="615.46" stroke="#6cb2e6" stroke-width="0.8" />
<circle cx="165.62" cy="608.67" r="1.5" fill="#6cb2e6"/>
<line x1="174.79" y1="595.65" x2="174.79" y2="601.31" stroke="#6cb2e6" stroke-width="0.8" />
<line x1="173.49" y1="595.65" x2="176.09" y2="595.65" stroke="#6cb2e6" stroke-width="0.8" />
<line x1="173.49" y1="601.31" x2="176.09" y2="601.31" stroke="#6cb2e6" stroke-width="0.8" />
<circle cx="174.79" cy="598.48" r="1.5" fill="#6cb2e6"/>
<line x1="183.58" y1="593.39" x2="183.58" y2="599.05" stroke="#6cb2e6" stroke-width="0.8" />
<line x1="182.28" y1="593.39" x2="184.88" y2="593.39" stroke="#6cb2e6" stroke-width="0.8" />
<line x1="182.28" y1="599.05" x2="184.88" y2="599.05" stroke="#6cb2e6" stroke-width="0.8" />
<circle cx="183.58" cy="596.22" r="1.5" fill="#6cb2e6"/>
<path d="M147.10 639.80 L148.03 639.29 L148.97 638.72 L149.90 638.08 L150.84 637.36 L151.77 636.56 L152.71 635.67 L153.64 634.68 L154.58 633.59 L155.51 632.40 L156.45 631.10 L157.39 629.69 L158.32 628.19 L159.26 626.57 L160.19 624.87 L161.13 623.08 L162.06 621.22 L163.00 619.30 L163.93 617.35 L164.87 615.37 L165.80 613.38 L166.74 611.42 L167.68 609.48 L168.61 607.60 L169.55 605.79 L170.48 604.06 L171.42 602.42 L172.35 600.88 L173.29 599.44 L174.22 598.11 L175.16 596.88 L176.09 595.76 L177.03 594.74 L177.96 593.82 L178.90 592.99 L179.84 592.25 L180.77 591.58 L181.71 590.99 L182.64 590.46 L183.58 589.99" fill="none" stroke="#8c7fcb" stroke-width="1.0"/>
<circle cx="147.10" cy="639.80" r="1.5" fill="#8c7fcb"/>
<line x1="156.30" y1="627.92" x2="156.30" y2="634.71" stroke="#111" stroke-width="0.8" />
<line x1="155.00" y1="627.92" x2="157.60" y2="627.92" stroke="#111" stroke-width="0.8" />
<line x1="155.00" y1="634.71" x2="157.60" y2="634.71" stroke="#111" stroke-width="0.8" />
<circle cx="156.30" cy="631.31" r="1.5" fill="#8c7fcb"/>
<line x1="165.62" y1="610.94" x2="165.62" y2="616.60" stroke="#111" stroke-width="0.8" />
<line x1="164.32" y1="610.94" x2="166.92" y2="610.94" stroke="#111" stroke-width="0.8" />
<line x1="164.32" y1="616.60" x2="166.92" y2="616.60" stroke="#111" stroke-width="0.8" />
<circle cx="165.62" cy="613.77" r="1.5" fill="#8c7fcb"/>
<circle cx="174.79" cy="597.35" r="1.5" fill="#8c7fcb"/>
<circle cx="183.58" cy="589.99" r="1.5" fill="#8c7fcb"/>
<path d="M147.10 636.70 L148.03 636.11 L148.97 635.43 L149.90 634.68 L150.84 633.84 L151.77 632.90 L152.71 631.86 L153.64 630.71 L154.58 629.46 L155.51 628.10 L156.45 626.65 L157.39 625.09 L158.32 623.45 L159.26 621.73 L160.19 619.95 L161.13 618.13 L162.06 616.28 L163.00 614.43 L163.93 612.59 L164.87 610.79 L165.80 609.05 L166.74 607.37 L167.68 605.78 L168.61 604.29 L169.55 602.89 L170.48 601.60 L171.42 600.41 L172.35 599.33 L173.29 598.35 L174.22 597.47 L175.16 596.68 L176.09 595.98 L177.03 595.36 L177.96 594.81 L178.90 594.32 L179.84 593.89 L180.77 593.52 L181.71 593.19 L182.64 592.91 L183.58 592.66" fill="none" stroke="#1f3c7a" stroke-width="1.0"/>
<line x1="147.10" y1="635.27" x2="147.10" y2="638.67" stroke="#111" stroke-width="0.8" />
<line x1="145.80" y1="635.27" x2="148.40" y2="635.27" stroke="#111" stroke-width="0.8" />
<line x1="145.80" y1="638.67" x2="148.40" y2="638.67" stroke="#111" stroke-width="0.8" />
<circle cx="147.10" cy="636.97" r="1.5" fill="#1f3c7a"/>
<line x1="156.30" y1="623.95" x2="156.30" y2="628.48" stroke="#111" stroke-width="0.8" />
<line x1="155.00" y1="623.95" x2="157.60" y2="623.95" stroke="#111" stroke-width="0.8" />
<line x1="155.00" y1="628.48" x2="157.60" y2="628.48" stroke="#111" stroke-width="0.8" />
<circle cx="156.30" cy="626.22" r="1.5" fill="#1f3c7a"/>
<circle cx="165.62" cy="610.37" r="1.5" fill="#1f3c7a"/>
<line x1="174.79" y1="593.96" x2="174.79" y2="597.35" stroke="#111" stroke-width="0.8" />
<line x1="173.49" y1="593.96" x2="176.09" y2="593.96" stroke="#111" stroke-width="0.8" />
<line x1="173.49" y1="597.35" x2="176.09" y2="597.35" stroke="#111" stroke-width="0.8" />
<circle cx="174.79" cy="595.65" r="1.5" fill="#1f3c7a"/>
<circle cx="183.58" cy="593.39" r="1.5" fill="#1f3c7a"/>
<line x1="208.50" y1="589.20" x2="219.90" y2="589.20" stroke="#1f3c7a" stroke-width="1.2" />
<circle cx="214.2" cy="589.20" r="2.2" fill="#1f3c7a"/>
<text x="223.00" y="591.90" font-size="7.6" fill="#1a1a1a" textLength="17.8" lengthAdjust="spacingAndGlyphs" >HBL-1</text>
<line x1="208.50" y1="602.10" x2="219.90" y2="602.10" stroke="#8c7fcb" stroke-width="1.2" />
<circle cx="214.2" cy="602.10" r="2.2" fill="#8c7fcb"/>
<text x="223.00" y="604.80" font-size="7.6" fill="#1a1a1a" textLength="18.4" lengthAdjust="spacingAndGlyphs" >TMD8</text>
<line x1="208.50" y1="615.00" x2="219.90" y2="615.00" stroke="#6cb2e6" stroke-width="1.2" />
<circle cx="214.2" cy="615.00" r="2.2" fill="#6cb2e6"/>
<text x="223.00" y="617.70" font-size="7.6" fill="#1a1a1a" textLength="28.3" lengthAdjust="spacingAndGlyphs" >OCI-Ly10</text>
<line x1="208.50" y1="627.90" x2="219.90" y2="627.90" stroke="#e28a12" stroke-width="1.2" />
<circle cx="214.2" cy="627.90" r="2.2" fill="#e28a12"/>
<text x="223.00" y="630.60" font-size="7.6" fill="#1a1a1a" textLength="24.5" lengthAdjust="spacingAndGlyphs" >OCI-Ly3</text>
<text x="327.00" y="567.30" font-size="8.6" fill="#1a1a1a" stroke="#1a1a1a" stroke-width="0.05" text-anchor="middle" textLength="52.4" lengthAdjust="spacingAndGlyphs" >Temsirolimus</text>
<line x1="312.30" y1="571.60" x2="341.00" y2="571.60" stroke="#333" stroke-width="1.2" />
<text x="380.80" y="567.30" font-size="8.6" fill="#1a1a1a" stroke="#1a1a1a" stroke-width="0.05" text-anchor="middle" textLength="43.8" lengthAdjust="spacingAndGlyphs" >Rapamycin</text>
<line x1="360.30" y1="571.60" x2="402.30" y2="571.60" stroke="#333" stroke-width="1.2" />
<text x="307.20" y="610.45" font-size="7" fill="#1a1a1a" text-anchor="end" >HBL-1</text>
<text x="307.20" y="626.95" font-size="7" fill="#1a1a1a" text-anchor="end" >TMD8</text>
<text x="307.20" y="643.45" font-size="7" fill="#1a1a1a" text-anchor="end" >OCI-Ly10</text>
<text x="307.20" y="659.90" font-size="7" fill="#1a1a1a" text-anchor="end" >OCI-Ly3</text>
<rect x="311.00" y="599.70" width="16.10" height="16.50" fill="#c98c8c" stroke="#7a3a3a" stroke-width="0.5"/>
<rect x="327.10" y="599.70" width="16.70" height="16.50" fill="#d83a35" stroke="#7a3a3a" stroke-width="0.5"/>
<rect x="356.10" y="599.70" width="16.50" height="16.50" fill="#c99090" stroke="#7a3a3a" stroke-width="0.5"/>
<rect x="372.60" y="599.70" width="16.30" height="16.50" fill="#d05f5e" stroke="#7a3a3a" stroke-width="0.5"/>
<rect x="388.90" y="599.70" width="16.90" height="16.50" fill="#ffffff" stroke="#7a3a3a" stroke-width="0.5"/>
<rect x="311.00" y="616.20" width="16.10" height="16.50" fill="#d44a48" stroke="#7a3a3a" stroke-width="0.5"/>
<rect x="327.10" y="616.20" width="16.70" height="16.50" fill="#d64540" stroke="#7a3a3a" stroke-width="0.5"/>
<rect x="356.10" y="616.20" width="16.50" height="16.50" fill="#d44c4a" stroke="#7a3a3a" stroke-width="0.5"/>
<rect x="372.60" y="616.20" width="16.30" height="16.50" fill="#d06262" stroke="#7a3a3a" stroke-width="0.5"/>
<rect x="388.90" y="616.20" width="16.90" height="16.50" fill="#da3a34" stroke="#7a3a3a" stroke-width="0.5"/>
<rect x="311.00" y="632.70" width="16.10" height="16.50" fill="#d25552" stroke="#7a3a3a" stroke-width="0.5"/>
<rect x="327.10" y="632.70" width="16.70" height="16.50" fill="#dc3a2e" stroke="#7a3a3a" stroke-width="0.5"/>
<rect x="356.10" y="632.70" width="16.50" height="16.50" fill="#d83c38" stroke="#7a3a3a" stroke-width="0.5"/>
<rect x="372.60" y="632.70" width="16.30" height="16.50" fill="#d25856" stroke="#7a3a3a" stroke-width="0.5"/>
<rect x="388.90" y="632.70" width="16.90" height="16.50" fill="#d64844" stroke="#7a3a3a" stroke-width="0.5"/>
<rect x="311.00" y="649.20" width="16.10" height="16.40" fill="#d44a46" stroke="#7a3a3a" stroke-width="0.5"/>
<rect x="327.10" y="649.20" width="16.70" height="16.40" fill="#d06a6a" stroke="#7a3a3a" stroke-width="0.5"/>
<rect x="356.10" y="649.20" width="16.50" height="16.40" fill="#d25e5c" stroke="#7a3a3a" stroke-width="0.5"/>
<rect x="372.60" y="649.20" width="16.30" height="16.40" fill="#d06060" stroke="#7a3a3a" stroke-width="0.5"/>
<rect x="388.90" y="649.20" width="16.90" height="16.40" fill="#cc7a7a" stroke="#7a3a3a" stroke-width="0.5"/>
<text x="321.25" y="596.40" font-size="7.2" fill="#1a1a1a" stroke="#1a1a1a" stroke-width="0.1" textLength="8.0" lengthAdjust="spacingAndGlyphs" transform="rotate(-90 321.25 596.40)" >C3</text>
<text x="337.65" y="596.40" font-size="7.2" fill="#1a1a1a" stroke="#1a1a1a" stroke-width="0.1" textLength="12.6" lengthAdjust="spacingAndGlyphs" transform="rotate(-90 337.65 596.40)" >MI-2</text>
<text x="366.55" y="596.40" font-size="7.2" fill="#1a1a1a" stroke="#1a1a1a" stroke-width="0.1" textLength="8.0" lengthAdjust="spacingAndGlyphs" transform="rotate(-90 366.55 596.40)" >C3</text>
<text x="382.95" y="596.40" font-size="7.2" fill="#1a1a1a" stroke="#1a1a1a" stroke-width="0.1" textLength="12.6" lengthAdjust="spacingAndGlyphs" transform="rotate(-90 382.95 596.40)" >MI-2</text>
<text x="399.55" y="596.40" font-size="7.2" fill="#1a1a1a" stroke="#1a1a1a" stroke-width="0.1" textLength="16.6" lengthAdjust="spacingAndGlyphs" transform="rotate(-90 399.55 596.40)" >Mepa</text>
<defs><linearGradient id="cb" x1="0" y1="0" x2="0" y2="1"><stop offset="0" stop-color="#e2281e"/><stop offset="0.2" stop-color="#d6504c"/><stop offset="0.4" stop-color="#cfa8a8"/><stop offset="0.48" stop-color="#d2d2d2"/><stop offset="0.7" stop-color="#7a7a7a"/><stop offset="1" stop-color="#000000"/></linearGradient></defs>
<rect x="426.20" y="599.40" width="10.20" height="65.00" fill="url(#cb)" stroke="#555" stroke-width="0.4"/>
<text x="437.80" y="615.30" font-size="7" fill="#1a1a1a" >0.5</text>
<text x="437.80" y="632.40" font-size="7" fill="#1a1a1a" >1.0</text>
<text x="437.80" y="649.60" font-size="7" fill="#1a1a1a" >1.5</text>
<text x="437.80" y="667.00" font-size="7" fill="#1a1a1a" >2.0</text>
<text x="432.70" y="597.30" font-size="9.6" fill="#1a1a1a" stroke="#1a1a1a" stroke-width="0.05" text-anchor="middle" textLength="35.4" lengthAdjust="spacingAndGlyphs" >CI (Fa50)</text>
<line x1="452.70" y1="600.90" x2="452.70" y2="623.90" stroke="#1a1a1a" stroke-width="0.9" />
<path d="M452.7 599.4 L451.4 601.6 L454.0 601.6 Z" fill="#1a1a1a"/>
<path d="M452.7 625.4 L451.4 623.1999999999999 L454.0 623.1999999999999 Z" fill="#1a1a1a"/>
<line x1="452.70" y1="630.50" x2="452.70" y2="633.40" stroke="#1a1a1a" stroke-width="0.9" />
<path d="M452.7 629.0 L451.4 631.2 L454.0 631.2 Z" fill="#1a1a1a"/>
<path d="M452.7 634.9 L451.4 632.6999999999999 L454.0 632.6999999999999 Z" fill="#1a1a1a"/>
<line x1="452.70" y1="639.30" x2="452.70" y2="663.10" stroke="#1a1a1a" stroke-width="0.9" />
<path d="M452.7 637.8 L451.4 640.0 L454.0 640.0 Z" fill="#1a1a1a"/>
<path d="M452.7 664.6 L451.4 662.4 L454.0 662.4 Z" fill="#1a1a1a"/>
<text x="457.00" y="616.90" font-size="7" fill="#1a1a1a" textLength="23.6" lengthAdjust="spacingAndGlyphs" >synergy</text>
<text x="457.00" y="634.10" font-size="7" fill="#1a1a1a" textLength="28.8" lengthAdjust="spacingAndGlyphs" >additivity</text>
<text x="457.00" y="656.20" font-size="7" fill="#1a1a1a" >no</text>
<text x="457.00" y="664.60" font-size="7" fill="#1a1a1a" textLength="32.0" lengthAdjust="spacingAndGlyphs" >interaction</text>
<rect x="0.5" y="0.5" width="519" height="678" fill="none" stroke="#000" stroke-width="1"/>
</svg>
</body></html>
